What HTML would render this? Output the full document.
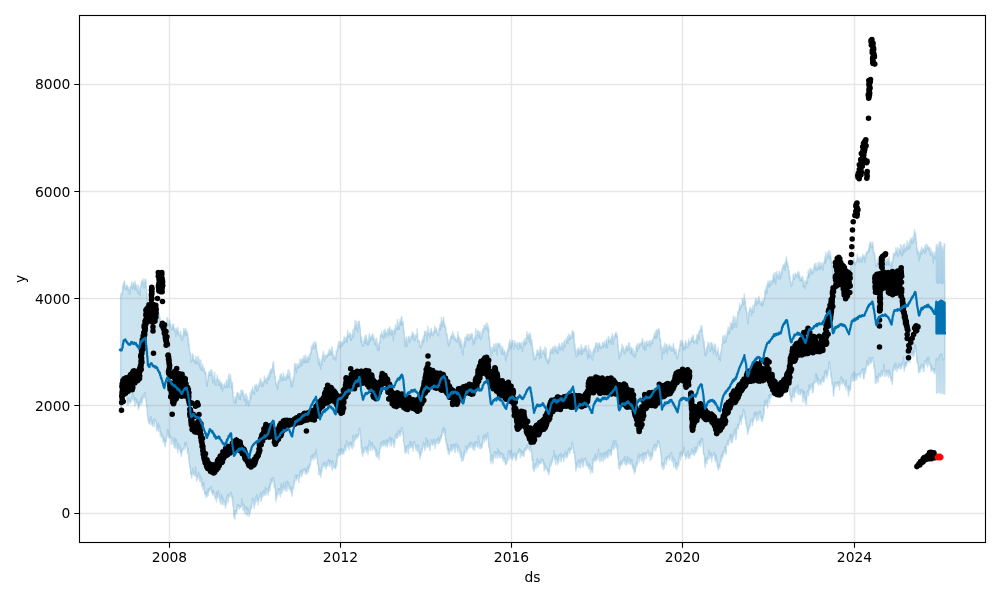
<!DOCTYPE html>
<html lang="en"><head><meta charset="utf-8"><title>Prophet forecast</title>
<style>html,body{margin:0;padding:0;background:#fff}body{width:1000px;height:600px;overflow:hidden}svg{display:block}text{font-family:"DejaVu Sans","Liberation Sans",sans-serif;font-size:13.89px;fill:#000}</style></head><body>
<svg width="1000" height="600" viewBox="0 0 1000 600">
<rect width="1000" height="600" fill="#fff"/>
<path d="M120.6,293.5 120.8,297.1 121,297.3 121.3,297.1 121.5,295.1 121.7,295.2 121.9,294.5 122.1,291.7 122.4,293.5 122.6,285.1 122.8,290.6 123,285.6 123.2,288.7 123.5,284.4 123.7,282.2 123.9,284.8 124.1,282.1 124.3,282.3 124.6,281 124.8,284.8 125,286.4 125.2,288.5 125.4,286.7 125.7,289.6 125.9,286.7 126.1,285.9 126.3,287 126.5,288.1 126.8,285.1 127,285.6 127.2,286 127.4,287.2 127.6,285.7 127.9,290.8 128.1,288.1 128.3,290.3 128.5,287.4 128.7,290.3 129,290.4 129.2,288.6 129.4,294.3 129.6,290.6 129.8,293.8 130.1,291.5 130.3,286.8 130.5,286.4 130.7,287.6 130.9,286.6 131.2,286.5 131.4,285.6 131.6,282.3 131.8,286.5 132,282.5 132.3,289.1 132.5,286.4 132.7,285.8 132.9,286.3 133.1,286.8 133.4,283.2 133.6,282.9 133.8,284.7 134,282.6 134.2,284.4 134.5,289.4 134.7,282.4 134.9,285.5 135.1,281.2 135.3,285.5 135.6,284.7 135.8,285.7 136,287.2 136.2,289.9 136.4,286.4 136.7,286.5 136.9,285 137.1,289.6 137.3,288.7 137.5,291.8 137.8,289.7 138,293.8 138.2,285.1 138.4,289.6 138.6,293.3 138.9,291.5 139.1,291.2 139.3,291.9 139.5,288.5 139.7,291.2 140,295.8 140.2,291.9 140.4,285.9 140.6,285.6 140.8,285.8 141.1,287.4 141.3,282 141.5,281 141.7,283.6 141.9,284.2 142.2,282 142.4,280.9 142.6,280.4 142.8,282.4 143,278.8 143.3,285.7 143.5,282.5 143.7,285 143.9,288.1 144.1,286.4 144.4,280.6 144.6,284.3 144.8,284.1 145,278.9 145.2,279 145.5,281.9 145.7,279.5 145.9,287.6 146.1,280.3 146.3,285.7 146.6,290 146.8,292.5 147,296.1 147.2,299.3 147.4,301.1 147.7,307.2 147.9,303.3 148.1,310.6 148.3,309.9 148.5,312.4 148.8,311.9 149,308.5 149.2,308.4 149.4,311.3 149.6,310 149.9,307.5 150.1,313.5 150.3,313.9 150.5,305.1 150.7,309 151,313.9 151.2,310 151.4,308.4 151.6,307.1 151.8,306.1 152.1,307.2 152.3,307 152.5,310.6 152.7,308.6 152.9,309 153.2,307.4 153.4,310.3 153.6,308.5 153.8,310.1 154,313 154.3,311.5 154.5,311.8 154.7,310.9 154.9,309.7 155.1,308.8 155.4,308.2 155.6,311.2 155.8,307.6 156,313.8 156.2,311.5 156.5,310.3 156.7,311.8 156.9,312.3 157.1,314.2 157.3,311.3 157.6,314.7 157.8,309.3 158,306.6 158.2,311.6 158.4,310.1 158.7,316.1 158.9,318.9 159.1,318.2 159.3,313.9 159.5,315.5 159.8,321.6 160,318.6 160.2,318.1 160.4,321 160.6,325.9 160.9,325.1 161.1,324.2 161.3,326.1 161.5,326.8 161.7,324 162,323 162.2,325.8 162.4,323.5 162.6,325.5 162.8,325.9 163.1,331.8 163.3,325.9 163.5,329 163.7,330.3 163.9,332.9 164.2,334.3 164.4,330.2 164.6,328.9 164.8,326.1 165,326.7 165.3,328.9 165.5,326.7 165.7,323.9 165.9,325 166.1,325.6 166.4,326.3 166.6,322.7 166.8,322.4 167,317.8 167.2,319.4 167.5,326.3 167.7,318 167.9,322.8 168.1,324.7 168.3,323.9 168.6,323.4 168.8,325.7 169,325.8 169.2,324.9 169.4,320 169.7,323.3 169.9,321.7 170.1,323.1 170.3,325.5 170.5,327.2 170.8,327.9 171,324.7 171.2,328 171.4,328.6 171.6,328.9 171.9,330.1 172.1,327.1 172.3,327.6 172.5,329.6 172.7,324.3 173,327.6 173.2,325.6 173.4,326.4 173.6,323.6 173.8,326 174.1,328.4 174.3,330.8 174.5,331.3 174.7,329.2 174.9,329.3 175.2,328.5 175.4,332 175.6,331.1 175.8,333.5 176,336.4 176.3,332.6 176.5,329.5 176.7,330.5 176.9,328.3 177.1,328 177.4,332.9 177.6,330.6 177.8,327 178,332.5 178.2,334.3 178.5,331.4 178.7,331.5 178.9,333.2 179.1,335.4 179.3,335.3 179.6,335.8 179.8,335 180,334.5 180.2,335.9 180.4,335.3 180.7,331.3 180.9,335.3 181.1,336.9 181.3,335.7 181.5,339.2 181.8,336.4 182,335.3 182.2,340.8 182.4,339.2 182.6,337.7 182.9,338.7 183.1,338.3 183.3,335.9 183.5,328.6 183.7,331.8 184,331.4 184.2,329.6 184.4,332.1 184.6,334.3 184.8,330.4 185.1,328.8 185.3,336 185.5,330.3 185.7,328.5 185.9,332 186.2,333.1 186.4,331.2 186.6,335.3 186.8,332.6 187,330.9 187.3,333.9 187.5,335.7 187.7,333.3 187.9,336.9 188.1,337.3 188.4,345.4 188.6,338.8 188.8,345.2 189,343.6 189.2,345.5 189.5,349.3 189.7,351.3 189.9,353.8 190.1,353.3 190.3,353 190.6,355 190.8,359.2 191,361.2 191.2,362.4 191.4,359.4 191.7,360.1 191.9,360.5 192.1,357.6 192.3,353.9 192.5,354.8 192.8,354.2 193,360.6 193.2,355 193.4,359.8 193.6,358.7 193.9,362.2 194.1,361.5 194.3,359.9 194.5,360.1 194.7,360.7 195,360.9 195.2,359.3 195.4,360.3 195.6,364 195.8,356.3 196.1,360.7 196.3,358.3 196.5,361.2 196.7,363.1 196.9,361.4 197.2,362.9 197.4,357.1 197.6,363 197.8,358.8 198,362.3 198.3,361.9 198.5,356.2 198.7,360.9 198.9,362.7 199.1,365.6 199.4,362.7 199.6,362.8 199.8,359.7 200,366.9 200.2,368.5 200.5,364.6 200.7,363.6 200.9,360.1 201.1,365.4 201.3,370.2 201.6,366.8 201.8,369.3 202,368.8 202.2,365.3 202.4,370.4 202.7,364.2 202.9,366.2 203.1,367.7 203.3,369.6 203.5,368.9 203.8,369.3 204,368.1 204.2,368.2 204.4,372.7 204.6,372.1 204.9,371 205.1,371.5 205.3,373.7 205.5,371.2 205.7,373.5 206,374 206.2,379.3 206.4,381.2 206.6,386.4 206.8,379.9 207.1,383.1 207.3,385.6 207.5,381 207.7,378.8 207.9,381.5 208.2,375.8 208.4,373.4 208.6,372.4 208.8,375.7 209,375.3 209.3,371.1 209.5,371.8 209.7,375 209.9,374.5 210.1,371.8 210.4,375.2 210.6,375.4 210.8,370 211,373.4 211.2,375.1 211.5,372.9 211.7,369.6 211.9,374.1 212.1,376.8 212.3,379.2 212.6,371.2 212.8,383 213,375.1 213.2,380.4 213.4,381.3 213.7,381 213.9,379.4 214.1,376.3 214.3,380.1 214.5,376.7 214.8,372.2 215,385.1 215.2,381.1 215.4,384.4 215.6,378.9 215.9,384.8 216.1,385.4 216.3,385.3 216.5,381.6 216.7,378.4 217,380.2 217.2,375 217.4,375.8 217.6,380.5 217.8,378.5 218.1,380.9 218.3,381.2 218.5,385.3 218.7,383.3 218.9,379.7 219.2,382.9 219.4,379.6 219.6,381.8 219.8,385.8 220,381.3 220.3,383.6 220.5,381.2 220.7,384.5 220.9,388.3 221.1,383.1 221.4,385.7 221.6,383.5 221.8,383 222,382.9 222.2,389 222.5,391 222.7,387.1 222.9,384.8 223.1,388.5 223.3,386.4 223.6,388.4 223.8,386.6 224,386 224.2,386.6 224.4,384.4 224.7,385.5 224.9,383 225.1,386.4 225.3,384.3 225.5,387.4 225.8,385.7 226,387.2 226.2,386.4 226.4,380.5 226.6,380.3 226.9,380.2 227.1,384.9 227.3,387.9 227.5,386.7 227.7,382.6 228,385.2 228.2,376.8 228.4,382.2 228.6,378 228.8,373.9 229.1,387.1 229.3,385.2 229.5,378.1 229.7,379.8 229.9,377.8 230.2,377.9 230.4,374.6 230.6,376.8 230.8,379.8 231,379.6 231.3,383.3 231.5,382.2 231.7,388.8 231.9,383 232.1,386.2 232.4,382.3 232.6,384.7 232.8,392.9 233,390.6 233.2,396.9 233.5,398.4 233.7,398.1 233.9,401.4 234.1,401.7 234.3,401.5 234.6,403.3 234.8,402.1 235,398.2 235.2,396.5 235.4,398.8 235.7,397.5 235.9,399.6 236.1,403 236.3,398.5 236.5,396.2 236.8,395.5 237,393.5 237.2,392.9 237.4,392.2 237.6,393.1 237.9,393.2 238.1,396.7 238.3,394.8 238.5,396.1 238.7,393.5 239,399.2 239.2,395.8 239.4,397.9 239.6,395.5 239.8,397.2 240.1,393.3 240.3,395.6 240.5,399.8 240.7,390.3 240.9,395.4 241.2,396.1 241.4,393.1 241.6,393.9 241.8,395 242,390.5 242.3,392.9 242.5,389.9 242.7,390.3 242.9,390.8 243.1,393.3 243.4,395.3 243.6,397.4 243.8,393.5 244,401.1 244.2,398.8 244.5,397.4 244.7,395.1 244.9,396.5 245.1,398.7 245.3,399.1 245.6,394.2 245.8,399.7 246,404.7 246.2,393.5 246.4,400.3 246.7,399 246.9,398 247.1,401.6 247.3,396.2 247.5,400 247.8,403.7 248,400.3 248.2,400.2 248.4,401.8 248.6,400.8 248.9,405.9 249.1,400.4 249.3,403.9 249.5,398.3 249.7,402.1 250,399.2 250.2,392.3 250.4,397.3 250.6,393.9 250.8,394.5 251.1,398.4 251.3,391.2 251.5,390.2 251.7,394.7 251.9,390.3 252.2,392.7 252.4,389.8 252.6,387 252.8,388.9 253,392 253.3,392.2 253.5,390.8 253.7,391.8 253.9,392.1 254.1,389.7 254.4,394.4 254.6,388.6 254.8,384.9 255,386.1 255.2,388.6 255.5,388.1 255.7,386.3 255.9,385.5 256.1,387.6 256.3,384.1 256.6,385.4 256.8,390.7 257,388 257.2,390.3 257.4,391.6 257.7,388.8 257.9,386 258.1,389.6 258.3,386.1 258.5,384.1 258.8,387.1 259,386.8 259.2,383.5 259.4,385.4 259.6,384.5 259.9,379.9 260.1,383.5 260.3,382.6 260.5,381.6 260.7,378.4 261,382.4 261.2,384 261.4,385.3 261.6,382.9 261.8,386.5 262.1,381.7 262.3,383.5 262.5,386.8 262.7,382 262.9,382.3 263.2,385.9 263.4,382.1 263.6,381.8 263.8,382.5 264,383.9 264.3,376.3 264.5,380 264.7,379.9 264.9,380.1 265.1,380.2 265.4,379.6 265.6,381.7 265.8,378.3 266,380.7 266.2,381.4 266.5,378.7 266.7,380.7 266.9,383.6 267.1,379.9 267.3,377.1 267.6,378 267.8,375.7 268,378.3 268.2,378.9 268.4,374.7 268.7,376.5 268.9,380 269.1,376.6 269.3,377.6 269.5,373.2 269.8,372.1 270,371.3 270.2,376.8 270.4,370.4 270.6,369.8 270.9,369.3 271.1,369.6 271.3,371 271.5,369.4 271.7,373.3 272,368.5 272.2,370.8 272.4,367.6 272.6,367.9 272.8,362.8 273.1,365.5 273.3,365.2 273.5,364.6 273.7,361.5 273.9,370.8 274.2,370.3 274.4,372.2 274.6,374 274.8,375.5 275,378.4 275.3,376.2 275.5,378.9 275.7,383.6 275.9,385.1 276.1,384.5 276.4,384 276.6,383.2 276.8,384.9 277,387.9 277.2,383 277.5,389.3 277.7,388 277.9,384.6 278.1,387 278.3,381.2 278.6,380 278.8,380.5 279,382.1 279.2,381.8 279.4,380.8 279.7,381.4 279.9,375.5 280.1,380.8 280.3,375.6 280.5,376.6 280.8,376.5 281,374 281.2,373.6 281.4,375.3 281.6,378.5 281.9,380.7 282.1,380.9 282.3,377.2 282.5,377.5 282.7,377 283,379.7 283.2,373.3 283.4,380.2 283.6,375.6 283.8,374.9 284.1,377.6 284.3,379.4 284.5,377.9 284.7,379.5 284.9,377.3 285.2,379.9 285.4,380 285.6,376.8 285.8,380.3 286,377.4 286.3,377.2 286.5,374.8 286.7,376.3 286.9,378.7 287.1,373.6 287.4,377.5 287.6,376.1 287.8,375.3 288,369.7 288.2,375.4 288.5,377.9 288.7,375.5 288.9,376.9 289.1,370.3 289.3,376.7 289.6,373 289.8,377.6 290,372.9 290.2,380.2 290.4,379.6 290.7,382.5 290.9,378.9 291.1,380.1 291.3,387.1 291.5,380.8 291.8,381.8 292,383.6 292.2,381.2 292.4,385.6 292.6,386.2 292.9,379.9 293.1,376.7 293.3,382.1 293.5,380.7 293.7,378.7 294,377.7 294.2,370.8 294.4,370.2 294.6,365.1 294.8,363.4 295.1,367.8 295.3,363.7 295.5,370.1 295.7,365.7 295.9,365 296.2,369.3 296.4,372.6 296.6,368.8 296.8,363.9 297,366.6 297.3,368.1 297.5,364.1 297.7,363.8 297.9,368.2 298.1,366.5 298.4,363.9 298.6,365.8 298.8,365.1 299,367.3 299.2,365.7 299.5,366.9 299.7,364.6 299.9,358.6 300.1,362.7 300.3,363.4 300.6,362 300.8,363.6 301,360.8 301.2,360.7 301.4,365.9 301.7,361.3 301.9,358.4 302.1,365.4 302.3,361.1 302.5,361.7 302.8,358.9 303,358.7 303.2,358.7 303.4,360.4 303.6,362 303.9,355.8 304.1,362.7 304.3,357.8 304.5,357.6 304.7,361.2 305,359 305.2,355.3 305.4,362.8 305.6,356.2 305.8,358.8 306.1,359.2 306.3,362.5 306.5,358.8 306.7,362.1 306.9,357.7 307.2,361.6 307.4,356.8 307.6,357.4 307.8,362.2 308,358.2 308.3,356.8 308.5,361.9 308.7,358 308.9,355.7 309.1,359.6 309.4,354.5 309.6,359 309.8,358.4 310,353.5 310.2,353 310.5,354.6 310.7,353.8 310.9,351 311.1,353.4 311.3,346.2 311.6,348.8 311.8,348 312,347.9 312.2,349 312.4,345.2 312.7,349 312.9,346.7 313.1,345 313.3,342.9 313.5,342.9 313.8,346.1 314,342.7 314.2,344.7 314.4,347 314.6,347.1 314.9,348.4 315.1,344.2 315.3,341.6 315.5,345.7 315.7,343.2 316,344.3 316.2,343.3 316.4,348 316.6,349.1 316.8,350.6 317.1,351.5 317.3,352.7 317.5,353.6 317.7,354.9 317.9,358.5 318.2,356.9 318.4,363.9 318.6,360.5 318.8,362.6 319,359.7 319.3,358.9 319.5,365.2 319.7,362 319.9,361.8 320.1,364.2 320.4,364.6 320.6,369.3 320.8,363.9 321,364.6 321.2,359.6 321.5,362.3 321.7,362.5 321.9,364.6 322.1,357.7 322.3,359.6 322.6,357.7 322.8,353.7 323,355.9 323.2,355.6 323.4,351.2 323.7,358.2 323.9,358.5 324.1,356.6 324.3,354.9 324.5,361.4 324.8,358.1 325,359.3 325.2,359.7 325.4,355 325.6,358 325.9,355.5 326.1,355.8 326.3,355.5 326.5,355.3 326.7,357.4 327,354.8 327.2,354.4 327.4,354.5 327.6,356.4 327.8,354 328.1,354.2 328.3,354.5 328.5,352.6 328.7,352.8 328.9,350.5 329.2,355.3 329.4,352.6 329.6,349.8 329.8,349 330,354.7 330.3,351.3 330.5,350.8 330.7,351.4 330.9,351 331.1,353.2 331.4,349.6 331.6,354.1 331.8,346.9 332,350.2 332.2,347.1 332.5,355 332.7,351.5 332.9,353.5 333.1,357 333.3,359 333.6,354.8 333.8,357.8 334,355.4 334.2,358.8 334.4,358.1 334.7,357.3 334.9,356.5 335.1,357 335.3,356.1 335.5,359 335.8,360.5 336,351.3 336.2,354.2 336.4,352.5 336.6,354.1 336.9,350.3 337.1,351.7 337.3,348.6 337.5,350.8 337.7,347.6 338,345.2 338.2,345.9 338.4,344.4 338.6,341.3 338.8,346.1 339.1,345.3 339.3,344.2 339.5,346.7 339.7,347.2 339.9,341.8 340.2,342.5 340.4,347.9 340.6,347.6 340.8,342.9 341,342.2 341.3,343.7 341.5,344.2 341.7,341.6 341.9,345.1 342.1,341.7 342.4,341.4 342.6,345.8 342.8,341.6 343,342.5 343.2,343.4 343.5,342.9 343.7,339.3 343.9,339.3 344.1,337 344.3,343.3 344.6,341.1 344.8,337.4 345,339.4 345.2,340.4 345.4,339.1 345.7,341.6 345.9,340.9 346.1,337.2 346.3,338.8 346.5,336.7 346.8,339.1 347,337.7 347.2,342.4 347.4,335.4 347.6,330.7 347.9,334.3 348.1,336.5 348.3,333.7 348.5,334.6 348.7,335.7 349,337.4 349.2,336 349.4,333.7 349.6,336.9 349.8,333.2 350.1,333.6 350.3,332.9 350.5,335.5 350.7,340.1 350.9,335.3 351.2,338.6 351.4,340.3 351.6,337.6 351.8,338.3 352,334.2 352.3,338.3 352.5,336.4 352.7,334.2 352.9,329.6 353.1,331.2 353.4,335.8 353.6,336.7 353.8,332.7 354,334.1 354.2,328.9 354.5,327.9 354.7,326.5 354.9,325.5 355.1,320.2 355.3,327.1 355.6,329.2 355.8,324.7 356,324.8 356.2,328.5 356.4,325.9 356.7,321.8 356.9,329 357.1,327.5 357.3,326 357.5,332 357.8,327 358,324.4 358.2,325.2 358.4,321.4 358.6,321.6 358.9,323.9 359.1,321.4 359.3,321.3 359.5,325.5 359.7,324.8 360,326.9 360.2,328.6 360.4,331.3 360.6,336.4 360.8,335.8 361.1,342.3 361.3,336.6 361.5,338.9 361.7,337 361.9,340.2 362.2,343.2 362.4,346.3 362.6,342.4 362.8,345.3 363,345.9 363.3,345.1 363.5,344 363.7,345.8 363.9,340.1 364.1,342.8 364.4,341 364.6,338.7 364.8,337.3 365,335.9 365.2,343.4 365.5,335.3 365.7,341.3 365.9,338.4 366.1,335.7 366.3,335.2 366.6,341.7 366.8,344.7 367,339.6 367.2,340.7 367.4,343.5 367.7,341.5 367.9,345.1 368.1,339 368.3,341.3 368.5,337 368.8,344.4 369,337.5 369.2,333.8 369.4,338.3 369.6,337.8 369.9,342.1 370.1,336.4 370.3,336.7 370.5,337.9 370.7,340 371,336 371.2,338.7 371.4,337.4 371.6,335.5 371.8,336.3 372.1,336.1 372.3,334.1 372.5,339.2 372.7,333.4 372.9,339.5 373.2,339.2 373.4,337.1 373.6,335.8 373.8,337.5 374,339.9 374.3,341.8 374.5,342 374.7,344.3 374.9,340.9 375.1,342.9 375.4,338.9 375.6,344.5 375.8,343.5 376,342.5 376.2,346.4 376.5,345.7 376.7,338 376.9,344.9 377.1,341.4 377.3,347.1 377.6,350.2 377.8,343.1 378,344.4 378.2,344.5 378.4,346.8 378.7,348.3 378.9,350.5 379.1,344.2 379.3,348.5 379.5,341.1 379.8,342.4 380,343.2 380.2,340.8 380.4,335.7 380.6,335 380.9,334.3 381.1,334.3 381.3,336.8 381.5,330.9 381.7,334.5 382,334.4 382.2,333.9 382.4,333.8 382.6,336.6 382.8,334.6 383.1,335.9 383.3,335.5 383.5,338.7 383.7,330.5 383.9,338.2 384.2,334.2 384.4,333.6 384.6,331.6 384.8,329.1 385,332.6 385.3,332.1 385.5,334.9 385.7,330.6 385.9,337.3 386.1,334.7 386.4,333.6 386.6,332.7 386.8,332.7 387,332.1 387.2,333.4 387.5,334.1 387.7,332.7 387.9,328.9 388.1,330.6 388.3,329 388.6,331.8 388.8,336.1 389,333.7 389.2,331.2 389.4,327.7 389.7,327.7 389.9,326.6 390.1,332.7 390.3,330.1 390.5,332.8 390.8,332 391,332.9 391.2,335.3 391.4,329.8 391.6,330.2 391.9,329.7 392.1,334.3 392.3,330.5 392.5,330.9 392.7,330.8 393,331.2 393.2,336 393.4,340.7 393.6,331.8 393.8,335.5 394.1,333 394.3,328.9 394.5,330.2 394.7,329.7 394.9,328 395.2,333.7 395.4,324.7 395.6,329.8 395.8,329.5 396,326.9 396.3,328 396.5,329 396.7,326.8 396.9,326.4 397.1,326.4 397.4,319.5 397.6,327.1 397.8,329.5 398,327 398.2,327.5 398.5,322.5 398.7,326 398.9,324.9 399.1,326 399.3,329.4 399.6,324.2 399.8,324.6 400,319.3 400.2,322.5 400.4,322.6 400.7,320.4 400.9,320 401.1,325.3 401.3,317.3 401.5,316.9 401.8,316.6 402,321.2 402.2,324.7 402.4,322.2 402.6,321.3 402.9,322.3 403.1,326 403.3,321.7 403.5,328.2 403.7,330.5 404,329.8 404.2,333.6 404.4,336.4 404.6,341.7 404.8,339 405.1,346.9 405.3,343.3 405.5,341.1 405.7,341.9 405.9,339.9 406.2,337.8 406.4,337 406.6,339 406.8,345.1 407,346.5 407.3,343.3 407.5,344.5 407.7,340.5 407.9,340.8 408.1,340.9 408.4,337.1 408.6,336.6 408.8,339.1 409,338.1 409.2,336.4 409.5,339.8 409.7,338.8 409.9,342.3 410.1,340.4 410.3,340 410.6,339.9 410.8,338.2 411,336 411.2,335.8 411.4,338.1 411.7,337.6 411.9,338.8 412.1,331.6 412.3,334.2 412.5,333.7 412.8,334.7 413,333.4 413.2,333.8 413.4,337.3 413.6,336.5 413.9,333.9 414.1,340.2 414.3,340 414.5,337 414.7,340 415,336.1 415.2,340.4 415.4,337.3 415.6,335.5 415.8,335.9 416.1,334.5 416.3,336.2 416.5,336.5 416.7,336.5 416.9,335.5 417.2,328.7 417.4,337.8 417.6,333.7 417.8,339 418,341.7 418.3,340.5 418.5,339.9 418.7,341.2 418.9,341.9 419.1,341.2 419.4,341.4 419.6,341 419.8,346.4 420,344.3 420.2,347.2 420.5,345.2 420.7,346.5 420.9,346.5 421.1,347.7 421.3,347.5 421.6,344.9 421.8,341.6 422,340.1 422.2,344.5 422.4,339.2 422.7,338.2 422.9,341.4 423.1,339.9 423.3,338.4 423.5,336 423.8,342.1 424,337.2 424.2,337.1 424.4,334.9 424.6,331.6 424.9,331.5 425.1,335.4 425.3,335.2 425.5,333.7 425.7,331.6 426,331.2 426.2,334.4 426.4,332.5 426.6,337.8 426.8,337.9 427.1,341.3 427.3,336.4 427.5,332.8 427.7,332.1 427.9,326 428.2,332.4 428.4,332.7 428.6,334.7 428.8,333.2 429,332.8 429.3,333 429.5,335 429.7,337.9 429.9,332.5 430.1,332.8 430.4,329.5 430.6,335.2 430.8,333.8 431,332.6 431.2,328.2 431.5,331.4 431.7,331 431.9,332.6 432.1,332.8 432.3,335.3 432.6,333.2 432.8,335.9 433,334.2 433.2,332.8 433.4,332.7 433.7,331.4 433.9,333.7 434.1,330.8 434.3,331.4 434.5,329.2 434.8,326.1 435,331.1 435.2,327.3 435.4,331.9 435.6,331.9 435.9,327.6 436.1,329.2 436.3,330.1 436.5,329.3 436.7,328.7 437,333.7 437.2,332.1 437.4,334.2 437.6,333 437.8,335.5 438.1,333.6 438.3,335.4 438.5,335.8 438.7,333.1 438.9,330.5 439.2,327.6 439.4,329.3 439.6,328.7 439.8,326.3 440,324.1 440.3,326.3 440.5,330 440.7,322.9 440.9,323.7 441.1,323.9 441.4,317.4 441.6,323.8 441.8,322.1 442,326.6 442.2,322.6 442.5,321.1 442.7,322 442.9,322.2 443.1,319.9 443.3,320.4 443.6,317.2 443.8,320.2 444,322.8 444.2,326.7 444.4,324.2 444.7,323.2 444.9,325.2 445.1,324.9 445.3,327.5 445.5,327.7 445.8,327.3 446,330.8 446.2,332.4 446.4,334.3 446.6,335.7 446.9,335 447.1,333.7 447.3,338.6 447.5,337.2 447.7,343.5 448,344.3 448.2,339.8 448.4,344.2 448.6,343.9 448.8,342.2 449.1,345.9 449.3,346.4 449.5,339.1 449.7,343.6 449.9,341.5 450.2,340.8 450.4,341.5 450.6,337.2 450.8,337 451,336 451.3,336.1 451.5,337.6 451.7,334.5 451.9,335.4 452.1,338.7 452.4,336.7 452.6,337.3 452.8,331.6 453,334 453.2,334.4 453.5,335.6 453.7,334.2 453.9,338.7 454.1,337.3 454.3,338.4 454.6,338.9 454.8,340.1 455,336.8 455.2,340.2 455.4,338.6 455.7,338.2 455.9,338.2 456.1,339.6 456.3,341.1 456.5,341.4 456.8,340.6 457,342.2 457.2,339.8 457.4,341.3 457.6,337.3 457.9,331.5 458.1,339.6 458.3,337.3 458.5,334.9 458.7,337.6 459,336.6 459.2,344.3 459.4,341.6 459.6,337.8 459.8,343.3 460.1,341.8 460.3,347.8 460.5,341.5 460.7,338.9 460.9,344.5 461.2,343.7 461.4,344.1 461.6,341.3 461.8,348.4 462,352.4 462.3,344.9 462.5,352.2 462.7,348.3 462.9,355.2 463.1,350 463.4,347.1 463.6,348.7 463.8,345.9 464,342.5 464.2,344.8 464.5,341.3 464.7,337.7 464.9,346.4 465.1,340.8 465.3,340.2 465.6,342.3 465.8,337 466,336.5 466.2,338.1 466.4,337.6 466.7,337.8 466.9,339 467.1,334.1 467.3,335.9 467.5,337.4 467.8,334.8 468,339.1 468.2,336.9 468.4,341 468.6,339.1 468.9,337.6 469.1,334.3 469.3,337.9 469.5,336 469.7,339.5 470,337 470.2,334.7 470.4,338.1 470.6,336.9 470.8,334 471.1,338.1 471.3,334.9 471.5,335.1 471.7,335.8 471.9,333.5 472.2,334 472.4,334.6 472.6,340.3 472.8,341.9 473,339.6 473.3,344.8 473.5,340 473.7,339.8 473.9,339.9 474.1,338.1 474.4,343.6 474.6,339.2 474.8,336.5 475,341.9 475.2,336.8 475.5,335.9 475.7,328.6 475.9,337.5 476.1,337.3 476.3,337.4 476.6,338.1 476.8,338.9 477,334 477.2,335.3 477.4,330.4 477.7,331.6 477.9,335.3 478.1,334.3 478.3,331.1 478.5,335.7 478.8,335.2 479,334.5 479.2,337.7 479.4,335 479.6,331.5 479.9,331.7 480.1,338.2 480.3,331.9 480.5,337.1 480.7,339.2 481,339.8 481.2,334.7 481.4,335.9 481.6,336.1 481.8,336.6 482.1,332.1 482.3,329.8 482.5,333.6 482.7,333.3 482.9,331.3 483.2,328.8 483.4,330.8 483.6,329.6 483.8,330.7 484,325.5 484.3,328.5 484.5,327.9 484.7,325.8 484.9,328.9 485.1,328.5 485.4,327.1 485.6,328.6 485.8,324.1 486,326.9 486.2,327.8 486.5,327.2 486.7,328.7 486.9,323.4 487.1,322.8 487.3,326.9 487.6,327.5 487.8,331.1 488,327.2 488.2,325.3 488.4,330.7 488.7,328.5 488.9,328.8 489.1,339.9 489.3,336.4 489.5,339.5 489.8,341.6 490,347 490.2,345.9 490.4,350.4 490.6,347.6 490.9,349.1 491.1,356.9 491.3,355.6 491.5,352 491.7,349.9 492,348.9 492.2,347.2 492.4,352.7 492.6,351 492.8,350.6 493.1,349.7 493.3,350.6 493.5,348.8 493.7,348.8 493.9,343.9 494.2,347.5 494.4,351.1 494.6,345.3 494.8,347 495,350 495.3,350.9 495.5,349.7 495.7,343.8 495.9,347.9 496.1,343.4 496.4,344.9 496.6,348.8 496.8,347.7 497,350.8 497.2,355.1 497.5,348.5 497.7,347.3 497.9,342.8 498.1,343.9 498.3,343.6 498.6,345.5 498.8,344.6 499,345.5 499.2,346.5 499.4,344.5 499.7,343.5 499.9,343.5 500.1,347.7 500.3,346.7 500.5,349.4 500.8,350.2 501,347.7 501.2,350.8 501.4,346 501.6,354.4 501.9,351.7 502.1,348.4 502.3,347 502.5,351.3 502.7,346.9 503,350.1 503.2,353.8 503.4,352.4 503.6,351.3 503.8,354.7 504.1,350.1 504.3,353.1 504.5,351.3 504.7,350.8 504.9,354.7 505.2,352.2 505.4,359.7 505.6,354.7 505.8,361.1 506,354.3 506.3,357.6 506.5,353 506.7,352.3 506.9,355.4 507.1,356.3 507.4,350.6 507.6,354.7 507.8,348.6 508,349.1 508.2,349.2 508.5,349.3 508.7,343.5 508.9,351 509.1,347.4 509.3,344.2 509.6,342 509.8,339.8 510,341.5 510.2,346.7 510.4,345.6 510.7,344.2 510.9,344.7 511.1,348.6 511.3,343.3 511.5,342 511.8,346 512,343.5 512.2,342.3 512.4,341.3 512.6,340 512.9,341.8 513.1,344.4 513.3,345.7 513.5,347.7 513.7,348.8 514,348.8 514.2,348.1 514.4,344.3 514.6,340.6 514.8,343.4 515.1,342.7 515.3,343.7 515.5,345 515.7,343.1 515.9,343.7 516.2,346.1 516.4,346.5 516.6,344.6 516.8,346.9 517,344.8 517.3,342.6 517.5,344.9 517.7,349.6 517.9,344.2 518.1,348.9 518.4,349.2 518.6,348.7 518.8,342.6 519,348.4 519.2,343.7 519.5,342.6 519.7,342.5 519.9,344.2 520.1,343.5 520.3,343.7 520.6,347.9 520.8,344.1 521,343.1 521.2,346.9 521.4,346.3 521.7,346.9 521.9,342.7 522.1,348.4 522.3,347.7 522.5,351.2 522.8,343.9 523,346.9 523.2,344.7 523.4,340.7 523.6,342.1 523.9,345.8 524.1,341.5 524.3,340.2 524.5,343.1 524.7,342.6 525,341.9 525.2,338.1 525.4,340.9 525.6,344.6 525.8,341.8 526.1,340.9 526.3,343 526.5,343.3 526.7,335.6 526.9,331.8 527.2,334.4 527.4,335.5 527.6,337.5 527.8,338.9 528,336.8 528.3,335.2 528.5,336.8 528.7,334.1 528.9,336.1 529.1,334.6 529.4,342.1 529.6,337.5 529.8,333.4 530,332.9 530.2,335.6 530.5,334.8 530.7,338.8 530.9,340.7 531.1,345.2 531.3,342 531.6,340.9 531.8,339.8 532,341.2 532.2,345.1 532.4,346.1 532.7,350.5 532.9,348.2 533.1,353.8 533.3,353.8 533.5,355 533.8,351.8 534,354.9 534.2,359.1 534.4,360 534.6,357.7 534.9,359.4 535.1,357.1 535.3,357.4 535.5,356.2 535.7,359.5 536,357.6 536.2,355.5 536.4,354 536.6,354.7 536.8,352.9 537.1,349.4 537.3,355.1 537.5,351.7 537.7,351 537.9,354.6 538.2,354.1 538.4,352.1 538.6,354.1 538.8,351.1 539,353 539.3,350.1 539.5,358.9 539.7,350.2 539.9,354.4 540.1,349 540.4,346.8 540.6,349.9 540.8,352.3 541,354.4 541.2,358 541.5,353.9 541.7,354.3 541.9,350 542.1,352.7 542.3,352.2 542.6,351.6 542.8,353.2 543,353.2 543.2,353.1 543.4,353 543.7,350.3 543.9,349.8 544.1,353.9 544.3,348.9 544.5,352.1 544.8,357 545,347 545.2,351.4 545.4,354.3 545.6,349.4 545.9,359.7 546.1,348.3 546.3,358.2 546.5,360 546.7,360 547,358.9 547.2,361.5 547.4,358.8 547.6,362.9 547.8,358.7 548.1,360.7 548.3,363.6 548.5,358.6 548.7,360.2 548.9,361.5 549.2,357.1 549.4,361.6 549.6,358.4 549.8,352.7 550,354.5 550.3,351.3 550.5,350 550.7,350.9 550.9,348.7 551.1,352.6 551.4,349.1 551.6,352.9 551.8,350.5 552,352.4 552.2,349 552.5,348.8 552.7,347 552.9,350.7 553.1,351.2 553.3,353.6 553.6,351.4 553.8,348.7 554,347.3 554.2,348.3 554.4,347.1 554.7,350.2 554.9,349 555.1,345.5 555.3,346.5 555.5,351.8 555.8,349.7 556,348.6 556.2,352 556.4,348.5 556.6,349.3 556.9,349.6 557.1,346.7 557.3,353.5 557.5,348.8 557.7,350.3 558,349.9 558.2,353.3 558.4,350.5 558.6,349.5 558.8,344.5 559.1,347.1 559.3,343.4 559.5,347 559.7,346.6 559.9,345.3 560.2,350.3 560.4,347.1 560.6,347.6 560.8,346.8 561,345.8 561.3,348.2 561.5,348.4 561.7,342.7 561.9,348.1 562.1,346.8 562.4,347.8 562.6,346.9 562.8,343.3 563,343.8 563.2,351 563.5,347.2 563.7,342.9 563.9,346.6 564.1,344.3 564.3,341.1 564.6,340.4 564.8,342.3 565,346.9 565.2,345.5 565.4,344.3 565.7,344.8 565.9,344.8 566.1,338.4 566.3,342.3 566.5,340.8 566.8,339.5 567,340.5 567.2,340.9 567.4,340 567.6,336.6 567.9,338.2 568.1,343.4 568.3,335.9 568.5,334.1 568.7,338.4 569,338.9 569.2,338.3 569.4,334.7 569.6,339.7 569.8,335.7 570.1,335.1 570.3,336 570.5,336.9 570.7,338.5 570.9,338 571.2,336.4 571.4,338.5 571.6,336.4 571.8,338.1 572,332.3 572.3,331.3 572.5,336.1 572.7,330.5 572.9,331.9 573.1,332.4 573.4,332.2 573.6,333.3 573.8,339.4 574,332.3 574.2,342 574.5,346.7 574.7,343.1 574.9,344.5 575.1,347.8 575.3,352.5 575.6,348.1 575.8,353.5 576,355.4 576.2,356.8 576.4,355.5 576.7,356.4 576.9,353.6 577.1,353.5 577.3,350.6 577.5,349.4 577.8,349.4 578,349.9 578.2,348 578.4,354.8 578.6,351.2 578.9,347.9 579.1,353.3 579.3,349.1 579.5,351.9 579.7,350.6 580,351 580.2,350.7 580.4,348.9 580.6,350.2 580.8,354.6 581.1,344.7 581.3,349.9 581.5,350.8 581.7,347.4 581.9,346.7 582.2,354.5 582.4,348.3 582.6,353.5 582.8,349.5 583,348.6 583.3,349.7 583.5,350.2 583.7,351.6 583.9,349.6 584.1,348.7 584.4,348.5 584.6,351 584.8,349.9 585,345.8 585.2,347.2 585.5,349.7 585.7,347.1 585.9,347.4 586.1,345.7 586.3,347.4 586.6,349.8 586.8,352 587,350.6 587.2,355.8 587.4,351 587.7,358.7 587.9,353.9 588.1,352.8 588.3,350.6 588.5,345.4 588.8,351.6 589,352.5 589.2,356.8 589.4,349.5 589.6,357.4 589.9,353.2 590.1,356.4 590.3,349.7 590.5,356.6 590.7,355 591,356.8 591.2,354.9 591.4,352 591.6,358.2 591.8,358.9 592.1,359.7 592.3,360.2 592.5,359.3 592.7,355.7 592.9,351.5 593.2,350.4 593.4,355.7 593.6,353.3 593.8,350.9 594,348.8 594.3,349.6 594.5,349.3 594.7,348.1 594.9,346.6 595.1,352.3 595.4,347 595.6,344.3 595.8,342.4 596,343.6 596.2,346.7 596.5,346.6 596.7,344.4 596.9,345 597.1,344.5 597.3,343.1 597.6,348.7 597.8,346.6 598,351.5 598.2,344.1 598.4,345.6 598.7,348 598.9,345.5 599.1,342.6 599.3,343 599.5,344.8 599.8,344.7 600,344.1 600.2,347.3 600.4,348 600.6,347.1 600.9,346.7 601.1,346.1 601.3,348 601.5,348.9 601.7,346.7 602,347.3 602.2,345.2 602.4,342.4 602.6,342.8 602.8,346.3 603.1,345.1 603.3,347.4 603.5,343.1 603.7,344.2 603.9,344.5 604.2,343.6 604.4,341 604.6,343.2 604.8,345 605,343 605.3,345.9 605.5,346.7 605.7,342.9 605.9,347.8 606.1,341.6 606.4,340.8 606.6,339.7 606.8,339.2 607,343.1 607.2,343.1 607.5,347.8 607.7,344.6 607.9,343.3 608.1,340.4 608.3,336.5 608.6,339.3 608.8,337.3 609,341.2 609.2,338.7 609.4,342.6 609.7,340.4 609.9,340.6 610.1,339.3 610.3,339.7 610.5,341.3 610.8,342.4 611,338.6 611.2,340.4 611.4,344.3 611.6,337.2 611.9,336.3 612.1,335.4 612.3,333.7 612.5,339.8 612.7,337.5 613,338.5 613.2,342.5 613.4,344.5 613.6,336.5 613.8,340.7 614.1,339.4 614.3,338.3 614.5,337.4 614.7,335 614.9,337.6 615.2,334.2 615.4,333 615.6,334.6 615.8,333.3 616,332.1 616.3,332.7 616.5,337 616.7,335.1 616.9,334.9 617.1,334.8 617.4,337.6 617.6,338.3 617.8,343.5 618,346.6 618.2,343.9 618.5,351.4 618.7,355.2 618.9,356.3 619.1,354.4 619.3,359 619.6,353.9 619.8,352 620,351.7 620.2,353.5 620.4,355.6 620.7,355.9 620.9,353.6 621.1,350.3 621.3,350.2 621.5,348.4 621.8,348.7 622,343.9 622.2,348.5 622.4,350 622.6,348.5 622.9,350.3 623.1,347.4 623.3,346.5 623.5,348.8 623.7,353.1 624,352.7 624.2,349.2 624.4,353 624.6,349.5 624.8,354 625.1,351.8 625.3,349.7 625.5,352.3 625.7,348.2 625.9,347.4 626.2,345.8 626.4,349.3 626.6,348.1 626.8,347.6 627,346.3 627.3,350.7 627.5,346.6 627.7,346 627.9,350.6 628.1,350.5 628.4,347.7 628.6,342.5 628.8,344.8 629,347.5 629.2,346.1 629.5,349.6 629.7,343.2 629.9,349.1 630.1,347.3 630.3,353 630.6,350.4 630.8,352.9 631,348.9 631.2,347.1 631.4,348 631.7,349.6 631.9,349 632.1,354.6 632.3,354.8 632.5,352 632.8,348.6 633,350.3 633.2,350 633.4,356 633.6,354.5 633.9,356 634.1,354.3 634.3,351 634.5,354.3 634.7,353.9 635,357.7 635.2,356.2 635.4,352.9 635.6,352.4 635.8,355.2 636.1,347.7 636.3,346.1 636.5,346.6 636.7,345.3 636.9,345.6 637.2,348.2 637.4,351.3 637.6,343.5 637.8,347.8 638,348.2 638.3,347.6 638.5,346.8 638.7,345.9 638.9,348.5 639.1,344.4 639.4,344.5 639.6,344 639.8,343.6 640,342.9 640.2,345.9 640.5,344 640.7,344.7 640.9,344.6 641.1,342.8 641.3,343.6 641.6,343 641.8,344.4 642,340.9 642.2,338.6 642.4,341.2 642.7,343.1 642.9,339.1 643.1,348.1 643.3,344.8 643.5,344.5 643.8,347.3 644,345.1 644.2,343.4 644.4,349.7 644.6,342 644.9,344.1 645.1,346.4 645.3,342.2 645.5,344.7 645.7,346.1 646,350.2 646.2,342.4 646.4,344.2 646.6,345.6 646.8,344 647.1,340.7 647.3,344.1 647.5,343.2 647.7,344 647.9,345.6 648.2,345.4 648.4,344.1 648.6,344.2 648.8,341.2 649,343.7 649.3,344.4 649.5,342.4 649.7,343 649.9,340.4 650.1,345.5 650.4,346.8 650.6,340.8 650.8,342.4 651,340.9 651.2,344.4 651.5,342.5 651.7,341.8 651.9,341.1 652.1,342 652.3,339.5 652.6,343.4 652.8,338.9 653,340.4 653.2,338.2 653.4,339.3 653.7,336.4 653.9,338.4 654.1,333.7 654.3,337.1 654.5,335.1 654.8,335.9 655,335.5 655.2,337.6 655.4,331.1 655.6,336.7 655.9,332.8 656.1,338.7 656.3,330.5 656.5,332 656.7,329.6 657,337.3 657.2,330.9 657.4,334.5 657.6,333.3 657.8,329.3 658.1,331.2 658.3,332.1 658.5,328.8 658.7,331.4 658.9,328.4 659.2,330.6 659.4,331.6 659.6,334.8 659.8,340 660,338 660.3,339.3 660.5,339.6 660.7,341.6 660.9,349.1 661.1,345.4 661.4,347.9 661.6,351.8 661.8,353.1 662,359.7 662.2,348.2 662.5,353 662.7,352.2 662.9,347.4 663.1,348.3 663.3,350.6 663.6,353.2 663.8,347.4 664,346 664.2,351.9 664.4,353.3 664.7,348.2 664.9,343 665.1,350.8 665.3,346.5 665.5,349.2 665.8,346.1 666,345 666.2,344.8 666.4,350.3 666.6,351.4 666.9,344.3 667.1,347.7 667.3,353.7 667.5,348.5 667.7,346 668,349 668.2,348.6 668.4,348.4 668.6,347.3 668.8,347.2 669.1,346.2 669.3,347.4 669.5,344.1 669.7,345.5 669.9,346.3 670.2,350.1 670.4,348.4 670.6,346.6 670.8,347.3 671,346.3 671.3,347.8 671.5,347.4 671.7,351.3 671.9,351.2 672.1,348.7 672.4,347.4 672.6,349.8 672.8,348.5 673,346.8 673.2,344.1 673.5,343.6 673.7,349 673.9,350.6 674.1,351.5 674.3,347.6 674.6,353.9 674.8,350.6 675,352.8 675.2,352.9 675.4,350.1 675.7,351.4 675.9,349 676.1,352.7 676.3,351.7 676.5,357.2 676.8,356.6 677,358.8 677.2,357.8 677.4,355.4 677.6,357.3 677.9,354 678.1,354.8 678.3,353.4 678.5,349.8 678.7,351.4 679,350.7 679.2,348.6 679.4,350.1 679.6,350.6 679.8,344.9 680.1,344.7 680.3,340.7 680.5,346.1 680.7,345.1 680.9,340.4 681.2,345.2 681.4,345.1 681.6,341.8 681.8,342.6 682,341.2 682.3,345.2 682.5,340.4 682.7,343.8 682.9,349.7 683.1,345.9 683.4,347.2 683.6,346.2 683.8,344.1 684,347.1 684.2,348.1 684.5,344.8 684.7,348 684.9,349.9 685.1,348.7 685.3,341.9 685.6,342.5 685.8,340.7 686,347 686.2,346.1 686.4,346.5 686.7,343.3 686.9,343.4 687.1,346.9 687.3,347.7 687.5,345.3 687.8,347 688,347.5 688.2,345.6 688.4,342 688.6,338.9 688.9,342.5 689.1,342.8 689.3,341.9 689.5,341.8 689.7,341.4 690,344.8 690.2,342.9 690.4,343.2 690.6,340.5 690.8,341.1 691.1,342.1 691.3,338.5 691.5,337.1 691.7,338.5 691.9,341.4 692.2,338.7 692.4,341.3 692.6,337.5 692.8,337.3 693,334.9 693.3,336.9 693.5,342.2 693.7,340.6 693.9,342.6 694.1,343.5 694.4,341.7 694.6,340.7 694.8,340.8 695,341.5 695.2,341.3 695.5,341.7 695.7,341.2 695.9,339.4 696.1,340.4 696.3,338.3 696.6,342.3 696.8,334.7 697,338.5 697.2,344 697.4,337.3 697.7,334.8 697.9,336.3 698.1,338.2 698.3,333.8 698.5,334.9 698.8,333.4 699,332 699.2,340.2 699.4,332.7 699.6,330.4 699.9,329.7 700.1,330.8 700.3,330.6 700.5,331.4 700.7,329.9 701,326.2 701.2,330.3 701.4,327.8 701.6,327.4 701.8,325.6 702.1,329.9 702.3,331.7 702.5,335.5 702.7,334.3 702.9,338.5 703.2,339.8 703.4,338.3 703.6,340.8 703.8,341.9 704,347.5 704.3,341.1 704.5,347.8 704.7,346.8 704.9,351.7 705.1,355.2 705.4,351.3 705.6,352.6 705.8,349.9 706,355.8 706.2,353.2 706.5,353.6 706.7,347.8 706.9,348.2 707.1,352.1 707.3,347.6 707.6,345.9 707.8,345.7 708,341.7 708.2,346.5 708.4,344.9 708.7,346 708.9,343.6 709.1,346.5 709.3,343.8 709.5,348 709.8,349.5 710,350.2 710.2,350.5 710.4,351.3 710.6,342.8 710.9,350.1 711.1,346.7 711.3,346.9 711.5,345.4 711.7,342.3 712,343.6 712.2,346.5 712.4,348.9 712.6,344.7 712.8,344.7 713.1,350.8 713.3,346.2 713.5,353.8 713.7,350 713.9,347.3 714.2,350.8 714.4,351.6 714.6,343.6 714.8,350.6 715,346.5 715.3,350.8 715.5,346.7 715.7,344.9 715.9,350.6 716.1,352.6 716.4,356.1 716.6,355.4 716.8,353.1 717,351.1 717.2,350.7 717.5,351.7 717.7,351 717.9,352.8 718.1,347.7 718.3,353.9 718.6,353.3 718.8,359.2 719,356.1 719.2,354.7 719.4,358.6 719.7,356 719.9,358 720.1,354.6 720.3,360.8 720.5,357.5 720.8,351.6 721,352.4 721.2,352.9 721.4,350.1 721.6,348.6 721.9,344.5 722.1,343.8 722.3,344 722.5,343.8 722.7,338.2 723,335.9 723.2,340.3 723.4,336.3 723.6,341.6 723.8,340.5 724.1,341.9 724.3,343.1 724.5,339.9 724.7,339.3 724.9,335 725.2,335.4 725.4,338.5 725.6,340.5 725.8,340.1 726,342 726.3,337.2 726.5,336.8 726.7,338 726.9,334.9 727.1,334 727.4,331 727.6,334.8 727.8,329.2 728,332 728.2,326.9 728.5,333.3 728.7,329 728.9,334 729.1,328.5 729.3,330.2 729.6,332.9 729.8,327.4 730,328.8 730.2,327.3 730.4,322.8 730.7,328.5 730.9,328.4 731.1,324.3 731.3,327.6 731.5,323.8 731.8,323 732,325 732.2,323.2 732.4,330 732.6,320.1 732.9,324.3 733.1,323.8 733.3,315.9 733.5,317.8 733.7,324.4 734,323.3 734.2,326.3 734.4,327.4 734.6,323.3 734.8,321 735.1,316.7 735.3,323.6 735.5,321.2 735.7,324.2 735.9,324.1 736.2,320.3 736.4,327.1 736.6,325.4 736.8,323.8 737,317.6 737.3,317.9 737.5,316 737.7,314.8 737.9,311.7 738.1,313.8 738.4,311.9 738.6,311.7 738.8,309.4 739,313.3 739.2,310.7 739.5,303.3 739.7,307.4 739.9,308.1 740.1,309.9 740.3,306.7 740.6,306.6 740.8,305.5 741,308.3 741.2,305.5 741.4,304.8 741.7,304.2 741.9,306.5 742.1,302.6 742.3,298.5 742.5,302.3 742.8,298.7 743,301.6 743.2,302.1 743.4,304.5 743.6,303.4 743.9,298.3 744.1,297.9 744.3,293.9 744.5,301.5 744.7,300.6 745,304.6 745.2,302.6 745.4,299.6 745.6,308.8 745.8,306.4 746.1,307.6 746.3,309.3 746.5,312.5 746.7,314 746.9,311 747.2,319.2 747.4,317.5 747.6,319.7 747.8,323.9 748,321 748.3,317.1 748.5,312.5 748.7,316.2 748.9,316.2 749.1,314 749.4,310.4 749.6,310.3 749.8,308 750,310.1 750.2,310.6 750.5,311 750.7,307.2 750.9,309.7 751.1,310.7 751.3,308.7 751.6,309.9 751.8,315.5 752,311.5 752.2,312.6 752.4,309.2 752.7,309.9 752.9,305.4 753.1,308.7 753.3,310.9 753.5,312.4 753.8,309.7 754,308 754.2,305.9 754.4,303.9 754.6,304.2 754.9,305.1 755.1,300.9 755.3,304 755.5,299.5 755.7,298.3 756,300.7 756.2,300 756.4,300.3 756.6,305.3 756.8,301.4 757.1,301.6 757.3,303.4 757.5,303.5 757.7,299.3 757.9,303.4 758.2,300.9 758.4,299.8 758.6,300.6 758.8,296.1 759,297.6 759.3,299.7 759.5,301.8 759.7,300 759.9,300.6 760.1,303.2 760.4,304.3 760.6,303.1 760.8,304.7 761,301.3 761.2,302 761.5,303.6 761.7,302.1 761.9,301.5 762.1,306.3 762.3,302.4 762.6,300.3 762.8,303 763,305.3 763.2,301.3 763.4,304.1 763.7,300.4 763.9,300.4 764.1,298.1 764.3,297.3 764.5,299.8 764.8,290.9 765,296.2 765.2,289.4 765.4,290.4 765.6,292.2 765.9,291.4 766.1,290.3 766.3,285.5 766.5,289.7 766.7,286 767,293.6 767.2,287 767.4,287.4 767.6,283.3 767.8,283.8 768.1,280.9 768.3,285.8 768.5,283.1 768.7,285.2 768.9,282.5 769.2,283.2 769.4,287.5 769.6,282.6 769.8,281 770,285.6 770.3,281.5 770.5,282.4 770.7,284.9 770.9,280.6 771.1,284.1 771.4,280.1 771.6,284.8 771.8,284.7 772,280.8 772.2,281.7 772.5,280.2 772.7,281.2 772.9,282.1 773.1,274.8 773.3,279.5 773.6,274.3 773.8,275.4 774,273.2 774.2,282.1 774.4,277.1 774.7,277.2 774.9,274.8 775.1,279.2 775.3,272.8 775.5,278.5 775.8,284.3 776,277.2 776.2,276.6 776.4,276.5 776.6,271.5 776.9,273.8 777.1,276.5 777.3,275.3 777.5,276.1 777.7,274.5 778,276 778.2,275.4 778.4,278.7 778.6,277.5 778.8,275.7 779.1,271.1 779.3,278.6 779.5,278.6 779.7,274.6 779.9,272 780.2,274.1 780.4,279.1 780.6,274.8 780.8,276.5 781,277.1 781.3,277.2 781.5,272.2 781.7,269.8 781.9,268.4 782.1,273.5 782.4,272.3 782.6,269.8 782.8,265.6 783,265.7 783.2,268.1 783.5,264.4 783.7,267.7 783.9,266 784.1,265.4 784.3,265.9 784.6,265.8 784.8,262.9 785,264.4 785.2,270.4 785.4,261.3 785.7,262.1 785.9,264.7 786.1,261 786.3,258.8 786.5,256.8 786.8,260.3 787,261.4 787.2,264.1 787.4,263 787.6,267.2 787.9,263.5 788.1,267 788.3,265.8 788.5,268.5 788.7,271.3 789,273.7 789.2,270.6 789.4,277.5 789.6,275.2 789.8,275.7 790.1,279.4 790.3,278.1 790.5,282.7 790.7,284.6 790.9,284.7 791.2,286.5 791.4,284.6 791.6,285.4 791.8,282.1 792,285.1 792.3,281.7 792.5,281.3 792.7,280.8 792.9,280.3 793.1,275 793.4,274.1 793.6,275.9 793.8,277.2 794,276.8 794.2,278.2 794.5,279.3 794.7,277.3 794.9,275.9 795.1,273.3 795.3,273.3 795.6,274.1 795.8,275.5 796,275.1 796.2,274.4 796.4,274.6 796.7,276.9 796.9,276.5 797.1,277 797.3,276.4 797.5,273.8 797.8,272 798,274.9 798.2,274.2 798.4,272.4 798.6,271.5 798.9,278.1 799.1,272.5 799.3,275.1 799.5,277.5 799.7,274.6 800,277.4 800.2,281.1 800.4,278.9 800.6,278.4 800.8,278.7 801.1,278 801.3,280.3 801.5,277.8 801.7,277.3 801.9,278.5 802.2,280.6 802.4,280 802.6,281.4 802.8,275.9 803,283.8 803.3,286.6 803.5,284.5 803.7,280.9 803.9,280.1 804.1,283.6 804.4,281.7 804.6,286.5 804.8,284.2 805,287.7 805.2,288.7 805.5,281 805.7,286.1 805.9,283 806.1,280.5 806.3,281.5 806.6,281.6 806.8,283.6 807,276.9 807.2,282 807.4,282.7 807.7,277.7 807.9,275.9 808.1,273 808.3,270.1 808.5,273.7 808.8,273.1 809,273.5 809.2,277.5 809.4,273.2 809.6,272.3 809.9,274.8 810.1,268.3 810.3,268.8 810.5,270.7 810.7,269.8 811,272.1 811.2,268.9 811.4,272.9 811.6,272.7 811.8,272.1 812.1,270.7 812.3,274.2 812.5,274.5 812.7,269.4 812.9,271.9 813.2,271.8 813.4,269.9 813.6,272.2 813.8,270.6 814,265.1 814.3,266.8 814.5,264.2 814.7,267 814.9,263.3 815.1,267.8 815.4,267 815.6,268.8 815.8,266.5 816,263.4 816.2,270.8 816.5,266.4 816.7,269.8 816.9,267.3 817.1,267.6 817.3,269.9 817.6,266.4 817.8,269.2 818,262.8 818.2,268.6 818.4,265.9 818.7,265.8 818.9,265.7 819.1,266.1 819.3,269.4 819.5,261.8 819.8,266.6 820,265.3 820.2,269.1 820.4,264.9 820.6,266.2 820.9,263.7 821.1,266.4 821.3,267.4 821.5,264.4 821.7,265.7 822,262.6 822.2,267 822.4,268.6 822.6,265.8 822.8,270.3 823.1,263.5 823.3,264.2 823.5,264.4 823.7,264.4 823.9,263.5 824.2,261.2 824.4,260.2 824.6,261.7 824.8,258.7 825,256.6 825.3,256.1 825.5,263.1 825.7,252.2 825.9,256.5 826.1,260.5 826.4,258.6 826.6,256 826.8,258.3 827,259.2 827.2,258.8 827.5,252.8 827.7,255.6 827.9,254.4 828.1,256.4 828.3,257 828.6,253 828.8,250.4 829,254.5 829.2,257.6 829.4,254.7 829.7,253.3 829.9,258.8 830.1,251.4 830.3,256.6 830.5,254.2 830.8,256.6 831,257.6 831.2,262.8 831.4,259.3 831.6,262.3 831.9,261.9 832.1,268 832.3,267 832.5,270.2 832.7,267.9 833,271.7 833.2,275 833.4,271.8 833.6,273.3 833.8,272.9 834.1,270.6 834.3,267.7 834.5,273.3 834.7,271 834.9,272.4 835.2,265.5 835.4,266.3 835.6,264.9 835.8,267.5 836,271.6 836.3,270 836.5,267.7 836.7,267.3 836.9,267.9 837.1,265.4 837.4,267.4 837.6,267.3 837.8,262.3 838,266.9 838.2,271.3 838.5,267.7 838.7,268.7 838.9,267.4 839.1,267.5 839.3,270.9 839.6,267.4 839.8,265.3 840,260.1 840.2,265.5 840.4,261.8 840.7,261.6 840.9,267.2 841.1,266.6 841.3,260.6 841.5,267.8 841.8,267.6 842,265.6 842.2,269.3 842.4,263.4 842.6,264 842.9,263 843.1,263.5 843.3,268 843.5,262.7 843.7,263 844,263.6 844.2,266.5 844.4,265.6 844.6,268.6 844.8,266 845.1,265.8 845.3,269.1 845.5,271.7 845.7,269.4 845.9,272.1 846.2,275.5 846.4,270 846.6,272.3 846.8,276.2 847,272.4 847.3,272.5 847.5,271.7 847.7,274.8 847.9,274.8 848.1,273.5 848.4,275 848.6,278.9 848.8,279.1 849,274.1 849.2,275.6 849.5,274.3 849.7,274.1 849.9,270.8 850.1,269.1 850.3,268.8 850.6,265 850.8,269.1 851,267.9 851.2,270.6 851.4,267.4 851.7,267.1 851.9,264.2 852.1,262.6 852.3,265.8 852.5,262.5 852.8,263.9 853,259.6 853.2,261.9 853.4,257.9 853.6,260.8 853.9,260.8 854.1,263.3 854.3,262.5 854.5,261.7 854.7,264.1 855,262.8 855.2,263.9 855.4,264.7 855.6,263.1 855.8,262.1 856.1,262.7 856.3,260 856.5,261 856.7,261.9 856.9,260.6 857.2,257 857.4,254.2 857.6,257.4 857.8,257.7 858,261 858.3,258.1 858.5,258.4 858.7,260.6 858.9,257.8 859.1,258.4 859.4,262.6 859.6,262 859.8,259.9 860,259.1 860.2,256.8 860.5,260.8 860.7,260.2 860.9,260.7 861.1,258.5 861.3,259.3 861.6,258.4 861.8,259.5 862,262.3 862.2,260.1 862.4,255.6 862.7,256.7 862.9,254.4 863.1,255.4 863.3,257.7 863.5,257.9 863.8,256.5 864,259.4 864.2,257.4 864.4,255.9 864.6,256 864.9,257.3 865.1,262.5 865.3,255 865.5,259.9 865.7,259 866,254.6 866.2,254.1 866.4,252.1 866.6,252.8 866.8,253.7 867.1,251.6 867.3,253.4 867.5,253.3 867.7,251.2 867.9,251.4 868.2,250.9 868.4,252.2 868.6,248 868.8,250 869,248.1 869.3,244.1 869.5,250.8 869.7,243.7 869.9,244 870.1,246.7 870.4,241.6 870.6,244.2 870.8,242.5 871,243.7 871.2,245.4 871.5,246.3 871.7,247.9 871.9,246.9 872.1,247 872.3,244.8 872.6,242 872.8,246.8 873,244.7 873.2,246.1 873.4,252.7 873.7,252.3 873.9,252.1 874.1,254.4 874.3,255.8 874.5,252.1 874.8,256.6 875,255.7 875.2,260.3 875.4,259.8 875.6,265.8 875.9,265.2 876.1,263.4 876.3,266.2 876.5,264.2 876.7,265.8 877,265.7 877.2,264.6 877.4,259.2 877.6,262.5 877.8,264 878.1,263.1 878.3,264.5 878.5,258.4 878.7,262.4 878.9,258.7 879.2,259.7 879.4,259.2 879.6,259.4 879.8,256.6 880,258.5 880.3,255.5 880.5,255.2 880.7,259.9 880.9,258.7 881.1,255.4 881.4,256.7 881.6,257.9 881.8,260.6 882,258.6 882.2,258.4 882.5,252.9 882.7,257.3 882.9,259.1 883.1,258.3 883.3,257.8 883.6,255.7 883.8,259.9 884,260.1 884.2,257.4 884.4,256.3 884.7,264.1 884.9,258.5 885.1,263.1 885.3,265.4 885.5,259.3 885.8,262.1 886,260.7 886.2,262.7 886.4,261.8 886.6,264.7 886.9,260.7 887.1,258.5 887.3,261.2 887.5,258.6 887.7,258.9 888,265.5 888.2,258.7 888.4,259.7 888.6,261.1 888.8,258.8 889.1,256.8 889.3,264.6 889.5,260.8 889.7,261.9 889.9,263.4 890.2,263.1 890.4,264 890.6,267.5 890.8,271.8 891,267.2 891.3,266.5 891.5,261.3 891.7,264.8 891.9,261.9 892.1,266.3 892.4,263.1 892.6,262 892.8,260.1 893,257.3 893.2,254.1 893.5,258.4 893.7,253.4 893.9,253.3 894.1,254.5 894.3,252.9 894.6,254.5 894.8,255.6 895,253.4 895.2,252.9 895.4,252 895.7,253.5 895.9,247.6 896.1,253.1 896.3,250.4 896.5,250 896.8,253 897,252.2 897.2,254.6 897.4,255.8 897.6,247.6 897.9,252.5 898.1,256.8 898.3,254.2 898.5,255.6 898.7,252.7 899,249.3 899.2,249.8 899.4,253.6 899.6,253.7 899.8,249.3 900.1,249.7 900.3,249.9 900.5,244.4 900.7,246.7 900.9,252 901.2,254.5 901.4,250.3 901.6,255.9 901.8,250.2 902,249.2 902.3,245.6 902.5,252.6 902.7,249.1 902.9,254.9 903.1,249.9 903.4,249.3 903.6,244.6 903.8,252.1 904,247.7 904.2,248.3 904.5,244 904.7,251.5 904.9,252 905.1,248.1 905.3,249 905.6,249 905.8,249.6 906,247.2 906.2,250.8 906.4,246.1 906.7,245.1 906.9,245.5 907.1,240.9 907.3,245.1 907.5,249.4 907.8,248.2 908,246.3 908.2,249.2 908.4,243.8 908.6,246.3 908.9,246.6 909.1,245.5 909.3,241.1 909.5,245.7 909.7,248.7 910,244.2 910.2,246.9 910.4,240.4 910.6,238.3 910.8,243 911.1,240.8 911.3,240.6 911.5,238.2 911.7,238.3 911.9,241 912.2,243.8 912.4,240 912.6,237.3 912.8,243.4 913,240.8 913.3,240 913.5,237.9 913.7,241.8 913.9,235.7 914.1,235.8 914.4,229.5 914.6,232.4 914.8,232.2 915,233.7 915.2,234.6 915.5,232.2 915.7,239.9 915.9,235.9 916.1,239.6 916.3,243.1 916.6,241.6 916.8,247.7 917,249.5 917.2,248 917.4,253.7 917.7,250.2 917.9,251.9 918.1,250.8 918.3,250.9 918.5,255.1 918.8,257.4 919,258.6 919.2,260.9 919.4,253 919.6,254.7 919.9,251.7 920.1,257.6 920.3,251.9 920.5,251.7 920.7,250 921,254.3 921.2,251.3 921.4,252.4 921.6,246.9 921.8,254 922.1,251.8 922.3,251.8 922.5,253 922.7,249.3 922.9,249.1 923.2,251 923.4,250.2 923.6,248.5 923.8,249.1 924,247.9 924.3,250.8 924.5,251.4 924.7,249.2 924.9,253.3 925.1,245.3 925.4,248.3 925.6,252.5 925.8,247.2 926,244.2 926.2,250.8 926.5,248.8 926.7,244.8 926.9,249.3 927.1,245.2 927.3,245.1 927.6,248.5 927.8,248.3 928,247.3 928.2,248.5 928.4,246.6 928.7,248.8 928.9,248.7 929.1,250.9 929.3,248.7 929.5,247.2 929.8,247.6 930,250.5 930.2,255 930.4,253.7 930.6,250.4 930.9,254 931.1,249.1 931.3,254.1 931.5,251.6 931.7,255.4 932,256.2 932.2,255.3 932.4,255.9 932.6,251.8 932.8,253.1 933.1,254.9 933.3,263 933.5,256.3 933.7,256 933.9,254.4 934.2,259.1 934.4,252.7 934.6,254.6 934.8,256.7 935,252.7 935.3,258.6 935.5,257.1 935.7,252.4 935.9,250.9 936.1,247.7 936.3,244.4 936.4,246.9 936.5,281.7 936.7,281 936.8,247.8 936.9,246.8 937,248.6 937.1,247.1 937.2,247.3 937.4,283.2 937.5,280.7 937.6,246.6 937.7,250.2 937.8,248 937.9,244.6 938.1,248.5 938.2,282.6 938.3,282 938.4,249.7 938.5,247.2 938.6,247.6 938.8,245.3 938.9,246.2 939,283.4 939.1,282.1 939.2,245 939.3,242.1 939.5,243.6 939.6,242.3 939.7,244.4 939.8,280.7 939.9,282 940,241.9 940.2,245.3 940.3,241.7 940.4,243.3 940.5,246.4 940.6,281.8 940.8,280.5 940.9,244.8 941,245.6 941.1,245.8 941.2,242.9 941.3,245.9 941.5,279 941.6,283.8 941.7,247 941.8,246.8 941.9,248.5 942,248.6 942.2,246.9 942.3,283.5 942.4,281.3 942.5,246.9 942.6,250.7 942.7,250.9 942.9,250.5 943,249.6 943.1,280.5 943.2,282.7 943.3,250.5 943.4,249 943.6,249.6 943.7,246.4 943.8,248.1 943.9,282.7 944,279.8 944.1,243.7 944.3,244.3 944.4,244.9 944.5,245 944.6,243.8 944.7,281.5 944.9,281.4 944.9,389.7 944.7,394.2 944.6,359.8 944.5,358.3 944.4,359.3 944.3,359.6 944.1,360.6 944,394.2 943.9,393.8 943.8,361.3 943.7,359.9 943.6,361.1 943.4,360.4 943.3,363 943.2,393.2 943.1,393 943,362.2 942.9,359.7 942.7,359.9 942.6,358 942.5,357.5 942.4,393.3 942.3,392.1 942.2,355.6 942,357.1 941.9,354.1 941.8,357.9 941.7,358.4 941.6,393 941.5,393.1 941.3,355.5 941.2,354.5 941.1,354.8 941,356.1 940.9,353.9 940.8,393.8 940.6,391.8 940.5,356.3 940.4,354 940.3,357.6 940.2,355.2 940,356.4 939.9,390.5 939.8,392.5 939.7,355.9 939.6,356.2 939.5,358 939.3,359 939.2,356.6 939.1,390.4 939,392.4 938.9,356.8 938.8,359.2 938.6,361.3 938.5,360.8 938.4,360.6 938.3,392.6 938.2,391.2 938.1,360.2 937.9,361 937.8,361.3 937.7,360.6 937.6,360.1 937.5,392.9 937.4,392.5 937.2,362.5 937.1,359.8 937,361.1 936.9,359.3 936.8,359.8 936.7,392.5 936.5,393.2 936.4,359.1 936.3,358.2 936.1,365.7 935.9,364.2 935.7,365 935.5,370 935.3,370.4 935,373.8 934.8,370.1 934.6,372.4 934.4,371.3 934.2,368.4 933.9,370.8 933.7,372.5 933.5,369.7 933.3,370.3 933.1,368.6 932.8,370.5 932.6,368.7 932.4,369.5 932.2,369.4 932,366.5 931.7,371.1 931.5,367.7 931.3,370.2 931.1,365.1 930.9,371.1 930.6,364.6 930.4,364.3 930.2,366 930,364.8 929.8,362.8 929.5,364.5 929.3,363.2 929.1,361.5 928.9,357.2 928.7,361.4 928.4,361.3 928.2,364.7 928,361.8 927.8,359.7 927.6,367 927.3,357.5 927.1,363.1 926.9,362.6 926.7,364.6 926.5,359.4 926.2,365 926,361.4 925.8,361.9 925.6,362 925.4,361.6 925.1,360.4 924.9,362.4 924.7,363.7 924.5,362 924.3,366.6 924,371.4 923.8,367.6 923.6,367.4 923.4,368.3 923.2,371.5 922.9,364.8 922.7,366.1 922.5,366.8 922.3,364.5 922.1,367.2 921.8,367.7 921.6,364.2 921.4,364.2 921.2,368.6 921,368.6 920.7,366.2 920.5,366.8 920.3,371.7 920.1,368.8 919.9,366.8 919.6,371.4 919.4,370 919.2,371.6 919,372.8 918.8,371 918.5,372.4 918.3,366.7 918.1,363.4 917.9,365.8 917.7,361.1 917.4,362.8 917.2,362.8 917,356.3 916.8,362.5 916.6,357.7 916.3,351.7 916.1,347.7 915.9,350.2 915.7,351.5 915.5,345.5 915.2,348.4 915,351 914.8,345.9 914.6,344.1 914.4,354.2 914.1,351 913.9,352.7 913.7,356.5 913.5,351.7 913.3,356 913,356.6 912.8,350.7 912.6,353.8 912.4,355.2 912.2,353.4 911.9,354.5 911.7,353.6 911.5,352.2 911.3,352.4 911.1,354.7 910.8,354.9 910.6,358.8 910.4,359 910.2,354.8 910,362.6 909.7,360.4 909.5,356.4 909.3,358.6 909.1,358.6 908.9,362 908.6,360.4 908.4,358 908.2,361.7 908,362.2 907.8,361.4 907.5,362.3 907.3,359.2 907.1,360.5 906.9,365.1 906.7,364.5 906.4,361.6 906.2,366.5 906,364.2 905.8,364.8 905.6,366.7 905.3,366 905.1,367.1 904.9,362.4 904.7,367.6 904.5,366.9 904.2,371.2 904,368.2 903.8,365.1 903.6,363 903.4,356.8 903.1,359.9 902.9,361.7 902.7,364 902.5,365.6 902.3,363.5 902,362.8 901.8,365.7 901.6,365.6 901.4,368.6 901.2,368.1 900.9,364.2 900.7,366 900.5,369.2 900.3,366.2 900.1,365.4 899.8,366.5 899.6,366.7 899.4,365.5 899.2,366.3 899,363.4 898.7,368.2 898.5,367 898.3,368 898.1,367.2 897.9,367.2 897.6,368.8 897.4,367.5 897.2,368.2 897,371.6 896.8,366.5 896.5,365.5 896.3,366.1 896.1,368.6 895.9,369.9 895.7,363.2 895.4,366.8 895.2,366.2 895,367.9 894.8,364 894.6,370.1 894.3,367.5 894.1,369.4 893.9,365.9 893.7,367 893.5,371.6 893.2,367.8 893,374.8 892.8,375 892.6,378.6 892.4,384.6 892.1,381.6 891.9,381 891.7,377.5 891.5,380.5 891.3,377.6 891,381.3 890.8,378.8 890.6,376.8 890.4,378.2 890.2,377.3 889.9,371.9 889.7,375.1 889.5,375.1 889.3,375 889.1,371 888.8,375.3 888.6,370 888.4,377.3 888.2,370.9 888,372.4 887.7,374.7 887.5,371.4 887.3,371.9 887.1,374.1 886.9,370.5 886.6,374.3 886.4,375.7 886.2,371.9 886,370.6 885.8,370.7 885.5,371.8 885.3,373.8 885.1,371.9 884.9,376.8 884.7,373.5 884.4,369.6 884.2,371.8 884,370.7 883.8,364.2 883.6,370.3 883.3,370.8 883.1,372.6 882.9,375.2 882.7,371.2 882.5,376.1 882.2,374.6 882,374.6 881.8,372 881.6,371 881.4,370.2 881.1,375.6 880.9,373 880.7,374.4 880.5,376.8 880.3,377.1 880,376.6 879.8,374.2 879.6,376.7 879.4,373.6 879.2,376.6 878.9,374 878.7,375.6 878.5,382.2 878.3,374.9 878.1,378 877.8,379.2 877.6,377.7 877.4,378.6 877.2,381.1 877,376.5 876.7,382.7 876.5,382.8 876.3,376.7 876.1,383.3 875.9,382.1 875.6,376.9 875.4,375.9 875.2,383.8 875,372.4 874.8,371.9 874.5,365.4 874.3,367.5 874.1,365 873.9,368.6 873.7,362.3 873.4,362.2 873.2,362 873,359.9 872.8,358.6 872.6,357.5 872.3,358.8 872.1,358.9 871.9,357.4 871.7,360.9 871.5,362.6 871.2,360.6 871,360.9 870.8,363 870.6,363.4 870.4,360.4 870.1,363.7 869.9,357.9 869.7,359.2 869.5,361.3 869.3,360.3 869,357.6 868.8,364.7 868.6,361.8 868.4,366 868.2,364.6 867.9,364.8 867.7,365.2 867.5,364.8 867.3,362 867.1,363.4 866.8,360.9 866.6,363.6 866.4,367 866.2,368.3 866,367.3 865.7,373 865.5,371.9 865.3,369.1 865.1,369.3 864.9,368.7 864.6,373.1 864.4,374.5 864.2,378.3 864,376.3 863.8,378.9 863.5,378.3 863.3,377.3 863.1,368.5 862.9,371.1 862.7,368.8 862.4,372.7 862.2,372.2 862,371.2 861.8,369.8 861.6,370.3 861.3,371.3 861.1,374.4 860.9,373.4 860.7,373 860.5,373.9 860.2,377.6 860,372.7 859.8,373 859.6,373.4 859.4,374.8 859.1,375.9 858.9,373.8 858.7,375 858.5,373.7 858.3,374.2 858,375.7 857.8,374.2 857.6,375 857.4,374.8 857.2,378.2 856.9,374.3 856.7,379.6 856.5,375.2 856.3,375.9 856.1,379.8 855.8,378.4 855.6,376.5 855.4,373.7 855.2,374 855,376.8 854.7,380.9 854.5,376.3 854.3,376.5 854.1,380.7 853.9,371.7 853.6,380.2 853.4,380.8 853.2,379 853,378 852.8,376.9 852.5,373.4 852.3,376.9 852.1,381.4 851.9,380.1 851.7,375.4 851.4,379.2 851.2,377.4 851,384.8 850.8,384.5 850.6,390 850.3,388.4 850.1,388.7 849.9,388.4 849.7,388.6 849.5,390.5 849.2,392.3 849,389.8 848.8,385.6 848.6,395.8 848.4,394.9 848.1,389 847.9,391.7 847.7,387.6 847.5,386.9 847.3,387.9 847,386.2 846.8,386.5 846.6,386.2 846.4,387.1 846.2,380.2 845.9,389.5 845.7,384.2 845.5,385.1 845.3,386 845.1,385.8 844.8,386 844.6,382.7 844.4,382.5 844.2,380.9 844,381.2 843.7,381.4 843.5,382.7 843.3,380 843.1,383.8 842.9,384.4 842.6,378.6 842.4,382.1 842.2,381.8 842,382.9 841.8,383.6 841.5,378.9 841.3,376.5 841.1,377.3 840.9,379.4 840.7,379.2 840.4,378.7 840.2,385.4 840,384 839.8,382.6 839.6,390 839.3,381.9 839.1,383.3 838.9,382.3 838.7,384.6 838.5,385.6 838.2,386.1 838,383.7 837.8,384.6 837.6,382.1 837.4,384.2 837.1,382.9 836.9,382.9 836.7,383.8 836.5,385.8 836.3,382.2 836,382.8 835.8,386.1 835.6,383.1 835.4,382.9 835.2,385.1 834.9,382.4 834.7,388.8 834.5,387.3 834.3,387.5 834.1,389.6 833.8,395.8 833.6,396.1 833.4,393.5 833.2,392.8 833,385.7 832.7,384.8 832.5,383 832.3,386 832.1,383.4 831.9,383.6 831.6,377.3 831.4,378.5 831.2,376.3 831,372.7 830.8,377 830.5,370.6 830.3,367 830.1,366.9 829.9,369.2 829.7,363.4 829.4,365 829.2,361.8 829,363.6 828.8,369.7 828.6,369.4 828.3,367.7 828.1,372 827.9,375.2 827.7,373.9 827.5,371.4 827.2,376.9 827,374.8 826.8,378.6 826.6,372 826.4,376.8 826.1,373.4 825.9,373 825.7,370.3 825.5,372.1 825.3,373.4 825,375 824.8,378 824.6,371.6 824.4,377.8 824.2,379.6 823.9,382.2 823.7,379.9 823.5,378.2 823.3,381.9 823.1,380.7 822.8,376.5 822.6,376.3 822.4,380.9 822.2,380.9 822,381.4 821.7,381.6 821.5,379.1 821.3,380.5 821.1,382.9 820.9,385 820.6,382.6 820.4,383.7 820.2,384.1 820,381.7 819.8,380.5 819.5,381.5 819.3,380.5 819.1,380.3 818.9,379.5 818.7,381.1 818.4,385.2 818.2,377.7 818,379.9 817.8,379.7 817.6,383.3 817.3,382.7 817.1,382.3 816.9,374.9 816.7,381.3 816.5,381.6 816.2,381 816,377.4 815.8,373.7 815.6,375.4 815.4,380.4 815.1,382.8 814.9,381.1 814.7,383 814.5,381.2 814.3,383.3 814,383.3 813.8,384.8 813.6,382.4 813.4,389.1 813.2,392.3 812.9,389.5 812.7,387.1 812.5,388.5 812.3,392.9 812.1,384.7 811.8,384 811.6,383.6 811.4,387.4 811.2,387.6 811,385.2 810.7,386.2 810.5,389.6 810.3,388.7 810.1,386.5 809.9,386.4 809.6,389.5 809.4,390.1 809.2,390.1 809,385 808.8,395.4 808.5,390 808.3,393.5 808.1,392.8 807.9,395.8 807.7,392.9 807.4,390.7 807.2,392.4 807,395.1 806.8,395.9 806.6,404.4 806.3,399.4 806.1,397.8 805.9,399.8 805.7,403.6 805.5,399 805.2,402.2 805,399.1 804.8,396.5 804.6,399.5 804.4,391.9 804.1,400.5 803.9,396.2 803.7,390.7 803.5,398.6 803.3,398.8 803,395.3 802.8,402.4 802.6,391.4 802.4,395.5 802.2,392.5 801.9,391.6 801.7,389 801.5,390.6 801.3,389.6 801.1,393.1 800.8,392.9 800.6,394.7 800.4,392.9 800.2,393.9 800,389.8 799.7,391.3 799.5,390.2 799.3,390.7 799.1,390.9 798.9,394.8 798.6,394.1 798.4,392.8 798.2,388.5 798,384.8 797.8,388.6 797.5,385.8 797.3,392.9 797.1,387.7 796.9,392.8 796.7,388 796.4,388.9 796.2,387.3 796,389 795.8,391.4 795.6,388.1 795.3,387 795.1,392.9 794.9,391.7 794.7,389.1 794.5,397.5 794.2,396.9 794,392.6 793.8,393.7 793.6,395.3 793.4,388.3 793.1,391 792.9,397.6 792.7,396.3 792.5,395.1 792.3,397 792,396 791.8,402.2 791.6,397.9 791.4,397.3 791.2,396.6 790.9,400.8 790.7,399.8 790.5,398.2 790.3,393.3 790.1,395.5 789.8,395 789.6,388.4 789.4,390.1 789.2,389.2 789,388 788.7,385.4 788.5,383.8 788.3,382.7 788.1,380.8 787.9,379.6 787.6,382.5 787.4,381.5 787.2,381.4 787,381.7 786.8,380.3 786.5,380.6 786.3,380.3 786.1,384.2 785.9,377.4 785.7,378 785.4,380.6 785.2,378 785,376.2 784.8,377.7 784.6,376.4 784.3,380.2 784.1,378.2 783.9,381.7 783.7,378.3 783.5,380.7 783.2,376.7 783,378.5 782.8,382.6 782.6,386.2 782.4,384.2 782.1,384.3 781.9,386.8 781.7,380.8 781.5,384.7 781.3,392.8 781,390 780.8,387 780.6,388 780.4,390.9 780.2,394.4 779.9,393.1 779.7,392.2 779.5,391.8 779.3,395.6 779.1,395.7 778.8,390.5 778.6,387.3 778.4,388.1 778.2,389.9 778,388.7 777.7,391.6 777.5,393.3 777.3,392.2 777.1,395 776.9,389.7 776.6,389.7 776.4,394.1 776.2,395.2 776,389.7 775.8,395.2 775.5,390.1 775.3,391.2 775.1,388.1 774.9,390.3 774.7,391.5 774.4,383.9 774.2,391.2 774,386.1 773.8,392 773.6,395.8 773.3,393.8 773.1,393.7 772.9,395.7 772.7,390.6 772.5,394.4 772.2,390.3 772,393.4 771.8,392.5 771.6,395.9 771.4,394.9 771.1,397.5 770.9,396.8 770.7,397.9 770.5,396.9 770.3,394.7 770,399.7 769.8,394.3 769.6,403.1 769.4,397.3 769.2,395.9 768.9,400.7 768.7,395.8 768.5,399.3 768.3,399.1 768.1,400 767.8,404.7 767.6,408.1 767.4,402 767.2,400.3 767,403.4 766.7,402.9 766.5,403.5 766.3,402.7 766.1,404.1 765.9,405.1 765.6,405.1 765.4,402.4 765.2,400.1 765,404.8 764.8,401.6 764.5,406.1 764.3,404.8 764.1,413.8 763.9,411.6 763.7,408.6 763.4,417.6 763.2,416.7 763,415.3 762.8,419.3 762.6,421.1 762.3,416.4 762.1,419.2 761.9,416.8 761.7,419.5 761.5,421.2 761.2,418.4 761,418.2 760.8,418.2 760.6,416.1 760.4,411.5 760.1,414.1 759.9,416 759.7,415 759.5,413 759.3,411.3 759,412.2 758.8,418.8 758.6,420.1 758.4,412.9 758.2,412.8 757.9,415 757.7,415.1 757.5,414.2 757.3,414.7 757.1,420.4 756.8,420.9 756.6,414.7 756.4,414.4 756.2,412.8 756,414.4 755.7,416.4 755.5,416.3 755.3,416.1 755.1,418.2 754.9,411.8 754.6,417.6 754.4,418.8 754.2,413.4 754,418.8 753.8,418.9 753.5,418.1 753.3,421.1 753.1,420.1 752.9,422.7 752.7,420.3 752.4,425.7 752.2,424.3 752,419.2 751.8,420.4 751.6,420.8 751.3,420.5 751.1,419.9 750.9,420.3 750.7,422.8 750.5,421.5 750.2,426.2 750,427.2 749.8,424.6 749.6,424.8 749.4,425.7 749.1,428 748.9,429.8 748.7,429.8 748.5,431.1 748.3,430.3 748,431.1 747.8,432.8 747.6,434.4 747.4,431.6 747.2,428 746.9,426.6 746.7,427.6 746.5,425 746.3,425.8 746.1,422.7 745.8,423.5 745.6,421 745.4,416.3 745.2,419.8 745,418.7 744.7,411.8 744.5,414.7 744.3,414.8 744.1,411.1 743.9,412.8 743.6,409.3 743.4,411.6 743.2,410.4 743,414.6 742.8,416.6 742.5,417.1 742.3,418.5 742.1,418.5 741.9,415.4 741.7,415.5 741.4,419.6 741.2,424.4 741,421.5 740.8,421.4 740.6,420.5 740.3,421.1 740.1,419.8 739.9,415.9 739.7,420.7 739.5,421.3 739.2,425.1 739,424.4 738.8,425 738.6,427.4 738.4,429.4 738.1,425.3 737.9,425.2 737.7,424.3 737.5,427.4 737.3,428.1 737,428 736.8,427 736.6,433.6 736.4,434.3 736.2,438 735.9,439.5 735.7,435 735.5,435.3 735.3,430.6 735.1,428.6 734.8,435.5 734.6,430.1 734.4,431.9 734.2,430.8 734,436.8 733.7,433 733.5,437.4 733.3,434 733.1,436.3 732.9,439.3 732.6,439.7 732.4,442.6 732.2,436.3 732,437.9 731.8,440.5 731.5,442.9 731.3,434.8 731.1,442.8 730.9,440.6 730.7,434.4 730.4,439.9 730.2,437.7 730,440.6 729.8,435.1 729.6,439.3 729.3,439.5 729.1,440.1 728.9,440.7 728.7,444.2 728.5,445.5 728.2,441.3 728,440 727.8,443.5 727.6,445.1 727.4,443.7 727.1,444.7 726.9,443.4 726.7,445.6 726.5,445.9 726.3,451.6 726,454.6 725.8,449.9 725.6,452.6 725.4,447.7 725.2,451.3 724.9,451.8 724.7,446.7 724.5,449.3 724.3,453.3 724.1,450.1 723.8,452.5 723.6,450.7 723.4,455.9 723.2,453.8 723,451.2 722.7,457.5 722.5,452.5 722.3,455.8 722.1,457.5 721.9,457.3 721.6,458.5 721.4,461.3 721.2,455.5 721,459.9 720.8,459.6 720.5,462.1 720.3,461.4 720.1,463.5 719.9,467.6 719.7,464.8 719.4,466 719.2,465.6 719,465 718.8,465.1 718.6,468.1 718.3,470.1 718.1,468.7 717.9,468 717.7,465.4 717.5,466.8 717.2,466 717,463.9 716.8,459.1 716.6,461.1 716.4,460.5 716.1,461 715.9,454.4 715.7,461.8 715.5,460.1 715.3,459.6 715,460 714.8,457.5 714.6,456.1 714.4,456.1 714.2,452.3 713.9,454.6 713.7,453 713.5,454.8 713.3,454.7 713.1,454.4 712.8,455.8 712.6,456.2 712.4,455.2 712.2,458.5 712,454.9 711.7,461.9 711.5,456 711.3,454.2 711.1,453.1 710.9,457.8 710.6,455.7 710.4,456.6 710.2,453 710,456.7 709.8,453 709.5,454.8 709.3,453.2 709.1,459.4 708.9,450.2 708.7,454.7 708.4,456.1 708.2,458.1 708,455.7 707.8,457.1 707.6,458.7 707.3,460.3 707.1,459.3 706.9,463.8 706.7,462.1 706.5,457.9 706.2,458.5 706,463.3 705.8,463.3 705.6,458.1 705.4,462.3 705.1,467.7 704.9,464.4 704.7,463.3 704.5,458.4 704.3,454.3 704,455.1 703.8,454.6 703.6,454.2 703.4,453.4 703.2,449.9 702.9,446.2 702.7,443.6 702.5,438.4 702.3,441.4 702.1,443.8 701.8,440.6 701.6,440.6 701.4,442.3 701.2,438.2 701,438.4 700.7,447 700.5,445.7 700.3,443.9 700.1,441.2 699.9,446.1 699.6,445.7 699.4,444.1 699.2,445.1 699,442 698.8,441.3 698.5,442.9 698.3,443 698.1,444.5 697.9,449 697.7,444.7 697.4,447.8 697.2,447.6 697,450.7 696.8,449 696.6,447.6 696.3,450.7 696.1,452.7 695.9,452.5 695.7,452.4 695.5,453.1 695.2,447.6 695,452.6 694.8,447.3 694.6,455.3 694.4,453.6 694.1,453 693.9,450.7 693.7,453.1 693.5,455 693.3,453.8 693,453.2 692.8,451.2 692.6,452.9 692.4,451.2 692.2,454.1 691.9,451.8 691.7,448.8 691.5,454.7 691.3,452.4 691.1,452.8 690.8,452.7 690.6,453.4 690.4,454.7 690.2,454.6 690,458.1 689.7,456.1 689.5,454.6 689.3,457.8 689.1,455.5 688.9,456.4 688.6,458.5 688.4,457.5 688.2,450.7 688,455.8 687.8,452.7 687.5,452.5 687.3,454.9 687.1,454.6 686.9,457.5 686.7,456 686.4,457.5 686.2,455.2 686,455.5 685.8,459.5 685.6,456.4 685.3,454.8 685.1,455.6 684.9,455.2 684.7,450.8 684.5,451.3 684.2,450 684,446.6 683.8,453.2 683.6,452.7 683.4,451.9 683.1,451.8 682.9,452.7 682.7,452.5 682.5,453.6 682.3,455.9 682,455.6 681.8,456.3 681.6,455.3 681.4,454 681.2,451.4 680.9,456.8 680.7,454.1 680.5,460.2 680.3,456.9 680.1,456.7 679.8,452.9 679.6,457.9 679.4,457.8 679.2,457.3 679,461.5 678.7,465.8 678.5,462 678.3,463.6 678.1,465.4 677.9,464.3 677.6,467.1 677.4,464.5 677.2,468.6 677,464.9 676.8,463.4 676.5,469.7 676.3,462.8 676.1,466 675.9,466.5 675.7,467.7 675.4,468.2 675.2,465.1 675,464.3 674.8,459.5 674.6,463.2 674.3,460.8 674.1,459.2 673.9,459.3 673.7,466.8 673.5,457.3 673.2,457.4 673,462.9 672.8,461.1 672.6,461.4 672.4,458 672.1,457 671.9,461.4 671.7,454.4 671.5,453.2 671.3,452.9 671,454.6 670.8,455.6 670.6,453.2 670.4,458 670.2,454.6 669.9,457.9 669.7,459.5 669.5,460.2 669.3,456.7 669.1,457.3 668.8,456.6 668.6,455.8 668.4,457 668.2,458.7 668,456.8 667.7,457.9 667.5,456.5 667.3,458.6 667.1,457.9 666.9,462.2 666.6,459.3 666.4,459.6 666.2,464.8 666,457.2 665.8,459.3 665.5,458.3 665.3,460.9 665.1,459.9 664.9,462.6 664.7,463.8 664.4,463.9 664.2,468.4 664,465 663.8,463.2 663.6,466.6 663.3,466.3 663.1,469.8 662.9,463.8 662.7,463.2 662.5,465.3 662.2,467.6 662,466.5 661.8,466.5 661.6,465.2 661.4,457.6 661.1,456.6 660.9,455.3 660.7,453.1 660.5,450.8 660.3,449.1 660,447.1 659.8,447.4 659.6,447.3 659.4,442.7 659.2,443.8 658.9,441.3 658.7,441.9 658.5,444 658.3,442.6 658.1,443.2 657.8,442.3 657.6,440.7 657.4,445.3 657.2,447.2 657,446.6 656.7,446.9 656.5,447.1 656.3,445.1 656.1,450.1 655.9,445 655.6,446.7 655.4,450.9 655.2,445.5 655,444.2 654.8,447.7 654.5,449.9 654.3,444.7 654.1,449 653.9,448.1 653.7,447.5 653.4,447.3 653.2,448.6 653,453.4 652.8,448.3 652.6,456.4 652.3,455.4 652.1,455.7 651.9,453.7 651.7,459.3 651.5,454.8 651.2,456.8 651,452.5 650.8,455.4 650.6,455.7 650.4,460.6 650.1,456.2 649.9,455.8 649.7,456.8 649.5,455.8 649.3,453 649,452 648.8,456.3 648.6,454.3 648.4,452.8 648.2,450 647.9,450.4 647.7,452.6 647.5,452.9 647.3,452.4 647.1,452.7 646.8,454.7 646.6,452.8 646.4,458.7 646.2,457 646,454.7 645.7,453.8 645.5,458.1 645.3,455.1 645.1,452.6 644.9,454.9 644.6,454.7 644.4,457.2 644.2,460.6 644,455.2 643.8,453.4 643.5,463.4 643.3,458.4 643.1,455 642.9,461.3 642.7,452.9 642.4,461.1 642.2,454.2 642,455.9 641.8,457.4 641.6,455.1 641.3,460.5 641.1,455.4 640.9,456.8 640.7,454.6 640.5,455.6 640.2,457.7 640,455.9 639.8,457.9 639.6,457.9 639.4,462.3 639.1,456.5 638.9,458.4 638.7,453.6 638.5,456.2 638.3,460 638,458.1 637.8,456.6 637.6,461.9 637.4,464.6 637.2,463.4 636.9,465.9 636.7,465.1 636.5,462.2 636.3,465.2 636.1,465.5 635.8,468.1 635.6,467.2 635.4,471.4 635.2,471.5 635,472 634.7,473.9 634.5,471 634.3,472.1 634.1,470.1 633.9,470.7 633.6,465.5 633.4,469.3 633.2,468.2 633,468.5 632.8,464.3 632.5,468.3 632.3,465.5 632.1,459.6 631.9,464.2 631.7,460.1 631.4,462.9 631.2,464.6 631,459.3 630.8,464.3 630.6,464.4 630.3,464.2 630.1,461.5 629.9,462.2 629.7,460 629.5,461.6 629.2,457.6 629,463.5 628.8,463.6 628.6,459.7 628.4,460.8 628.1,462.1 627.9,462 627.7,462.5 627.5,462.4 627.3,456.4 627,460.3 626.8,462.9 626.6,465.3 626.4,465.5 626.2,464.9 625.9,461 625.7,464.8 625.5,459.9 625.3,460.8 625.1,460 624.8,463.9 624.6,456.5 624.4,460.7 624.2,460.6 624,461.2 623.7,460.5 623.5,460 623.3,461 623.1,459.1 622.9,462.9 622.6,460.7 622.4,464.1 622.2,461.3 622,462.6 621.8,461.5 621.5,465.1 621.3,463.9 621.1,464.6 620.9,465.2 620.7,461.2 620.4,466.2 620.2,466.8 620,465.7 619.8,464.5 619.6,469.4 619.3,463.3 619.1,464.5 618.9,465.6 618.7,468.5 618.5,463.2 618.2,458.2 618,457.9 617.8,458.1 617.6,453.9 617.4,444.9 617.1,446.2 616.9,449.7 616.7,445.9 616.5,447.6 616.3,444.6 616,442.3 615.8,441.1 615.6,440.4 615.4,445.3 615.2,447.2 614.9,443.2 614.7,448.3 614.5,444.7 614.3,445.9 614.1,444.8 613.8,441.2 613.6,449.6 613.4,449.1 613.2,448.4 613,440.9 612.7,448.7 612.5,448.5 612.3,447.9 612.1,445.1 611.9,452.7 611.6,448 611.4,453.3 611.2,455.6 611,454.3 610.8,455.7 610.5,451.7 610.3,451.6 610.1,449.6 609.9,451.8 609.7,450.8 609.4,452.9 609.2,454 609,455 608.8,449.9 608.6,449.9 608.3,455.6 608.1,457.1 607.9,458 607.7,450.6 607.5,455.5 607.2,457.4 607,457 606.8,451 606.6,455.3 606.4,457.2 606.1,456 605.9,452.3 605.7,454.5 605.5,458.1 605.3,455.1 605,458.5 604.8,459.2 604.6,455.9 604.4,452.5 604.2,456.4 603.9,454.3 603.7,458.7 603.5,457 603.3,461.9 603.1,453.1 602.8,453.6 602.6,458.9 602.4,456.7 602.2,455.2 602,455.9 601.7,459.1 601.5,460.9 601.3,456.6 601.1,453 600.9,454.8 600.6,457.6 600.4,454.2 600.2,459.3 600,461.7 599.8,455 599.5,454.7 599.3,457.6 599.1,460.7 598.9,453.1 598.7,453.8 598.4,449.3 598.2,451.5 598,454.2 597.8,457.5 597.6,454.4 597.3,457.2 597.1,458.9 596.9,460.2 596.7,460.4 596.5,458.2 596.2,456.2 596,459.3 595.8,458.7 595.6,459 595.4,461.6 595.1,454.3 594.9,460.2 594.7,460.5 594.5,458.3 594.3,457.8 594,460.5 593.8,461.1 593.6,459.8 593.4,462.4 593.2,459 592.9,466.1 592.7,472.6 592.5,470.3 592.3,468.8 592.1,472 591.8,469.1 591.6,470.5 591.4,470.7 591.2,468.3 591,467 590.7,466.5 590.5,473.4 590.3,465.4 590.1,469.5 589.9,469 589.6,463.7 589.4,467 589.2,468 589,464.3 588.8,468.9 588.5,466.4 588.3,466.9 588.1,464.6 587.9,466.9 587.7,466.5 587.4,462.6 587.2,461.3 587,463.9 586.8,464.7 586.6,462 586.3,463.3 586.1,465.6 585.9,461.1 585.7,459.4 585.5,458 585.2,459.3 585,459.8 584.8,460.5 584.6,460.5 584.4,458.4 584.1,460.8 583.9,460.3 583.7,465.8 583.5,463.5 583.3,461.8 583,467.2 582.8,465.8 582.6,460.9 582.4,461.2 582.2,462.3 581.9,463 581.7,458.2 581.5,463.9 581.3,460.8 581.1,461.7 580.8,462.5 580.6,467.9 580.4,463.5 580.2,464.9 580,460.1 579.7,463.1 579.5,462.1 579.3,467.8 579.1,465.1 578.9,461.5 578.6,461.6 578.4,463.4 578.2,466.5 578,459.7 577.8,462.9 577.5,462 577.3,464.1 577.1,467.2 576.9,467.7 576.7,463.1 576.4,468.8 576.2,467.1 576,467 575.8,471.1 575.6,462.6 575.3,463.9 575.1,461.2 574.9,459.5 574.7,457.8 574.5,452.4 574.2,452.1 574,453.3 573.8,453.1 573.6,452.1 573.4,447.7 573.1,446.9 572.9,447.5 572.7,443.4 572.5,444.9 572.3,442.3 572,445.9 571.8,444.1 571.6,449.4 571.4,447.3 571.2,449.9 570.9,448.8 570.7,448.5 570.5,450.4 570.3,450.1 570.1,449.4 569.8,453.7 569.6,450.9 569.4,450.9 569.2,452.8 569,447.9 568.7,450.5 568.5,451.2 568.3,451.3 568.1,449.7 567.9,455 567.6,456 567.4,452.9 567.2,454.6 567,457.8 566.8,457.7 566.5,454.4 566.3,456.4 566.1,457.8 565.9,452.1 565.7,456.5 565.4,453 565.2,451.2 565,452.8 564.8,456.9 564.6,453.8 564.3,457 564.1,459.8 563.9,455.9 563.7,461.8 563.5,456 563.2,457.6 563,454.4 562.8,455.1 562.6,457.1 562.4,457.8 562.1,457.6 561.9,456.1 561.7,457.9 561.5,456.3 561.3,460 561,462.1 560.8,453.1 560.6,457.1 560.4,459.6 560.2,455.7 559.9,455.9 559.7,455.9 559.5,457 559.3,460.4 559.1,454.4 558.8,461.2 558.6,462.6 558.4,456.3 558.2,459 558,461.6 557.7,464.7 557.5,459.3 557.3,463.6 557.1,458.5 556.9,459.7 556.6,459.4 556.4,455.9 556.2,460.2 556,456.8 555.8,460.7 555.5,464.8 555.3,456.2 555.1,459.7 554.9,454.5 554.7,459.1 554.4,460 554.2,455.8 554,450.6 553.8,454.6 553.6,456.6 553.3,457.3 553.1,457.6 552.9,456.4 552.7,458.9 552.5,462.2 552.2,460.8 552,459 551.8,459.8 551.6,461.9 551.4,465.8 551.1,463.3 550.9,463.5 550.7,462 550.5,462.7 550.3,463.5 550,468 549.8,465.5 549.6,471.3 549.4,471.8 549.2,471.8 548.9,474.7 548.7,471.3 548.5,472.1 548.3,469.7 548.1,473.8 547.8,470.7 547.6,470.9 547.4,470.6 547.2,467.6 547,470.4 546.7,468.3 546.5,467.3 546.3,467.1 546.1,467.9 545.9,467.4 545.6,466.8 545.4,467.5 545.2,469.6 545,465.8 544.8,467.7 544.5,462.9 544.3,468.7 544.1,471.1 543.9,464.9 543.7,464.7 543.4,463.5 543.2,459.7 543,462 542.8,460.4 542.6,460.2 542.3,462.3 542.1,459.6 541.9,462.2 541.7,463.1 541.5,461.5 541.2,458.8 541,459.7 540.8,461.7 540.6,463 540.4,461.2 540.1,463.7 539.9,462.6 539.7,461.7 539.5,464.3 539.3,463.9 539,462.3 538.8,463.9 538.6,465.3 538.4,460.7 538.2,465.9 537.9,467.3 537.7,461.9 537.5,461.5 537.3,458.7 537.1,460.6 536.8,461.3 536.6,464.1 536.4,466.2 536.2,465.2 536,468.9 535.7,463.9 535.5,467.9 535.3,466.6 535.1,463.8 534.9,467.3 534.6,465.7 534.4,465.7 534.2,471.1 534,468.9 533.8,471.4 533.5,468.3 533.3,467.5 533.1,468.8 532.9,467.3 532.7,459.1 532.4,461.2 532.2,460.5 532,459.2 531.8,455 531.6,451.5 531.3,452.2 531.1,451.1 530.9,449.4 530.7,450.2 530.5,446.2 530.2,448.7 530,448.5 529.8,451.1 529.6,446.4 529.4,447.4 529.1,446.8 528.9,441.2 528.7,449.4 528.5,443.9 528.3,444.2 528,444.8 527.8,448.9 527.6,447 527.4,447.9 527.2,448.4 526.9,446 526.7,445.8 526.5,446.4 526.3,448.2 526.1,450.2 525.8,450.5 525.6,448.5 525.4,447.8 525.2,450.6 525,450.4 524.7,449.1 524.5,451.6 524.3,455.4 524.1,450.4 523.9,456.5 523.6,453 523.4,452.7 523.2,456.3 523,453.2 522.8,453.5 522.5,455.3 522.3,452.2 522.1,453.7 521.9,450.9 521.7,455.2 521.4,451.8 521.2,455.9 521,450.9 520.8,452.7 520.6,451.3 520.3,457.9 520.1,449.5 519.9,452 519.7,451.8 519.5,452.5 519.2,448.8 519,453 518.8,449.8 518.6,453.1 518.4,452.1 518.1,453.4 517.9,453.3 517.7,451.4 517.5,454.1 517.3,453.3 517,455.7 516.8,458.8 516.6,456.1 516.4,459.8 516.2,454.8 515.9,460.3 515.7,460.6 515.5,455.9 515.3,457.5 515.1,453.5 514.8,454.1 514.6,453 514.4,454.1 514.2,455.6 514,457.9 513.7,455.7 513.5,454.3 513.3,456.9 513.1,455.4 512.9,454.7 512.6,458.9 512.4,460 512.2,457.6 512,454.4 511.8,455.4 511.5,450.1 511.3,452.9 511.1,457.4 510.9,458.4 510.7,458.1 510.4,455.4 510.2,455.9 510,454.1 509.8,450.8 509.6,452.3 509.3,455.9 509.1,456.7 508.9,460.3 508.7,451.2 508.5,456.7 508.2,451.3 508,456.3 507.8,459.6 507.6,458.3 507.4,459 507.1,462.8 506.9,462.3 506.7,463 506.5,462.4 506.3,463.7 506,464.4 505.8,464.4 505.6,465 505.4,463.7 505.2,457.9 504.9,458.9 504.7,460 504.5,460 504.3,459.3 504.1,461.8 503.8,458.6 503.6,454.2 503.4,459.3 503.2,460.8 503,459.8 502.7,459.1 502.5,455.5 502.3,454.2 502.1,453.5 501.9,453.7 501.6,454.8 501.4,453.4 501.2,457.3 501,454 500.8,455.9 500.5,452.5 500.3,454.2 500.1,458.2 499.9,455.2 499.7,456.5 499.4,451.8 499.2,455 499,454.7 498.8,457.1 498.6,450.5 498.3,453.8 498.1,452.9 497.9,452.7 497.7,448.5 497.5,452.5 497.2,458.3 497,454.4 496.8,455.2 496.6,454 496.4,455.2 496.1,452.3 495.9,453.5 495.7,454.8 495.5,458.3 495.3,455.3 495,452.5 494.8,455.7 494.6,451.8 494.4,451.5 494.2,455.3 493.9,455.5 493.7,458 493.5,456.6 493.3,461.4 493.1,458.1 492.8,463.9 492.6,458.6 492.4,455.6 492.2,460.3 492,454.6 491.7,459.6 491.5,460.7 491.3,460.7 491.1,461.8 490.9,463.4 490.6,459.1 490.4,460.8 490.2,451.4 490,450.6 489.8,451.4 489.5,447.9 489.3,446 489.1,446.4 488.9,443.8 488.7,447.5 488.4,442.2 488.2,438.7 488,438.4 487.8,434.5 487.6,432.8 487.3,437.8 487.1,436.8 486.9,438 486.7,436 486.5,438.5 486.2,440.5 486,437.4 485.8,434.4 485.6,437.6 485.4,439.8 485.1,436.8 484.9,437.5 484.7,437.2 484.5,439.4 484.3,442.3 484,434.9 483.8,439 483.6,437.7 483.4,440.6 483.2,438.2 482.9,436.1 482.7,444.3 482.5,442.3 482.3,447.3 482.1,444.4 481.8,447.8 481.6,447.1 481.4,448.1 481.2,444.1 481,445.6 480.7,445.4 480.5,445.1 480.3,448.8 480.1,448.1 479.9,448.6 479.6,446.5 479.4,443.6 479.2,441.2 479,446.8 478.8,444.1 478.5,435.6 478.3,437.9 478.1,442.4 477.9,443.7 477.7,445.9 477.4,447.5 477.2,445.3 477,443.2 476.8,442.7 476.6,444.6 476.3,444.3 476.1,441.4 475.9,444.4 475.7,443.8 475.5,446.4 475.2,446.8 475,447 474.8,442 474.6,450.3 474.4,448.2 474.1,444 473.9,449.5 473.7,445.3 473.5,448.3 473.3,449.7 473,448 472.8,443.5 472.6,448.1 472.4,446.3 472.2,443.3 471.9,442.7 471.7,444.2 471.5,444.6 471.3,443.2 471.1,445.8 470.8,447.6 470.6,445.4 470.4,442.8 470.2,446.6 470,442.1 469.7,447.6 469.5,443.9 469.3,445.9 469.1,447.3 468.9,444.3 468.6,448.2 468.4,445.8 468.2,446.5 468,449.3 467.8,445.6 467.5,447.4 467.3,449.2 467.1,449.8 466.9,449.8 466.7,453 466.4,447.5 466.2,450.3 466,448.1 465.8,447.5 465.6,445.9 465.3,452.1 465.1,450.8 464.9,452.2 464.7,455.5 464.5,455 464.2,451.6 464,457.1 463.8,453.9 463.6,455 463.4,459.3 463.1,460.7 462.9,458.8 462.7,457.5 462.5,457.1 462.3,457.9 462,458.4 461.8,459.2 461.6,461.4 461.4,457.6 461.2,453.9 460.9,457.6 460.7,452.2 460.5,451 460.3,456.2 460.1,451.7 459.8,450.5 459.6,449.8 459.4,449.5 459.2,453.3 459,448 458.7,447 458.5,449.5 458.3,445.8 458.1,450.6 457.9,445 457.6,449.2 457.4,451.8 457.2,447.5 457,447.8 456.8,446.2 456.5,445.2 456.3,447.1 456.1,442.9 455.9,447.9 455.7,445.2 455.4,446.4 455.2,452.8 455,449.3 454.8,451.4 454.6,444.7 454.3,447.9 454.1,446.8 453.9,448.3 453.7,448.7 453.5,444.5 453.2,447.6 453,445.6 452.8,445.1 452.6,444.7 452.4,450.3 452.1,449.9 451.9,448.9 451.7,451.2 451.5,448.1 451.3,451.1 451,444.4 450.8,450.7 450.6,448.1 450.4,450.4 450.2,448.9 449.9,450.3 449.7,450.3 449.5,453 449.3,453.4 449.1,454.6 448.8,452.1 448.6,451.6 448.4,448.8 448.2,453.8 448,450.2 447.7,444.8 447.5,449.8 447.3,449.9 447.1,449.6 446.9,443 446.6,446.5 446.4,441 446.2,441.2 446,438.6 445.8,442.3 445.5,439.3 445.3,437 445.1,434.1 444.9,428.9 444.7,435.4 444.4,433.3 444.2,431.5 444,429.4 443.8,427.1 443.6,432.6 443.3,432.8 443.1,430.7 442.9,432.5 442.7,431 442.5,428.6 442.2,433.8 442,435.9 441.8,432.3 441.6,435.7 441.4,436.9 441.1,438.6 440.9,438.1 440.7,435.7 440.5,438.1 440.3,440.6 440,440.4 439.8,442 439.6,442.9 439.4,439.3 439.2,443.2 438.9,441.1 438.7,440.8 438.5,437 438.3,440.2 438.1,444 437.8,438.9 437.6,442.7 437.4,442.4 437.2,439 437,443.2 436.7,440.1 436.5,441.7 436.3,441.4 436.1,439.8 435.9,440.7 435.6,443.7 435.4,446.6 435.2,442 435,448.4 434.8,442 434.5,444.9 434.3,444 434.1,439 433.9,441.4 433.7,439.2 433.4,444.2 433.2,443.6 433,444 432.8,445.4 432.6,442.8 432.3,442.9 432.1,444.9 431.9,442 431.7,439.6 431.5,439.8 431.2,444.2 431,441.3 430.8,442 430.6,444.1 430.4,442.9 430.1,450.3 429.9,450.6 429.7,446.3 429.5,447.9 429.3,446.3 429,445.5 428.8,446.5 428.6,444.2 428.4,442 428.2,440 427.9,442.4 427.7,446 427.5,446.8 427.3,447.1 427.1,446.3 426.8,440.1 426.6,444 426.4,447 426.2,437.6 426,446.4 425.7,443.4 425.5,448.4 425.3,445.9 425.1,443.5 424.9,450.6 424.6,448.2 424.4,446.2 424.2,444 424,446.1 423.8,446.8 423.5,442.3 423.3,442.9 423.1,446.1 422.9,446.8 422.7,446.2 422.4,450.3 422.2,449.9 422,452.6 421.8,448.9 421.6,449 421.3,451.8 421.1,453.7 420.9,455.8 420.7,451.7 420.5,456.3 420.2,457.1 420,453.7 419.8,459 419.6,454.7 419.4,453.2 419.1,453.7 418.9,450.4 418.7,448.1 418.5,445.5 418.3,448 418,451.6 417.8,452 417.6,450 417.4,444.6 417.2,446.7 416.9,445.7 416.7,446 416.5,447 416.3,447.9 416.1,450.5 415.8,447 415.6,446.7 415.4,448.3 415.2,444.8 415,444.8 414.7,443.1 414.5,441.8 414.3,443.1 414.1,443 413.9,443.6 413.6,442.4 413.4,448.8 413.2,444.8 413,451.4 412.8,447.5 412.5,447.5 412.3,443.3 412.1,444.7 411.9,446.7 411.7,447.4 411.4,445 411.2,443.3 411,441.8 410.8,447.8 410.6,446.3 410.3,446.4 410.1,444.7 409.9,441.5 409.7,442 409.5,448.3 409.2,446 409,447.5 408.8,444.6 408.6,447 408.4,453.7 408.1,447.6 407.9,445.5 407.7,446 407.5,450.5 407.3,445.5 407,449.4 406.8,447.7 406.6,452.7 406.4,450.6 406.2,446.3 405.9,452.2 405.7,453 405.5,450.4 405.3,450.6 405.1,452.9 404.8,451.3 404.6,448 404.4,444.2 404.2,444.9 404,442 403.7,442 403.5,441.6 403.3,433.1 403.1,432.6 402.9,431.6 402.6,434.4 402.4,430.3 402.2,427.9 402,427.8 401.8,428.3 401.5,428.7 401.3,427.6 401.1,431.7 400.9,430.8 400.7,435.7 400.4,431.3 400.2,432.9 400,433.3 399.8,432.8 399.6,436.1 399.3,432.5 399.1,433.5 398.9,433.7 398.7,429.9 398.5,433.5 398.2,431.4 398,436.9 397.8,434.7 397.6,435.5 397.4,438.1 397.1,438 396.9,438.2 396.7,438 396.5,435.1 396.3,433.5 396,435.7 395.8,436 395.6,435.7 395.4,438 395.2,438 394.9,443.8 394.7,441.5 394.5,440.3 394.3,443.1 394.1,447.6 393.8,444.3 393.6,444 393.4,442.1 393.2,441.6 393,442.3 392.7,439.3 392.5,438.5 392.3,438.4 392.1,442.2 391.9,442.2 391.6,446.1 391.4,439.9 391.2,442 391,439.6 390.8,437.9 390.5,441.1 390.3,442.7 390.1,445.5 389.9,437.1 389.7,439.1 389.4,442.4 389.2,442 389,438.6 388.8,439.1 388.6,442.4 388.3,442.3 388.1,442.9 387.9,444.5 387.7,440.5 387.5,446.8 387.2,445.3 387,441.6 386.8,445.4 386.6,439.7 386.4,446.1 386.1,444 385.9,444.8 385.7,444.7 385.5,446.6 385.3,440.7 385,440.4 384.8,444.4 384.6,444.7 384.4,443.6 384.2,444.1 383.9,442.6 383.7,445.7 383.5,446 383.3,440.8 383.1,445 382.8,443.4 382.6,441.3 382.4,443.1 382.2,445.6 382,443.8 381.7,443.6 381.5,446.1 381.3,445.6 381.1,447.4 380.9,442.8 380.6,442.8 380.4,448.5 380.2,449.7 380,448.5 379.8,450.9 379.5,453 379.3,451.8 379.1,459.7 378.9,457.5 378.7,454.6 378.4,453.4 378.2,453.3 378,454.8 377.8,457.3 377.6,454.7 377.3,453.9 377.1,455.6 376.9,455.5 376.7,456.8 376.5,449.6 376.2,454.9 376,456 375.8,453.3 375.6,448.7 375.4,450.7 375.1,451 374.9,447.3 374.7,450.6 374.5,446.9 374.3,448.1 374,446 373.8,445.4 373.6,445.8 373.4,448.2 373.2,448.7 372.9,447.5 372.7,449.7 372.5,448.8 372.3,442.4 372.1,446.8 371.8,447.5 371.6,443.1 371.4,443.2 371.2,447.6 371,444.4 370.7,450.8 370.5,445.9 370.3,446.5 370.1,442.5 369.9,447.6 369.6,442.3 369.4,440.2 369.2,445.3 369,450.5 368.8,446.8 368.5,444.8 368.3,448.3 368.1,454.5 367.9,445.9 367.7,453.5 367.4,450.4 367.2,451 367,447.4 366.8,452.8 366.6,447.7 366.3,450.5 366.1,451.5 365.9,449.8 365.7,447.7 365.5,449.6 365.2,447.5 365,447.7 364.8,447.3 364.6,450.1 364.4,448.4 364.1,452.4 363.9,453.2 363.7,450.8 363.5,450.2 363.3,450.5 363,454.4 362.8,451.5 362.6,456.3 362.4,447.3 362.2,451.7 361.9,454.3 361.7,449.8 361.5,447.5 361.3,439.9 361.1,448.2 360.8,439.7 360.6,436 360.4,433.5 360.2,431.9 360,433.3 359.7,428.4 359.5,428.3 359.3,431.7 359.1,429.1 358.9,435.2 358.6,433.7 358.4,434.2 358.2,437.4 358,436.8 357.8,437.2 357.5,434.7 357.3,435.6 357.1,436 356.9,435.5 356.7,439.3 356.4,438.8 356.2,436.1 356,434.4 355.8,438.7 355.6,437.6 355.3,437.1 355.1,440 354.9,437.5 354.7,436.1 354.5,440.7 354.2,442.5 354,439.2 353.8,446.9 353.6,437.5 353.4,437.1 353.1,435.2 352.9,439.4 352.7,437.6 352.5,449 352.3,444 352,444.4 351.8,445.9 351.6,442.3 351.4,447.8 351.2,446.2 350.9,444.7 350.7,445.7 350.5,445.7 350.3,442.8 350.1,445.2 349.8,442.1 349.6,446 349.4,442.1 349.2,449.7 349,444 348.7,448.8 348.5,444.4 348.3,444.7 348.1,447 347.9,444.2 347.6,444.5 347.4,446 347.2,446.5 347,447 346.8,444.4 346.5,440.7 346.3,445.7 346.1,446.2 345.9,450.8 345.7,449.6 345.4,447.6 345.2,447 345,447.4 344.8,445.4 344.6,449.4 344.3,451.9 344.1,449.5 343.9,454.3 343.7,451.8 343.5,453.4 343.2,452 343,449.2 342.8,452.6 342.6,452.5 342.4,452.4 342.1,454.6 341.9,450.3 341.7,453.4 341.5,448.2 341.3,452.4 341,454.1 340.8,453.1 340.6,449.2 340.4,449.3 340.2,454.7 339.9,452.2 339.7,451.3 339.5,455.3 339.3,454.2 339.1,451.4 338.8,449.5 338.6,454.2 338.4,455.3 338.2,456.7 338,455.3 337.7,457.8 337.5,458 337.3,453.8 337.1,460.9 336.9,464.9 336.6,458.9 336.4,462.8 336.2,467.5 336,466.8 335.8,463.5 335.5,468.7 335.3,467.5 335.1,468.8 334.9,467.8 334.7,467.8 334.4,466.9 334.2,466.9 334,467.8 333.8,467.2 333.6,464.5 333.3,463.1 333.1,463.6 332.9,461.5 332.7,463.7 332.5,460.8 332.2,470.1 332,468.9 331.8,463.5 331.6,467.4 331.4,464.2 331.1,461.6 330.9,460.6 330.7,463.7 330.5,461.5 330.3,464 330,460.7 329.8,463.9 329.6,466.2 329.4,466.4 329.2,466.4 328.9,460.6 328.7,463.5 328.5,459.1 328.3,463.5 328.1,462.7 327.8,462.4 327.6,461.7 327.4,465.6 327.2,465.3 327,466.3 326.7,465.5 326.5,464.3 326.3,466 326.1,468.9 325.9,464.9 325.6,462.6 325.4,466.1 325.2,468.1 325,466.9 324.8,464.5 324.5,466.6 324.3,464.1 324.1,465.1 323.9,466.6 323.7,462.1 323.4,466.4 323.2,466.8 323,463.7 322.8,465.2 322.6,464.9 322.3,466 322.1,469.6 321.9,471.5 321.7,467.3 321.5,471.5 321.2,475.1 321,474 320.8,477.2 320.6,473.3 320.4,470.4 320.1,473.9 319.9,474.9 319.7,474.3 319.5,469.7 319.3,471 319,468.4 318.8,474.7 318.6,469.4 318.4,465.5 318.2,465.8 317.9,463.9 317.7,464 317.5,464 317.3,458.8 317.1,459 316.8,457.9 316.6,452.6 316.4,454.4 316.2,449.4 316,455.1 315.7,453.7 315.5,457.8 315.3,456.8 315.1,452.7 314.9,458.7 314.6,453.3 314.4,454.6 314.2,454 314,459.7 313.8,456.5 313.5,457.4 313.3,454.8 313.1,454.9 312.9,456.6 312.7,457.4 312.4,458.3 312.2,458.2 312,460.4 311.8,455.3 311.6,457.1 311.3,456.8 311.1,461.5 310.9,456.3 310.7,458.8 310.5,465.1 310.2,464 310,465.8 309.8,466 309.6,468.8 309.4,464.2 309.1,468.5 308.9,467.7 308.7,466.4 308.5,470.9 308.3,472 308,469.2 307.8,469.1 307.6,470.6 307.4,466.8 307.2,473.8 306.9,472.1 306.7,471.9 306.5,471 306.3,472.9 306.1,473.7 305.8,469.4 305.6,474.4 305.4,473.7 305.2,472.1 305,469.4 304.7,468.6 304.5,471 304.3,470.7 304.1,469.5 303.9,470 303.6,471.1 303.4,468.9 303.2,469.4 303,473.1 302.8,472.4 302.5,470 302.3,474.8 302.1,472.8 301.9,473.5 301.7,476.8 301.4,474.3 301.2,470.4 301,472.6 300.8,473.7 300.6,475.6 300.3,470.7 300.1,472.9 299.9,472.1 299.7,478.1 299.5,477.5 299.2,477.4 299,482.5 298.8,480.8 298.6,475.5 298.4,474.9 298.1,475.2 297.9,477.1 297.7,476.4 297.5,478.6 297.3,475.2 297,477.7 296.8,478.9 296.6,479.4 296.4,480.4 296.2,478 295.9,479.7 295.7,475 295.5,476.3 295.3,478.8 295.1,476.8 294.8,479.7 294.6,484.1 294.4,480.8 294.2,483.4 294,482.1 293.7,488.6 293.5,485.9 293.3,486.6 293.1,486.6 292.9,487.6 292.6,490.2 292.4,490.9 292.2,493.9 292,496.3 291.8,493.7 291.5,492.7 291.3,487.2 291.1,488.2 290.9,491.8 290.7,490.1 290.4,487.3 290.2,489.3 290,489.9 289.8,487.7 289.6,485.3 289.3,485 289.1,488.7 288.9,486.8 288.7,484.4 288.5,482.2 288.2,486.9 288,485.9 287.8,488.5 287.6,487.2 287.4,483 287.1,481.5 286.9,491.4 286.7,486.8 286.5,483.3 286.3,482 286,485.7 285.8,486.9 285.6,490.9 285.4,488.5 285.2,490.5 284.9,487.2 284.7,489.7 284.5,486.1 284.3,486.2 284.1,486.4 283.8,489.1 283.6,482.4 283.4,486.4 283.2,489.6 283,488.2 282.7,490.2 282.5,492.4 282.3,486.7 282.1,487.5 281.9,492.2 281.6,493.4 281.4,487.7 281.2,483.6 281,490.7 280.8,487.4 280.5,491.6 280.3,496.9 280.1,494.8 279.9,490.6 279.7,488.8 279.4,492.4 279.2,489 279,491 278.8,494.5 278.6,493.1 278.3,489.5 278.1,490 277.9,489 277.7,489.2 277.5,490.2 277.2,496.4 277,492.5 276.8,494.7 276.6,498.7 276.4,499 276.1,496.6 275.9,501.8 275.7,497.8 275.5,492.1 275.3,490.7 275,485.1 274.8,486.6 274.6,488.1 274.4,483.5 274.2,488.2 273.9,479.9 273.7,478.8 273.5,481.2 273.3,481.1 273.1,477.4 272.8,477.6 272.6,479.3 272.4,482 272.2,481.9 272,479.1 271.7,484 271.5,482.8 271.3,482.3 271.1,481.7 270.9,478.8 270.6,483 270.4,487.9 270.2,484.1 270,490.9 269.8,483.2 269.5,490.9 269.3,486.2 269.1,489.2 268.9,491.8 268.7,486.5 268.4,493.5 268.2,495.5 268,493.3 267.8,489.6 267.6,491.7 267.3,489.8 267.1,492.2 266.9,489.6 266.7,488.8 266.5,493.8 266.2,489.3 266,489.3 265.8,494.6 265.6,494.4 265.4,487.3 265.1,495.5 264.9,492.3 264.7,494.7 264.5,492.3 264.3,492.7 264,495.3 263.8,492.8 263.6,490.5 263.4,494.8 263.2,492.6 262.9,496.5 262.7,492 262.5,494.5 262.3,494.1 262.1,497.7 261.8,494.8 261.6,496.9 261.4,500 261.2,501 261,501.4 260.7,492.5 260.5,497.4 260.3,493.5 260.1,496.2 259.9,495.4 259.6,496.9 259.4,497.7 259.2,498.4 259,498.7 258.8,501.6 258.5,500.2 258.3,498.9 258.1,505.1 257.9,500.3 257.7,501.4 257.4,499.9 257.2,498.8 257,496.6 256.8,494.6 256.6,501.5 256.3,496.7 256.1,498.7 255.9,496.6 255.7,496.6 255.5,504 255.2,498.8 255,502.2 254.8,500.1 254.6,502.2 254.4,508.4 254.1,500.5 253.9,503.8 253.7,506.1 253.5,499.9 253.3,499.5 253,500.7 252.8,500.6 252.6,497.9 252.4,499.6 252.2,503.9 251.9,503.4 251.7,508.3 251.5,508.8 251.3,508.4 251.1,506.5 250.8,507 250.6,507 250.4,510.5 250.2,511.4 250,513.4 249.7,512.3 249.5,515.4 249.3,512.3 249.1,516.6 248.9,513.2 248.6,512.4 248.4,512.1 248.2,508.6 248,508.8 247.8,510.4 247.5,509.9 247.3,513.8 247.1,515.7 246.9,513.7 246.7,507.3 246.4,514.5 246.2,506.5 246,507.7 245.8,509 245.6,508.6 245.3,509.7 245.1,510 244.9,513.8 244.7,511.6 244.5,510.5 244.2,509.8 244,504.3 243.8,504.3 243.6,506 243.4,508.5 243.1,505.8 242.9,510.8 242.7,506 242.5,505.3 242.3,502.5 242,504.9 241.8,498.6 241.6,502.6 241.4,506.3 241.2,505.3 240.9,507.3 240.7,507.8 240.5,507.5 240.3,506.3 240.1,506.4 239.8,505.4 239.6,507.9 239.4,509.2 239.2,506.8 239,506.1 238.7,507.7 238.5,507.7 238.3,506.7 238.1,506.4 237.9,504.4 237.6,507.5 237.4,504.2 237.2,510.9 237,507.8 236.8,510.2 236.5,513.5 236.3,512.4 236.1,510.7 235.9,513.9 235.7,510.8 235.4,512.3 235.2,510.4 235,519.3 234.8,511.1 234.6,517.4 234.3,518 234.1,514.2 233.9,516.9 233.7,515.5 233.5,506.8 233.2,506.3 233,506.8 232.8,502.9 232.6,496.6 232.4,501.8 232.1,498.1 231.9,494.6 231.7,496 231.5,497.4 231.3,495.7 231,493 230.8,492.1 230.6,493.7 230.4,493.8 230.2,494.4 229.9,496.8 229.7,495.1 229.5,496 229.3,494.1 229.1,494.2 228.8,494.5 228.6,497.4 228.4,502.6 228.2,496.6 228,497.7 227.7,494.4 227.5,498 227.3,495.8 227.1,496.1 226.9,501.2 226.6,497.5 226.4,503.9 226.2,505.2 226,502.7 225.8,504 225.5,508.1 225.3,502 225.1,505.8 224.9,501.9 224.7,502.5 224.4,501.6 224.2,502.3 224,500.6 223.8,500.8 223.6,504.8 223.3,501.1 223.1,499.6 222.9,497.8 222.7,504.1 222.5,503.4 222.2,496.3 222,503.9 221.8,498.1 221.6,494.3 221.4,500.1 221.1,498.9 220.9,504.3 220.7,502.6 220.5,498.2 220.3,498.6 220,496.9 219.8,498.3 219.6,501.7 219.4,495.3 219.2,498.4 218.9,493.5 218.7,494.9 218.5,490.7 218.3,493.5 218.1,496.6 217.8,495.9 217.6,493 217.4,498.6 217.2,497.2 217,496.6 216.7,491.9 216.5,501.7 216.3,498.3 216.1,498.1 215.9,498 215.6,497.2 215.4,498.6 215.2,499 215,496.8 214.8,496.4 214.5,493.5 214.3,494 214.1,492.3 213.9,495 213.7,493 213.4,493 213.2,490.2 213,494.4 212.8,495 212.6,491.7 212.3,493.3 212.1,492 211.9,489.7 211.7,493 211.5,493 211.2,486.6 211,488.5 210.8,488.3 210.6,488.8 210.4,489 210.1,489.6 209.9,488.1 209.7,489.3 209.5,489.7 209.3,491.6 209,491 208.8,491.7 208.6,490.9 208.4,495.3 208.2,488.8 207.9,494.5 207.7,490.6 207.5,491.1 207.3,496.4 207.1,494.7 206.8,495.9 206.6,495.6 206.4,496.4 206.2,491.6 206,497.9 205.7,493.6 205.5,494.9 205.3,492.3 205.1,494.4 204.9,492.4 204.6,494.1 204.4,490.2 204.2,489.4 204,483.1 203.8,487.8 203.5,483 203.3,487.9 203.1,490.1 202.9,488 202.7,486.3 202.4,485.5 202.2,484.2 202,484.2 201.8,479 201.6,486.4 201.3,481.6 201.1,478 200.9,479.5 200.7,481.9 200.5,478.7 200.2,475.8 200,479.7 199.8,481.4 199.6,474.6 199.4,479.4 199.1,473.3 198.9,475 198.7,473.5 198.5,472.2 198.3,475.1 198,478.1 197.8,475.9 197.6,477.2 197.4,478.7 197.2,477.3 196.9,479.7 196.7,481.2 196.5,473.2 196.3,476.4 196.1,474.3 195.8,472.6 195.6,467.1 195.4,476.1 195.2,476.3 195,476.1 194.7,475.1 194.5,472.2 194.3,472 194.1,473.3 193.9,475.1 193.6,473.5 193.4,474 193.2,472.5 193,472.6 192.8,468.5 192.5,470.2 192.3,475.2 192.1,472.2 191.9,473.5 191.7,478.2 191.4,475.5 191.2,472.4 191,474.4 190.8,474.4 190.6,473.9 190.3,466.6 190.1,468.7 189.9,466.7 189.7,465 189.5,466.4 189.2,461.5 189,459.6 188.8,460.3 188.6,453.9 188.4,451.2 188.1,448.4 187.9,452.3 187.7,453.5 187.5,452.6 187.3,448.3 187,446.2 186.8,445.3 186.6,447 186.4,442.3 186.2,444.4 185.9,446.8 185.7,444.8 185.5,447.3 185.3,443.1 185.1,449.6 184.8,442.8 184.6,447.9 184.4,446.8 184.2,447.3 184,448.3 183.7,447.7 183.5,448.3 183.3,449.4 183.1,449 182.9,449.3 182.6,451.1 182.4,450.4 182.2,448.9 182,451.8 181.8,453.7 181.5,454.7 181.3,456.5 181.1,452.9 180.9,451.4 180.7,450.1 180.4,452.9 180.2,452.9 180,446.1 179.8,450.1 179.6,448.8 179.3,448.3 179.1,449.3 178.9,448 178.7,449.9 178.5,443.4 178.2,446.4 178,444.2 177.8,452.9 177.6,445 177.4,449.2 177.1,449.4 176.9,448.1 176.7,443.4 176.5,439.9 176.3,442.2 176,444.6 175.8,438.9 175.6,443.1 175.4,448.4 175.2,447 174.9,446.1 174.7,438.3 174.5,447.6 174.3,445.8 174.1,447.5 173.8,443.1 173.6,442.1 173.4,441 173.2,441 173,444.1 172.7,437.6 172.5,437.5 172.3,437.8 172.1,437.3 171.9,438 171.6,437.1 171.4,441.3 171.2,444.5 171,438.5 170.8,438.2 170.5,437.7 170.3,437.4 170.1,436.4 169.9,434.9 169.7,438.1 169.4,434.6 169.2,436.5 169,436.5 168.8,434.5 168.6,437.6 168.3,431 168.1,434.4 167.9,433.8 167.7,434.2 167.5,429.4 167.2,436.6 167,434.9 166.8,435.1 166.6,437.8 166.4,439.7 166.1,442.2 165.9,440.4 165.7,442.5 165.5,441.8 165.3,446.7 165,442.3 164.8,442.2 164.6,445.6 164.4,438.2 164.2,440.4 163.9,441.7 163.7,441.2 163.5,441 163.3,438.7 163.1,442.5 162.8,435.7 162.6,438.5 162.4,435.1 162.2,437.8 162,437.3 161.7,436.7 161.5,433.5 161.3,435.6 161.1,435.2 160.9,433.6 160.6,431.6 160.4,436.7 160.2,434 160,429.3 159.8,428.2 159.5,425.2 159.3,427.3 159.1,430.6 158.9,428.7 158.7,431.8 158.4,427.5 158.2,423.4 158,428.4 157.8,425.3 157.6,427.6 157.3,428.4 157.1,430.9 156.9,428.7 156.7,430.6 156.5,426.2 156.2,423.8 156,421.5 155.8,420.7 155.6,421.3 155.4,420.5 155.1,420.9 154.9,419 154.7,420.3 154.5,419 154.3,426.6 154,419.5 153.8,420.6 153.6,423.8 153.4,425.1 153.2,421.3 152.9,423.4 152.7,426.4 152.5,423.1 152.3,425.1 152.1,424.6 151.8,419.9 151.6,424.4 151.4,422.1 151.2,416.9 151,424.6 150.7,417.1 150.5,416.9 150.3,418.7 150.1,422.3 149.9,421 149.6,423.9 149.4,422.9 149.2,422.2 149,422 148.8,423.3 148.5,419.3 148.3,421.2 148.1,420.3 147.9,418.5 147.7,416.1 147.4,414.3 147.2,412.3 147,407 146.8,408.3 146.6,405.5 146.3,402.8 146.1,400.8 145.9,400.8 145.7,398 145.5,395.6 145.2,392.6 145,392.7 144.8,393.3 144.6,393.5 144.4,397.7 144.1,397.4 143.9,394.2 143.7,396.7 143.5,398.1 143.3,395.8 143,397.3 142.8,398.1 142.6,401 142.4,396.9 142.2,401.2 141.9,403.9 141.7,401.8 141.5,403.7 141.3,403.3 141.1,398.2 140.8,402.6 140.6,401.5 140.4,401.3 140.2,405 140,404.1 139.7,405.2 139.5,405.5 139.3,401.5 139.1,406.4 138.9,408.5 138.6,407.6 138.4,407.1 138.2,409.7 138,404.2 137.8,402 137.5,403.1 137.3,404.4 137.1,399.8 136.9,402.8 136.7,403.9 136.4,402.1 136.2,403.6 136,399 135.8,400.4 135.6,403.2 135.3,398 135.1,400.2 134.9,406.4 134.7,399.4 134.5,400.8 134.2,401 134,401 133.8,396.3 133.6,395.3 133.4,398.9 133.1,397 132.9,393.6 132.7,398.2 132.5,393.3 132.3,399.9 132,398.4 131.8,398.4 131.6,399.2 131.4,398 131.2,400.2 130.9,402.2 130.7,401.5 130.5,403.4 130.3,401.2 130.1,401.8 129.8,402.1 129.6,401.2 129.4,400.5 129.2,402.6 129,397.8 128.7,400.8 128.5,403 128.3,400 128.1,405.6 127.9,400 127.6,403 127.4,402.3 127.2,405.1 127,400.9 126.8,395.5 126.5,397.6 126.3,396 126.1,397 125.9,395 125.7,396.3 125.4,394.5 125.2,395.2 125,390.8 124.8,396.7 124.6,395 124.3,393.9 124.1,395.2 123.9,397.1 123.7,400.5 123.5,400.1 123.2,399.4 123,401.4 122.8,398.5 122.6,404.2 122.4,400 122.1,402.9 121.9,407.1 121.7,407.4 121.5,407.6 121.3,407.8 121,408.1 120.8,413.4 120.6,408Z" fill="#0072B2" fill-opacity="0.2" stroke="#0072B2" stroke-opacity="0.2" stroke-width="1.39" stroke-linejoin="round"/>
<path d="M169.5,15.5V542.5M340.5,15.5V542.5M511.5,15.5V542.5M682.5,15.5V542.5M854.5,15.5V542.5M79.5,513.5H985.5M79.5,405.5H985.5M79.5,298.5H985.5M79.5,191.5H985.5M79.5,84.5H985.5" stroke="#808080" stroke-opacity="0.2" stroke-width="1.39" fill="none"/>
<path d="M121.8,396.6h0M121.9,386.6h0M122,386.1h0M122.1,385.4h0M122.2,383.7h0M122.3,385.2h0M122.4,389.6h0M122.5,384.3h0M122.7,388.7h0M122.8,383.6h0M122.9,380.5h0M123,382.2h0M123.1,383h0M123.2,395.1h0M123.3,383h0M123.4,394.5h0M123.5,388.8h0M123.6,384.5h0M123.8,390.8h0M123.9,382h0M124,380.8h0M124.1,379.5h0M124.2,378.8h0M124.3,379h0M124.4,382.5h0M124.5,385.7h0M124.6,382.9h0M124.7,389.3h0M124.9,389.7h0M125,393.5h0M125.1,385.3h0M125.2,390.2h0M125.3,390.5h0M125.4,381.5h0M125.5,392.9h0M125.6,393.2h0M125.7,392.4h0M125.8,380.7h0M126,391.9h0M126.1,377.8h0M126.2,391h0M126.3,385.4h0M126.4,386.2h0M126.5,387.4h0M126.6,390.2h0M126.7,387.1h0M126.8,384.8h0M126.9,384.1h0M127.1,383.5h0M127.2,379.4h0M127.3,383.6h0M127.4,386h0M127.5,390.5h0M127.6,391.1h0M127.7,380.9h0M127.8,385.5h0M127.9,384.6h0M128,390.1h0M128.2,391.3h0M128.3,388.2h0M128.4,384.6h0M128.5,389.2h0M128.6,390.5h0M128.7,385.4h0M128.8,380.9h0M128.9,381.9h0M129,382.1h0M129.1,381.2h0M129.3,382.6h0M129.4,389h0M129.5,385.9h0M129.6,383.7h0M129.7,383.2h0M129.8,382.2h0M129.9,376h0M130,378.7h0M130.1,378.2h0M130.2,375.6h0M130.4,382.5h0M130.5,386.8h0M130.6,374.7h0M130.7,387.7h0M130.8,375h0M130.9,374.3h0M131,376h0M131.1,375.6h0M131.2,375.5h0M131.3,385h0M131.5,374.4h0M131.6,375.4h0M131.7,381.7h0M131.8,380h0M131.9,374.9h0M132,379h0M132.1,387.7h0M132.2,389.7h0M132.3,377.2h0M132.4,376.1h0M132.6,372.7h0M132.7,373.4h0M132.8,387.6h0M132.9,372.5h0M133,373.9h0M133.1,371.7h0M133.2,373h0M133.3,375.3h0M133.4,371.1h0M133.5,382.2h0M133.7,374.8h0M133.8,375.5h0M133.9,371.9h0M134,374.2h0M134.1,371.1h0M134.2,372.5h0M134.3,372.7h0M134.4,371.9h0M134.5,371h0M134.6,374.1h0M134.8,383h0M134.9,375.2h0M135,375.7h0M135.1,373.5h0M135.2,372h0M135.3,375.8h0M135.4,372.6h0M135.5,371.5h0M135.6,373.1h0M135.7,374.4h0M135.9,374.3h0M136,372.5h0M136.1,374.6h0M136.2,380.6h0M136.3,378.5h0M136.4,378.2h0M136.5,375.8h0M136.6,380.5h0M136.7,372.9h0M136.8,371.8h0M137,373.6h0M137.1,375.3h0M137.2,378.5h0M137.3,374.4h0M137.4,378.5h0M137.5,380.8h0M137.6,376.1h0M137.7,379.6h0M137.8,374.7h0M137.9,377.3h0M138.1,379.4h0M138.2,376h0M138.3,376.9h0M138.4,376.6h0M138.5,376.8h0M138.6,378.5h0M138.7,378.4h0M138.8,379.2h0M138.9,375.4h0M139,374.4h0M139.2,369.8h0M139.3,373.8h0M139.4,376.9h0M139.5,378.4h0M139.6,368.7h0M139.7,376h0M169.8,385.5h0M169.9,382.8h0M170,387.8h0M170.1,389.3h0M170.2,386h0M170.3,385.8h0M170.4,387.8h0M170.6,389.1h0M170.7,396.8h0M170.8,386.6h0M170.9,388.5h0M171,388.5h0M171.1,390.4h0M171.2,391.3h0M171.3,390h0M171.4,393.4h0M171.5,392.1h0M171.7,393h0M171.8,391.4h0M171.9,390.7h0M172,390h0M172.1,388.3h0M172.2,388.7h0M172.3,391.8h0M172.4,373.4h0M172.5,399.6h0M172.6,399.1h0M172.8,402.5h0M172.9,388.9h0M173,402.5h0M173.1,389.8h0M173.2,402.7h0M173.3,392.7h0M173.4,403.7h0M173.5,402.4h0M173.6,403.7h0M173.7,399.4h0M173.9,373.1h0M174,395.8h0M174.1,402h0M174.2,395h0M174.3,389.5h0M174.4,377.8h0M174.5,384.6h0M174.6,384.1h0M174.7,371.4h0M174.8,382.5h0M175,396.6h0M175.1,379.4h0M175.2,378.5h0M175.3,399.5h0M175.4,380.3h0M175.5,380.8h0M175.6,379.1h0M175.7,379.1h0M175.8,371.5h0M175.9,380.1h0M176.1,376.9h0M176.2,398.7h0M176.3,375.2h0M176.4,374.8h0M176.5,376.2h0M176.6,383.4h0M176.7,368.5h0M176.8,385h0M176.9,385.2h0M177,386.3h0M177.2,388.8h0M177.3,390.7h0M177.4,391.9h0M177.5,389h0M177.6,395h0M177.7,390.7h0M177.8,391.4h0M177.9,391.6h0M178,386.3h0M178.1,384.3h0M178.3,383.2h0M178.4,381.6h0M178.5,382h0M178.6,377.8h0M178.7,373.9h0M178.8,381.7h0M178.9,382.7h0M179,394.5h0M179.1,382.2h0M179.2,388.1h0M179.4,384.1h0M179.5,373.8h0M179.6,390.3h0M179.7,389.5h0M179.8,393.1h0M179.9,391.8h0M180,391.4h0M180.1,381.8h0M180.2,390.1h0M180.3,389.9h0M180.5,391.4h0M180.6,395.4h0M180.7,384.9h0M180.8,395.7h0M180.9,395.9h0M181,375.9h0M181.1,394.3h0M181.2,395.1h0M181.3,396.3h0M181.4,394.8h0M181.6,396h0M181.7,374.6h0M181.8,390.7h0M181.9,394h0M182,376.9h0M182.1,374.2h0M182.2,392.4h0M182.3,392.9h0M182.4,395.4h0M182.5,396h0M182.7,377.7h0M182.8,394.7h0M182.9,395.4h0M183,381.9h0M183.1,392.3h0M183.2,393.5h0M183.3,390.2h0M183.4,386.6h0M183.5,389.4h0M183.6,384.7h0M183.8,382h0M183.9,379.4h0M184,378h0M184.1,393.9h0M184.2,380.6h0M184.3,383.1h0M184.4,388.9h0M184.5,395.8h0M184.6,381.6h0M184.7,388.8h0M184.9,392.9h0M185,391.7h0M185.1,394.5h0M185.2,380.5h0M185.3,378.8h0M185.4,383.2h0M185.5,392.1h0M185.6,387.9h0M185.7,389.8h0M185.8,393.2h0M186,383.8h0M186.1,396.3h0M186.2,393.7h0M186.3,394.8h0M186.4,394.7h0M186.5,394.1h0M186.6,394.9h0M186.7,393.2h0M186.8,394.7h0M186.9,394.9h0M187.1,395.2h0M187.2,395.5h0M187.3,393.1h0M187.4,388.9h0M187.5,388.1h0M187.6,387.6h0M187.7,394h0M187.8,393.6h0M187.9,395.8h0M188,393.4h0M188.2,394.9h0M188.3,396.2h0M188.4,389.6h0M188.5,399.5h0M188.6,398.5h0M188.7,397.1h0M188.8,396.1h0M188.9,392.8h0M189,401.7h0M189.1,402.2h0M189.3,403.1h0M189.4,402.6h0M189.5,403.3h0M189.6,404h0M189.7,413.9h0M189.8,409.4h0M189.9,402.5h0M190,415.9h0M190.1,411.6h0M190.2,409.8h0M190.4,409.7h0M190.5,410.7h0M190.6,413.9h0M190.7,415.9h0M190.8,416.1h0M190.9,419.7h0M191,421.1h0M191.1,422.6h0M191.2,423.1h0M191.3,424.7h0M191.5,419.2h0M191.6,421.6h0M191.7,421.9h0M191.8,403.1h0M191.9,424.1h0M192,425.6h0M192.1,429.6h0M192.2,428.4h0M192.3,427.9h0M192.4,423.9h0M192.6,425h0M192.7,426.6h0M192.8,426.8h0M192.9,428.2h0M193,428.8h0M193.1,427.3h0M193.2,414.4h0M193.3,428.8h0M193.4,425.3h0M193.5,424h0M193.7,424.2h0M193.8,426h0M193.9,426h0M194,423h0M194.1,425.1h0M194.2,429.3h0M194.3,427.9h0M194.4,416.6h0M194.5,431.4h0M194.6,429.9h0M194.8,431.7h0M194.9,430.7h0M195,431.2h0M195.1,431.9h0M195.2,429.2h0M195.3,428.4h0M195.4,427.8h0M195.5,406.3h0M195.6,430.6h0M195.7,428h0M195.9,429.8h0M196,429.6h0M196.1,424.7h0M196.2,426.7h0M196.3,427.4h0M196.4,424.6h0M196.5,423.3h0M196.6,428.7h0M196.7,427.1h0M196.8,429.7h0M197,432.2h0M197.1,431h0M197.2,423.9h0M197.3,402.9h0M197.4,429.9h0M197.5,424.2h0M197.6,425.8h0M197.7,424.4h0M197.8,427.6h0M197.9,422.4h0M198.1,404.9h0M198.2,428.6h0M198.3,432.5h0M198.4,425.8h0M198.5,427.6h0M198.6,427.8h0M198.7,422h0M198.8,420.9h0M198.9,430.9h0M199,414.6h0M199.2,423.8h0M199.3,424.8h0M199.4,422.3h0M199.5,426.7h0M199.6,426.3h0M199.7,429h0M199.8,431.8h0M199.9,428.9h0M200,432h0M200.1,430.6h0M200.3,430.3h0M200.4,433.4h0M200.5,425.1h0M200.6,435.8h0M200.7,426h0M200.8,437.5h0M200.9,423.9h0M201,434.8h0M201.1,437.3h0M201.2,440h0M201.4,441.3h0M201.5,441.7h0M201.6,439.1h0M201.7,441.2h0M201.8,439.8h0M201.9,442.6h0M202,443.5h0M202.1,446.5h0M202.2,445.4h0M202.3,444.6h0M202.5,438.4h0M202.6,446.6h0M202.7,447.6h0M202.8,450.8h0M202.9,446.5h0M203,449.4h0M203.1,450.9h0M203.2,454.3h0M203.3,453.5h0M203.4,451.8h0M203.6,452.6h0M203.7,453.1h0M203.8,457h0M203.9,457.3h0M204,456.1h0M204.1,457.5h0M204.2,459.1h0M204.3,456.2h0M204.4,457.4h0M204.5,457.1h0M204.7,457.6h0M204.8,460.4h0M204.9,458.6h0M205,457.8h0M205.1,462.4h0M205.2,458.8h0M205.3,463.1h0M205.4,461.3h0M205.5,453.8h0M205.6,461.3h0M205.8,461.4h0M205.9,462.9h0M206,462.5h0M206.1,463.7h0M206.2,461.2h0M206.3,461.6h0M206.4,465h0M206.5,462.3h0M206.6,465.9h0M206.7,463.4h0M206.9,466.9h0M207,459.8h0M207.1,463.1h0M207.2,463.7h0M207.3,466.7h0M207.4,465.4h0M207.5,466.3h0M207.6,466.7h0M207.7,468.5h0M207.8,468.1h0M208,462.3h0M208.1,464.4h0M208.2,465.8h0M208.3,463h0M208.4,467.5h0M208.5,464.5h0M208.6,465h0M208.7,469h0M208.8,468.4h0M208.9,464.9h0M209.1,464.4h0M209.2,466.4h0M209.3,463.9h0M209.4,465.8h0M209.5,469.6h0M209.6,467.9h0M209.7,468.2h0M209.8,469.5h0M209.9,467h0M210,468.4h0M210.2,468h0M210.3,466h0M210.4,467.2h0M210.5,467.5h0M210.6,471.6h0M210.7,469.5h0M210.8,466.4h0M210.9,471.3h0M211,468.8h0M211.1,467.4h0M211.3,468.1h0M211.4,470.5h0M211.5,469.9h0M211.6,467.4h0M211.7,465.4h0M211.8,465.6h0M211.9,466.5h0M212,466.8h0M212.1,466.4h0M212.2,468.9h0M212.4,470.8h0M212.5,470.5h0M212.6,470.6h0M212.7,468.8h0M212.8,469.1h0M212.9,472.3h0M213,464.9h0M213.1,468.2h0M213.2,472.4h0M213.3,469.3h0M213.5,470.9h0M213.6,472.9h0M213.7,472.9h0M213.8,470.7h0M213.9,467.5h0M214,465.9h0M214.1,466.8h0M214.2,466.6h0M214.3,465.8h0M214.4,467.2h0M214.6,469.8h0M214.7,472.3h0M214.8,466.7h0M214.9,465.7h0M215,465.8h0M215.1,467.9h0M215.2,465.3h0M215.3,466.2h0M215.4,465.7h0M215.5,468.3h0M215.7,466.1h0M215.8,467.7h0M215.9,467.1h0M216,469.4h0M216.1,466.2h0M216.2,466.1h0M216.3,470h0M216.4,468.3h0M216.5,467.5h0M216.6,465.4h0M216.8,464h0M216.9,467.7h0M217,464.9h0M217.1,463.8h0M217.2,463.8h0M217.3,461.9h0M217.4,462.1h0M217.5,460.8h0M217.6,461.9h0M217.7,462.9h0M217.9,468.2h0M218,462.8h0M218.1,464.3h0M218.2,460h0M218.3,461.5h0M218.4,459.3h0M218.5,459.9h0M218.6,460.4h0M218.7,462.7h0M218.8,465.5h0M219,465.9h0M219.1,461.1h0M219.2,460h0M219.3,465.5h0M219.4,463.8h0M219.5,459h0M219.6,458.9h0M219.7,459.8h0M219.8,458.5h0M219.9,461h0M220.1,456.5h0M220.2,456.9h0M220.3,458h0M220.4,456h0M220.5,461.9h0M220.6,458.3h0M220.7,461.9h0M220.8,456.7h0M220.9,455.7h0M221,457.9h0M221.2,457.3h0M221.3,458.6h0M221.4,461.7h0M221.5,461h0M221.6,459.1h0M221.7,460h0M221.8,458.8h0M221.9,462.5h0M222,458.1h0M222.1,455h0M222.3,459.1h0M222.4,461.7h0M222.5,455.3h0M222.6,459.1h0M222.7,454.1h0M222.8,459.3h0M222.9,451.8h0M223,452h0M223.1,452.3h0M223.2,456.9h0M223.4,454.1h0M223.5,452h0M223.6,456.9h0M223.7,457.9h0M223.8,456.5h0M223.9,457.3h0M224,456.7h0M224.1,456.2h0M224.2,454.4h0M224.3,452.4h0M224.5,451.8h0M224.6,453.6h0M224.7,452.1h0M224.8,454.6h0M224.9,454.8h0M225,453.4h0M225.1,452.1h0M225.2,455.9h0M225.3,454.6h0M225.4,450.4h0M225.6,448.8h0M225.7,449.1h0M225.8,449.2h0M225.9,448.1h0M226,453.1h0M226.1,448h0M226.2,447.9h0M226.3,449.9h0M226.4,447.6h0M226.5,449.7h0M226.7,455h0M226.8,452.4h0M226.9,450.8h0M227,449.6h0M227.1,446.5h0M227.2,449.9h0M227.3,455.1h0M227.4,450.5h0M227.5,446.2h0M227.6,448.5h0M227.8,448.9h0M227.9,449.9h0M228,449h0M228.1,447.9h0M228.2,448h0M228.3,448.6h0M228.4,448h0M228.5,449.8h0M228.6,448.2h0M228.7,448.1h0M228.9,451.8h0M229,452.2h0M229.1,452.4h0M229.2,451.5h0M229.3,451.5h0M229.4,448.8h0M229.5,452.3h0M229.6,451.2h0M229.7,449.4h0M229.8,447.6h0M230,449.2h0M230.1,449.2h0M230.2,452.9h0M230.3,449.9h0M230.4,447.6h0M230.5,451h0M230.6,446.5h0M230.7,447.1h0M230.8,446.8h0M230.9,448.4h0M231.1,451.3h0M231.2,451.3h0M231.3,451.6h0M231.4,448h0M231.5,449.6h0M231.6,446.9h0M231.7,448.9h0M231.8,447.1h0M231.9,447.2h0M232,446.5h0M232.2,445.9h0M232.3,445.6h0M232.4,443.3h0M232.5,445h0M232.6,443.4h0M232.7,448h0M232.8,444.7h0M232.9,443.2h0M233,443.5h0M233.1,443.5h0M233.3,446.8h0M233.4,443.4h0M233.5,444.1h0M233.6,442.5h0M233.7,442.5h0M233.8,445.1h0M233.9,444.3h0M234,448.7h0M234.1,441.9h0M234.2,445.1h0M234.4,448.8h0M234.5,445.7h0M234.6,447h0M234.7,445.9h0M234.8,444.7h0M234.9,444.5h0M235,448.6h0M235.1,449.7h0M235.2,441.4h0M235.3,443.6h0M235.5,448.3h0M235.6,448.7h0M235.7,445.3h0M235.8,447.2h0M235.9,443.8h0M236,440.3h0M236.1,440.2h0M236.2,440.8h0M236.3,442.9h0M236.4,440.2h0M236.6,441.8h0M236.7,440.2h0M236.8,447.5h0M236.9,441.9h0M237,442.2h0M237.1,441.1h0M237.2,446.6h0M237.3,447.4h0M237.4,445.1h0M237.5,444.6h0M237.7,445h0M237.8,446h0M237.9,444.3h0M238,445.5h0M238.1,447.8h0M238.2,446.7h0M238.3,445.4h0M238.4,444.3h0M238.5,447.8h0M238.6,443.3h0M238.8,442.7h0M238.9,441.5h0M239,444.7h0M239.1,445.4h0M239.2,446.1h0M239.3,447.7h0M239.4,446.5h0M239.5,446.6h0M239.6,446.6h0M239.7,447h0M239.9,446h0M240,445.1h0M240.1,442h0M240.2,446.4h0M240.3,443.6h0M240.4,444.5h0M240.5,450.2h0M240.6,451.1h0M240.7,450.5h0M240.8,450.2h0M241,450.1h0M241.1,450.3h0M241.2,447.7h0M241.3,450.7h0M241.4,446.7h0M241.5,448.1h0M241.6,449.7h0M241.7,450.9h0M241.8,448.3h0M241.9,450.4h0M242.1,451h0M242.2,452.8h0M242.3,452.7h0M242.4,453.7h0M242.5,453.1h0M242.6,452.1h0M242.7,450.5h0M242.8,451.1h0M242.9,451.4h0M243,451.1h0M243.2,450.3h0M243.3,448.7h0M243.4,448.7h0M243.5,450.8h0M243.6,449.5h0M243.7,449.9h0M243.8,453.2h0M243.9,453.5h0M244,449.7h0M244.1,449.6h0M244.3,455.2h0M244.4,451h0M244.5,451.8h0M244.6,452.2h0M244.7,452.8h0M244.8,457.9h0M244.9,451.8h0M245,454h0M245.1,456.8h0M245.2,453.1h0M245.4,453.9h0M245.5,459.2h0M245.6,456.6h0M245.7,457.5h0M245.8,454.3h0M245.9,454.7h0M246,456h0M246.1,457.6h0M246.2,458.1h0M246.3,458.2h0M246.5,456h0M246.6,458.2h0M246.7,460.6h0M246.8,459.1h0M246.9,460.6h0M247,458.4h0M247.1,457.2h0M247.2,460.7h0M247.3,460.3h0M247.4,458.1h0M247.6,460.3h0M247.7,462h0M247.8,459.7h0M247.9,462.4h0M248,460.1h0M248.1,460.3h0M248.2,460h0M248.3,460.7h0M248.4,462.5h0M248.5,464.3h0M248.7,462.6h0M248.8,461.7h0M248.9,461.7h0M249,465.4h0M249.1,463.3h0M249.2,464.5h0M249.3,462.2h0M249.4,462.3h0M249.5,463.7h0M249.6,463.1h0M249.8,463.2h0M249.9,463.6h0M250,464h0M250.1,465.8h0M250.2,464h0M250.3,464.1h0M250.4,464.3h0M250.5,465.2h0M250.6,464.9h0M250.7,465h0M250.9,465h0M251,466.9h0M251.1,465.1h0M251.2,466h0M251.3,465.4h0M251.4,464.4h0M251.5,466.2h0M251.6,465.7h0M251.7,465.9h0M251.8,464.4h0M252,463.5h0M252.1,463.8h0M252.2,463.1h0M252.3,462.4h0M252.4,463.6h0M252.5,463.4h0M252.6,462.7h0M252.7,464.8h0M252.8,463.7h0M252.9,463.9h0M253.1,463.7h0M253.2,461.9h0M253.3,462.4h0M253.4,461.3h0M253.5,463h0M253.6,461.7h0M253.7,464h0M253.8,465.1h0M253.9,460.1h0M254,461.6h0M254.2,464.3h0M254.3,460.7h0M254.4,463.5h0M254.5,459.4h0M254.6,463.8h0M254.7,459.7h0M254.8,461h0M254.9,459.2h0M255,463.1h0M255.1,459.5h0M255.3,459.3h0M255.4,460.2h0M255.5,461.1h0M255.6,460.1h0M255.7,459.7h0M255.8,458.4h0M255.9,457.8h0M256,459.2h0M256.1,456.7h0M256.2,458.3h0M256.4,458.3h0M256.5,457.1h0M256.6,456.2h0M256.7,456.5h0M256.8,456.3h0M256.9,456.5h0M257,455.9h0M257.1,455.7h0M257.2,456.6h0M257.3,456.2h0M257.5,455.6h0M257.6,456.5h0M257.7,456.3h0M257.8,455.5h0M257.9,455.2h0M258,454.7h0M258.1,455.5h0M258.2,455.4h0M258.3,453.4h0M258.4,453.6h0M258.6,453h0M258.7,452.8h0M258.8,453h0M258.9,452.6h0M259,449.3h0M259.1,452.6h0M259.2,451.4h0M259.3,448.8h0M259.4,445.1h0M259.5,449.2h0M259.7,443.9h0M259.8,450.4h0M259.9,444.3h0M260,444.8h0M260.1,443.1h0M260.2,442h0M260.3,443.5h0M260.4,442.5h0M260.5,440.8h0M260.6,439.1h0M260.8,442.4h0M260.9,440.1h0M261,440.8h0M261.1,439.8h0M261.2,444.7h0M261.3,440.9h0M261.4,438.7h0M261.5,437.2h0M261.6,436h0M261.7,436.4h0M261.9,436.9h0M262,438h0M262.1,434.7h0M262.2,435h0M262.3,437.1h0M262.4,437.3h0M262.5,434.2h0M262.6,441.1h0M262.7,439.5h0M262.8,438.4h0M263,435.7h0M263.1,435.6h0M263.2,436.3h0M263.3,436.7h0M263.4,436.6h0M263.5,435.4h0M263.6,433.2h0M263.7,432.4h0M263.8,433.2h0M263.9,429h0M264.1,429.4h0M264.2,430.6h0M264.3,432.8h0M264.4,428.5h0M264.5,436.3h0M264.6,435.8h0M264.7,436.6h0M264.8,436.3h0M264.9,437.4h0M265,430.6h0M265.2,432.9h0M265.3,433.2h0M265.4,430h0M265.5,436.1h0M265.6,426.3h0M265.7,426.5h0M265.8,426.2h0M265.9,424.6h0M266,426.3h0M266.1,425h0M266.3,428.6h0M266.4,427.6h0M266.5,427.8h0M266.6,430.5h0M266.7,427.1h0M266.8,428.8h0M266.9,432h0M267,435.9h0M267.1,434.7h0M267.2,436.5h0M267.4,434.4h0M267.5,435.5h0M267.6,433.2h0M267.7,430.9h0M267.8,432.2h0M267.9,435.7h0M268,434.7h0M268.1,434.5h0M268.2,435.9h0M268.3,430.4h0M268.5,430.5h0M268.6,428.4h0M268.7,436.3h0M268.8,431h0M268.9,437.1h0M269,436.5h0M269.1,436.4h0M269.2,434.6h0M269.3,432h0M269.4,427.9h0M269.6,426h0M269.7,431.5h0M269.8,430.4h0M269.9,437h0M270,428h0M270.1,427.9h0M270.2,425.7h0M270.3,428.9h0M270.4,427h0M270.5,425.8h0M270.7,430.2h0M270.8,430.1h0M270.9,430.7h0M271,435.9h0M271.1,434.6h0M271.2,432.4h0M271.3,433.8h0M271.4,431h0M271.5,431.9h0M271.6,434.7h0M271.8,432.3h0M271.9,431.2h0M272,435.2h0M272.1,430.6h0M272.2,431.5h0M272.3,432.1h0M272.4,431.5h0M272.5,429.7h0M272.6,434.2h0M272.7,432.5h0M272.9,433.4h0M273,432.7h0M273.1,432.3h0M273.2,429.3h0M273.3,431.5h0M273.4,430.3h0M273.5,433.8h0M273.6,431.2h0M273.7,430.2h0M273.8,431.5h0M274,431.9h0M274.1,430.5h0M274.2,430.4h0M274.3,433.5h0M274.4,442.2h0M274.5,434.1h0M274.6,434.5h0M274.7,437.6h0M274.8,439.5h0M274.9,441.3h0M275.1,440.1h0M275.2,444.2h0M275.3,436.5h0M275.4,439.6h0M275.5,444.1h0M275.6,431.4h0M275.7,433.5h0M275.8,434.5h0M275.9,436.4h0M276,434.1h0M276.2,440.3h0M276.3,436.2h0M276.4,431.8h0M276.5,436.5h0M276.6,441.3h0M276.7,433.9h0M276.8,433.8h0M276.9,432.4h0M277,435.9h0M277.1,432.1h0M277.3,434.2h0M277.4,434.3h0M277.5,433.7h0M277.6,432.6h0M277.7,437.7h0M277.8,432.1h0M277.9,431.9h0M278,430.6h0M278.1,437.6h0M278.2,438.7h0M278.4,439.2h0M278.5,438.9h0M278.6,436.7h0M278.7,438.1h0M278.8,429.1h0M278.9,427.7h0M279,428.7h0M279.1,427.6h0M279.2,427.6h0M279.3,432.1h0M279.5,427.7h0M279.6,434.5h0M279.7,426.6h0M279.8,425.3h0M279.9,427.3h0M280,432.1h0M280.1,434.2h0M280.2,430.2h0M280.3,432.6h0M280.4,430.7h0M280.6,429.8h0M280.7,426.9h0M280.8,435.7h0M280.9,427.6h0M281,423.4h0M281.1,426.9h0M281.2,428.1h0M281.3,429.5h0M281.4,434.2h0M281.5,432.3h0M281.7,429.9h0M281.8,428.2h0M281.9,427.4h0M282,429.9h0M282.1,430.5h0M282.2,426.1h0M282.3,428.5h0M282.4,423.5h0M282.5,430.6h0M282.6,427.1h0M282.8,426.1h0M282.9,430.7h0M283,426.4h0M283.1,427.8h0M283.2,426.4h0M283.3,429h0M283.4,421.1h0M283.5,425.8h0M283.6,422.4h0M283.7,423.4h0M283.9,424h0M284,423h0M284.1,421.4h0M284.2,422.5h0M284.3,420.6h0M284.4,423.3h0M284.5,422.4h0M284.6,425.3h0M284.7,423.3h0M284.8,422.3h0M285,421.9h0M285.1,421.2h0M285.2,423.6h0M285.3,420.5h0M285.4,428.9h0M285.5,423.8h0M285.6,423.8h0M285.7,428.7h0M285.8,423.3h0M285.9,422.9h0M286.1,424.3h0M286.2,422.8h0M286.3,423h0M286.4,425.2h0M286.5,425.9h0M286.6,425.8h0M286.7,426.1h0M286.8,421.8h0M286.9,423.6h0M287,420.2h0M287.2,420.5h0M287.3,422h0M287.4,421.1h0M287.5,422.6h0M287.6,422.6h0M287.7,422.9h0M287.8,423.2h0M287.9,424.2h0M288,424h0M288.1,425.2h0M288.3,423.2h0M288.4,423.7h0M288.5,421.9h0M288.6,422.1h0M288.7,422.5h0M288.8,425.3h0M288.9,425.1h0M289,425h0M289.1,424.7h0M289.2,421.3h0M289.4,422.9h0M289.5,422.6h0M289.6,424.9h0M289.7,422.6h0M289.8,421.8h0M289.9,422.3h0M290,423.3h0M290.1,423.3h0M290.2,420.8h0M290.3,420.5h0M290.5,421h0M290.6,423.9h0M290.7,422.4h0M290.8,421.2h0M290.9,421.8h0M291,421h0M291.1,421.3h0M291.2,422.3h0M291.3,421.2h0M291.4,421.2h0M291.6,423.4h0M291.7,422.2h0M291.8,423.3h0M291.9,421.8h0M292,421h0M292.1,422.1h0M292.2,422.4h0M292.3,423.3h0M292.4,423.4h0M292.5,421.8h0M292.7,422.1h0M292.8,423.6h0M292.9,423.4h0M293,420.5h0M293.1,423.8h0M293.2,422.4h0M293.3,420.2h0M293.4,421.1h0M293.5,421.2h0M293.6,422h0M293.8,421.9h0M293.9,423.3h0M294,424.3h0M294.1,424.2h0M294.2,422.7h0M294.3,423.9h0M294.4,421.2h0M294.5,423.6h0M294.6,419h0M294.7,424.2h0M294.9,423.4h0M295,421.8h0M295.1,422h0M295.2,423.6h0M295.3,420.9h0M295.4,421.6h0M295.5,421h0M295.6,418.7h0M295.7,421.1h0M295.8,420.9h0M296,420.2h0M296.1,419.7h0M296.2,420.5h0M296.3,419.3h0M296.4,422.5h0M296.5,420.2h0M296.6,417.7h0M296.7,420h0M296.8,422.4h0M296.9,422.1h0M297.1,422h0M297.2,422.2h0M297.3,420h0M297.4,418.9h0M297.5,421.1h0M297.6,422.7h0M297.7,422.2h0M297.8,421.5h0M297.9,422.5h0M298,421.9h0M298.2,422.6h0M298.3,417.4h0M298.4,421.2h0M298.5,421.5h0M298.6,420.4h0M298.7,419h0M298.8,419.1h0M298.9,419.1h0M299,417.8h0M299.1,417.5h0M299.3,417.2h0M299.4,416.7h0M299.5,422.6h0M299.6,415.9h0M299.7,421h0M299.8,420.2h0M299.9,416.4h0M300,420h0M300.1,420h0M300.2,421.7h0M300.4,422.1h0M300.5,420h0M300.6,419.9h0M300.7,418.7h0M300.8,417.9h0M300.9,418.3h0M301,418.3h0M301.1,416.8h0M301.2,416.2h0M301.3,419.6h0M301.5,422.1h0M301.6,419.7h0M301.7,418.5h0M301.8,417.7h0M301.9,418.9h0M302,416.6h0M302.1,417.5h0M302.2,421.4h0M302.3,416.9h0M302.4,416.7h0M302.6,415.4h0M302.7,418.2h0M302.8,420.9h0M302.9,421h0M303,414.7h0M303.1,416.1h0M303.2,418h0M303.3,418.8h0M303.4,417.8h0M303.5,414.5h0M303.7,418.8h0M303.8,419.3h0M303.9,418.3h0M304,420.7h0M304.1,420.2h0M304.2,416.3h0M304.3,420.2h0M304.4,415.4h0M304.5,413.4h0M304.6,414.6h0M304.8,417.8h0M304.9,419.9h0M305,419.2h0M305.1,420.3h0M305.2,420.3h0M305.3,419.2h0M305.4,419.3h0M305.5,417h0M305.6,416.6h0M305.7,420.3h0M305.9,419.9h0M306,417h0M306.1,415h0M306.2,416.7h0M306.3,414.7h0M306.4,414.1h0M306.5,414h0M306.6,417.7h0M306.7,414.1h0M306.8,413.2h0M307,415.6h0M307.1,415.6h0M307.2,418.8h0M307.3,417.4h0M307.4,415.3h0M307.5,419.9h0M307.6,417.1h0M307.7,419.3h0M307.8,416.9h0M307.9,417.9h0M308.1,415.8h0M308.2,416.5h0M308.3,417.5h0M308.4,413h0M308.5,415.2h0M308.6,416.8h0M308.7,413h0M308.8,418.3h0M308.9,419.1h0M309,417.5h0M309.2,418.1h0M309.3,418.8h0M309.4,417.9h0M309.5,412.2h0M309.6,416.5h0M309.7,414.2h0M309.8,416.7h0M309.9,416.5h0M310,416.7h0M310.1,418.8h0M310.3,416.5h0M310.4,417.5h0M310.5,414.9h0M310.6,418.8h0M310.7,417.9h0M310.8,417.8h0M310.9,413.1h0M311,413.8h0M311.1,416.2h0M311.2,418.1h0M311.4,416.1h0M311.5,413.9h0M311.6,414.1h0M311.7,419.4h0M311.8,414.4h0M311.9,412.7h0M312,418.5h0M312.1,417.3h0M312.2,414.3h0M312.3,416.9h0M312.5,412.7h0M312.6,413.1h0M312.7,417.1h0M312.8,414.1h0M312.9,410.9h0M313,414.4h0M313.1,413.7h0M313.2,413.3h0M313.3,410.3h0M313.4,413.3h0M313.6,416.6h0M313.7,410.3h0M313.8,419h0M313.9,418.9h0M314,418.5h0M314.1,418.8h0M314.2,417.3h0M314.3,420h0M314.4,412.4h0M314.5,412.3h0M314.7,410.3h0M314.8,412.2h0M314.9,414h0M315,410.4h0M315.1,411.5h0M315.2,414.2h0M315.3,413.5h0M315.4,409.9h0M315.5,411.9h0M315.6,410.1h0M315.8,409.2h0M315.9,408.1h0M316,406.6h0M316.1,406.3h0M316.2,407.8h0M316.3,409.1h0M316.4,407.6h0M316.5,409.7h0M316.6,413h0M316.7,412.6h0M316.9,411.3h0M317,414.3h0M317.1,413.8h0M317.2,411h0M317.3,410.5h0M317.4,412h0M317.5,415.6h0M317.6,414.3h0M317.7,415.7h0M317.8,404.5h0M318,415.6h0M318.1,416h0M318.2,414.5h0M318.3,403.9h0M318.4,412.3h0M318.5,411.1h0M318.6,409.7h0M318.7,407.9h0M318.8,404.4h0M318.9,403.9h0M319.1,409.6h0M319.2,403h0M319.3,403.5h0M319.4,401.7h0M319.5,402h0M319.6,408.8h0M319.7,402.3h0M319.8,403.2h0M319.9,402.8h0M320,402.1h0M320.2,402.9h0M320.3,405.2h0M320.4,407.8h0M320.5,402.5h0M320.6,407.2h0M320.7,403.9h0M320.8,404.6h0M320.9,402.9h0M321,401.6h0M321.1,405.2h0M321.3,404.3h0M321.4,401.1h0M321.5,400.4h0M321.6,403.1h0M321.7,399.8h0M321.8,402.3h0M321.9,404h0M322,399.6h0M322.1,401.1h0M322.2,402.4h0M322.4,401.3h0M322.5,406.3h0M322.6,401.5h0M322.7,401h0M322.8,402.4h0M322.9,401.7h0M323,403.7h0M323.1,403h0M323.2,400.5h0M323.3,399.3h0M323.5,397.9h0M323.6,398.4h0M323.7,398.7h0M323.8,399.3h0M323.9,397.5h0M324,400h0M324.1,399.8h0M324.2,401.9h0M324.3,403.9h0M324.4,400.3h0M324.6,395.3h0M324.7,393.5h0M324.8,401.2h0M324.9,399.1h0M325,401h0M325.1,401.7h0M325.2,392.6h0M325.3,392.4h0M325.4,400h0M325.5,397.6h0M325.7,398.4h0M325.8,396.9h0M325.9,397.7h0M326,397h0M326.1,397.6h0M326.2,399.4h0M326.3,389.2h0M326.4,396.2h0M326.5,402.9h0M326.6,401h0M326.8,403h0M326.9,401.7h0M327,398.2h0M327.1,401.5h0M327.2,400.8h0M327.3,402.5h0M327.4,399.1h0M327.5,401h0M327.6,399.5h0M327.7,385.4h0M327.9,399.4h0M328,398.5h0M328.1,402.3h0M328.2,396.5h0M328.3,401.7h0M328.4,387.9h0M328.5,401.5h0M328.6,399.8h0M328.7,401.3h0M328.8,401.2h0M329,401.5h0M329.1,396.4h0M329.2,393h0M329.3,395.4h0M329.4,387.5h0M329.5,398.9h0M329.6,400h0M329.7,397.3h0M329.8,398.1h0M329.9,398.9h0M330.1,397.2h0M330.2,398.3h0M330.3,397.9h0M330.4,397.5h0M330.5,390.2h0M330.6,397.2h0M330.7,399.1h0M330.8,397.4h0M330.9,399.6h0M331,387.5h0M331.2,387.9h0M331.3,389.9h0M331.4,391.4h0M331.5,398.8h0M331.6,397.4h0M331.7,395.7h0M331.8,388.7h0M331.9,394.4h0M332,395.7h0M332.1,399.8h0M332.3,400.3h0M332.4,391.2h0M332.5,393.3h0M332.6,397.6h0M332.7,398.8h0M332.8,399.8h0M332.9,398.1h0M333,399.4h0M333.1,401h0M333.2,399.3h0M333.4,394.6h0M333.5,392.7h0M333.6,393.9h0M333.7,391.3h0M333.8,391h0M333.9,398.8h0M334,391.1h0M334.1,399.2h0M334.2,397.4h0M334.3,394h0M334.5,392h0M334.6,392.1h0M334.7,393.4h0M334.8,395.4h0M334.9,395.2h0M335,393.6h0M335.1,393.7h0M335.2,392.9h0M335.3,395.7h0M335.4,393.1h0M335.6,394.2h0M335.7,394.5h0M335.8,395.1h0M335.9,397.8h0M336,397.9h0M336.1,403.3h0M336.2,401.9h0M336.3,401.5h0M336.4,402h0M336.5,400.3h0M336.7,396.2h0M336.8,395h0M336.9,397.9h0M337,405.2h0M337.1,397h0M337.2,398.6h0M337.3,401h0M337.4,401.2h0M337.5,400.9h0M337.6,401.3h0M337.8,406.4h0M337.9,400.6h0M338,399.3h0M338.1,400.5h0M338.2,401h0M338.3,409h0M338.4,407.4h0M338.5,407.3h0M338.6,405.7h0M338.7,403h0M338.9,407.3h0M339,409.9h0M339.1,409.1h0M339.2,410.7h0M339.3,401h0M339.4,410.1h0M339.5,410.8h0M339.6,409h0M339.7,401.7h0M339.8,406.9h0M340,409.1h0M340.1,402.7h0M340.2,401.9h0M340.3,410.2h0M340.4,405.6h0M340.5,404.2h0M340.6,401.8h0M340.7,405.5h0M340.8,407.8h0M340.9,411.6h0M341.1,413.3h0M341.2,410.8h0M341.3,412.4h0M341.4,410.6h0M341.5,412.1h0M341.6,410.9h0M341.7,408.9h0M341.8,410.2h0M341.9,404.9h0M342,395.9h0M342.2,410.9h0M342.3,409.9h0M342.4,412.5h0M342.5,412.1h0M342.6,410.3h0M342.7,407.7h0M342.8,410.3h0M342.9,407.7h0M343,404.2h0M343.1,407.6h0M343.3,397.6h0M343.4,390.4h0M343.5,400.7h0M343.6,408h0M343.7,401.7h0M343.8,391.5h0M343.9,402.2h0M344,398.4h0M344.1,393.7h0M344.2,397.6h0M344.4,394.8h0M344.5,390.6h0M344.6,394h0M344.7,388.7h0M344.8,391.3h0M344.9,391.7h0M345,391.8h0M345.1,390.7h0M345.2,389.8h0M345.3,389h0M345.5,385.5h0M345.6,385h0M345.7,396.8h0M345.8,384.9h0M345.9,382.7h0M346,378.4h0M346.1,378.3h0M346.2,377.8h0M346.3,379.7h0M346.4,394.6h0M346.6,384.8h0M346.7,386.1h0M346.8,383.9h0M346.9,386h0M347,386.7h0M347.1,389.9h0M347.2,389.2h0M347.3,386.4h0M347.4,387.6h0M347.5,388.6h0M347.7,385.7h0M347.8,387.9h0M347.9,387.6h0M348,392.4h0M348.1,391.4h0M348.2,390.4h0M348.3,382.8h0M348.4,388.5h0M348.5,388.7h0M348.6,386.9h0M348.8,385.4h0M348.9,384.4h0M349,385.2h0M349.1,380.2h0M349.2,380.4h0M349.3,384.1h0M349.4,381.3h0M349.5,381.2h0M349.6,378.2h0M349.7,379.8h0M349.9,380.2h0M350,382.1h0M350.1,387.5h0M350.2,378.8h0M350.3,379h0M350.4,378.7h0M350.5,380.5h0M350.6,383h0M350.7,368.8h0M350.8,382.3h0M351,379.7h0M351.1,377.3h0M351.2,388.3h0M351.3,382.5h0M351.4,374.5h0M351.5,382.7h0M351.6,381.1h0M351.7,381.8h0M351.8,379.5h0M351.9,381.7h0M352.1,380.3h0M352.2,378.3h0M352.3,379.3h0M352.4,379h0M352.5,380.7h0M352.6,379.7h0M352.7,381.1h0M352.8,375.6h0M352.9,380.4h0M353,372.5h0M353.2,386.4h0M353.3,385.7h0M353.4,381.5h0M353.5,381.3h0M353.6,384.2h0M353.7,379.4h0M353.8,374.7h0M353.9,378.3h0M354,373.2h0M354.1,374.1h0M354.3,375.3h0M354.4,384.4h0M354.5,388.8h0M354.6,382h0M354.7,382.3h0M354.8,375.6h0M354.9,373.4h0M355,373h0M355.1,375.1h0M355.2,376.2h0M355.4,378.3h0M355.5,373.7h0M355.6,380.3h0M355.7,383.1h0M355.8,381.8h0M355.9,380.9h0M356,379.2h0M356.1,378.5h0M356.2,384h0M356.3,384.7h0M356.5,382.6h0M356.6,382.3h0M356.7,385h0M356.8,382.3h0M356.9,377.8h0M357,379h0M357.1,371.4h0M357.2,378.6h0M357.3,375.6h0M357.4,378.7h0M357.6,376.9h0M357.7,379.5h0M357.8,379.3h0M357.9,377.6h0M358,374.1h0M358.1,374.3h0M358.2,378.2h0M358.3,378.4h0M358.4,384.3h0M358.5,374.8h0M358.7,379h0M358.8,375.8h0M358.9,375.3h0M359,373.7h0M359.1,375.1h0M359.2,377.1h0M359.3,376.3h0M359.4,378.5h0M359.5,378.6h0M359.6,377.2h0M359.8,380.1h0M359.9,375.4h0M360,377h0M360.1,373.6h0M360.2,374.4h0M360.3,374.9h0M360.4,381.7h0M360.5,383.8h0M360.6,378h0M360.7,374.8h0M360.9,372.9h0M361,379.8h0M361.1,371.3h0M361.2,372.6h0M361.3,377.9h0M361.4,371.2h0M361.5,374h0M361.6,375.5h0M361.7,374.9h0M361.8,374.8h0M362,373.4h0M362.1,373.6h0M362.2,371.7h0M362.3,374.3h0M362.4,376.3h0M362.5,375.9h0M362.6,373.4h0M362.7,373.8h0M362.8,372.4h0M362.9,377.8h0M363.1,375.4h0M363.2,383.1h0M363.3,377.6h0M363.4,377.7h0M363.5,381.7h0M363.6,378.2h0M363.7,379.3h0M363.8,372.1h0M363.9,377h0M364,376.1h0M364.2,372.1h0M364.3,376.9h0M364.4,378.9h0M364.5,382.1h0M364.6,373.7h0M364.7,372h0M364.8,372h0M364.9,371.5h0M365,374.2h0M365.1,373.6h0M365.3,372.2h0M365.4,373.1h0M365.5,373.6h0M365.6,370.7h0M365.7,370.7h0M365.8,373h0M365.9,372.2h0M366,370.6h0M366.1,372.2h0M366.2,373.1h0M366.4,373.1h0M366.5,371.5h0M366.6,375.7h0M366.7,373.7h0M366.8,381.1h0M366.9,380.7h0M367,383.2h0M367.1,383.6h0M367.2,381.6h0M367.3,383.9h0M367.5,383.7h0M367.6,384.9h0M367.7,383.8h0M367.8,371.8h0M367.9,383.1h0M368,383.3h0M368.1,381.5h0M368.2,374.1h0M368.3,383.2h0M368.4,384.6h0M368.6,383.7h0M368.7,371.1h0M368.8,381.8h0M368.9,386.3h0M369,377.2h0M369.1,387.3h0M369.2,383.7h0M369.3,385h0M369.4,381.7h0M369.5,380.9h0M369.7,381.1h0M369.8,382.5h0M369.9,384.9h0M370,387.6h0M370.1,384.9h0M370.2,385.7h0M370.3,385.7h0M370.4,381.9h0M370.5,380.6h0M370.6,380.4h0M370.8,376.4h0M370.9,378.9h0M371,384.8h0M371.1,382.1h0M371.2,378.4h0M371.3,375.8h0M371.4,375.8h0M371.5,379h0M371.6,375.1h0M371.7,376.6h0M371.9,376.2h0M372,390.7h0M372.1,381.6h0M372.2,381.2h0M372.3,378.8h0M372.4,380.8h0M372.5,382.3h0M372.6,384.1h0M372.7,384h0M372.8,380.4h0M373,395.8h0M373.1,380.5h0M373.2,382.4h0M373.3,380.2h0M373.4,387.9h0M373.5,391.2h0M373.6,387.6h0M373.7,397.2h0M373.8,386.2h0M373.9,381.4h0M374.1,387.1h0M374.2,388.3h0M374.3,385.2h0M374.4,382.4h0M374.5,386.7h0M374.6,384h0M374.7,381.9h0M374.8,384.9h0M374.9,388.3h0M375,389.5h0M375.2,395.2h0M375.3,394.7h0M375.4,394.6h0M375.5,398h0M375.6,394.3h0M375.7,398.2h0M375.8,396h0M375.9,398.8h0M376,383.9h0M376.1,396.4h0M376.3,384.1h0M376.4,394.6h0M376.5,393.1h0M376.6,386.7h0M376.7,391.8h0M376.8,396.2h0M376.9,397h0M377,396.9h0M377.1,396.6h0M377.2,395.8h0M377.4,395.6h0M377.5,396.2h0M377.6,388.5h0M377.7,383h0M377.8,395.7h0M377.9,392.6h0M378,393.6h0M378.1,389.5h0M378.2,390h0M378.3,391.1h0M378.5,388.6h0M378.6,392.9h0M378.7,389.3h0M378.8,392h0M378.9,392.4h0M379,385.3h0M379.1,391.8h0M379.2,392.7h0M379.3,388.7h0M379.4,389.5h0M379.6,386.3h0M379.7,386.4h0M379.8,390.8h0M379.9,390.3h0M380,389.9h0M380.1,390.2h0M380.2,388.3h0M380.3,386.9h0M380.4,384.7h0M380.5,386h0M380.7,386.3h0M380.8,381.2h0M380.9,381.3h0M381,380.8h0M381.1,384.4h0M381.2,383.1h0M381.3,383.3h0M381.4,385.1h0M381.5,384.6h0M381.6,376.8h0M381.8,379.6h0M381.9,377.4h0M382,376.8h0M382.1,374.4h0M382.2,373.5h0M382.3,374.6h0M382.4,380.4h0M382.5,381.9h0M382.6,382.4h0M382.7,379h0M382.9,377.9h0M383,378.9h0M383.1,379.3h0M383.2,378h0M383.3,377h0M383.4,380.8h0M383.5,382.4h0M383.6,381.4h0M383.7,382.5h0M383.8,380h0M384,380.9h0M384.1,382.4h0M384.2,377.7h0M384.3,378.2h0M384.4,376.1h0M384.5,376.2h0M384.6,376.3h0M384.7,377.2h0M384.8,375.2h0M384.9,381.7h0M385.1,377.6h0M385.2,377.5h0M385.3,376.8h0M385.4,379.9h0M385.5,383.5h0M385.6,382.3h0M385.7,380.7h0M385.8,377.7h0M385.9,379.2h0M386,378.5h0M386.2,378.6h0M386.3,380.2h0M386.4,379.6h0M386.5,382.8h0M386.6,380.4h0M386.7,381.9h0M386.8,380.6h0M386.9,379.4h0M387,380h0M387.1,381.3h0M387.3,381.8h0M387.4,379.4h0M387.5,379.7h0M387.6,389.5h0M387.7,380.2h0M387.8,384h0M387.9,388.4h0M388,392.2h0M388.1,391.6h0M388.2,390.3h0M388.4,390.7h0M388.5,392.2h0M388.6,387.7h0M388.7,386.6h0M388.8,398.9h0M388.9,384.9h0M389,387.2h0M389.1,385.9h0M389.2,387.4h0M389.3,387.6h0M389.5,387.2h0M389.6,384.4h0M389.7,386.3h0M389.8,392.5h0M389.9,385.5h0M390,385.9h0M390.1,388.3h0M390.2,387.7h0M390.3,398.8h0M390.4,387.8h0M390.6,389.7h0M390.7,393.9h0M390.8,392.8h0M390.9,395.8h0M391,395.3h0M391.1,398h0M391.2,391.4h0M391.3,391.4h0M391.4,395h0M391.5,399h0M391.7,398.1h0M391.8,396.3h0M391.9,397.5h0M392,394.8h0M392.1,401.1h0M392.2,403.7h0M392.3,395.2h0M392.4,395.2h0M392.5,399.1h0M392.6,396.1h0M392.8,398.4h0M392.9,398.2h0M393,395.5h0M393.1,395.6h0M393.2,394.6h0M393.3,395.6h0M393.4,403.1h0M393.5,393.2h0M393.6,394.1h0M393.7,395.9h0M393.9,405.6h0M394,397.8h0M394.1,396.2h0M394.2,403.7h0M394.3,404.2h0M394.4,405.6h0M394.5,406h0M394.6,404h0M394.7,401.6h0M394.8,399.7h0M395,395.1h0M395.1,396.5h0M395.2,395h0M395.3,396.8h0M395.4,398.3h0M395.5,395.4h0M395.6,401.2h0M395.7,397.5h0M395.8,402h0M395.9,399h0M396.1,398.9h0M396.2,400.1h0M396.3,401.3h0M396.4,398.8h0M396.5,406.6h0M396.6,393.9h0M396.7,396.3h0M396.8,404h0M396.9,399.9h0M397,405h0M397.2,394h0M397.3,392.9h0M397.4,393.5h0M397.5,396.6h0M397.6,396.1h0M397.7,393.5h0M397.8,393.4h0M397.9,394.9h0M398,397.9h0M398.1,394.7h0M398.3,399.8h0M398.4,405.2h0M398.5,404.1h0M398.6,394.4h0M398.7,394.6h0M398.8,401.8h0M398.9,402h0M399,396.5h0M399.1,395h0M399.2,401.5h0M399.4,394h0M399.5,394.6h0M399.6,396.5h0M399.7,404.7h0M399.8,394.7h0M399.9,395.6h0M400,403.1h0M400.1,395.9h0M400.2,396.4h0M400.3,395.5h0M400.5,400.3h0M400.6,400.5h0M400.7,399.5h0M400.8,394.8h0M400.9,396h0M401,394.4h0M401.1,395.1h0M401.2,403.4h0M401.3,395.6h0M401.4,405.2h0M401.6,395h0M401.7,396.2h0M401.8,398.1h0M401.9,403.9h0M402,395.5h0M402.1,394h0M402.2,396.7h0M402.3,400h0M402.4,394.7h0M402.5,400.2h0M402.7,397.6h0M402.8,399.8h0M402.9,398.5h0M403,397.9h0M403.1,399.3h0M403.2,399.2h0M403.3,402.1h0M403.4,401.1h0M403.5,401h0M403.6,405.4h0M403.8,407.6h0M403.9,404.9h0M404,406.5h0M404.1,400h0M404.2,402.6h0M404.3,400.7h0M404.4,402.1h0M404.5,407.3h0M404.6,407.9h0M404.7,407.7h0M404.9,401.9h0M405,403.6h0M405.1,400.2h0M405.2,399.4h0M405.3,405.3h0M405.4,405.5h0M405.5,402.2h0M405.6,398.2h0M405.7,402.8h0M405.8,402.6h0M406,408.9h0M406.1,402h0M406.2,402.7h0M406.3,404.8h0M406.4,406.1h0M406.5,407.1h0M406.6,406.8h0M406.7,404.4h0M406.8,405.6h0M406.9,404.6h0M407.1,402h0M407.2,404h0M407.3,400h0M407.4,398.6h0M407.5,400.4h0M407.6,409.4h0M407.7,402.1h0M407.8,398.6h0M407.9,403h0M408,403.5h0M408.2,400.8h0M408.3,406.7h0M408.4,402.1h0M408.5,402.3h0M408.6,404.8h0M408.7,405.5h0M408.8,404.3h0M408.9,397.3h0M409,407h0M409.1,405.3h0M409.3,404.7h0M409.4,399.4h0M409.5,403.8h0M409.6,400.9h0M409.7,400.6h0M409.8,404h0M409.9,402.3h0M410,400.4h0M410.1,401h0M410.2,401.2h0M410.4,400h0M410.5,400.4h0M410.6,406.8h0M410.7,401.4h0M410.8,404.4h0M410.9,407.4h0M411,402.3h0M411.1,400.3h0M411.2,400.9h0M411.3,402.1h0M411.5,400.7h0M411.6,401.2h0M411.7,404.5h0M411.8,407.3h0M411.9,406.7h0M412,401.5h0M412.1,408.1h0M412.2,405.9h0M412.3,402.4h0M412.4,400.6h0M412.6,399.7h0M412.7,405.5h0M412.8,407.6h0M412.9,399.8h0M413,399.7h0M413.1,400.7h0M413.2,401.4h0M413.3,403h0M413.4,402.3h0M413.5,401.6h0M413.7,403.2h0M413.8,405.7h0M413.9,400.5h0M414,400h0M414.1,406.9h0M414.2,404.7h0M414.3,406.1h0M414.4,407.1h0M414.5,405.8h0M414.6,401.8h0M414.8,408.9h0M414.9,407.2h0M415,408.3h0M415.1,405.6h0M415.2,406h0M415.3,404.1h0M415.4,401.5h0M415.5,401.9h0M415.6,404.9h0M415.7,405.8h0M415.9,404.2h0M416,407.5h0M416.1,403h0M416.2,409.8h0M416.3,409.9h0M416.4,407.1h0M416.5,400.8h0M416.6,409.3h0M416.7,406.2h0M416.8,410.2h0M417,409.7h0M417.1,404.3h0M417.2,410.5h0M417.3,410.8h0M417.4,399.9h0M417.5,406.4h0M417.6,411.2h0M417.7,404h0M417.8,406.2h0M417.9,404.1h0M418.1,403.6h0M418.2,406.6h0M418.3,409.1h0M418.4,406.6h0M418.5,403.8h0M418.6,407.2h0M418.7,407.6h0M418.8,405.8h0M418.9,398.9h0M419,409.2h0M419.2,401.2h0M419.3,405.9h0M419.4,403.5h0M419.5,409.9h0M419.6,409.4h0M419.7,402.1h0M419.8,407.6h0M419.9,398.3h0M420,396.9h0M420.1,397.8h0M420.3,401.8h0M420.4,398.5h0M420.5,396.2h0M420.6,398h0M420.7,401.7h0M420.8,399.4h0M420.9,402.4h0M421,402.1h0M421.1,403.6h0M421.2,402.2h0M421.4,403.3h0M421.5,404.1h0M421.6,402.4h0M421.7,398.4h0M421.8,394.9h0M421.9,392.2h0M422,393.1h0M422.1,403.1h0M422.2,391.3h0M422.3,393.3h0M422.5,393.5h0M422.6,393.2h0M422.7,394.7h0M422.8,395.6h0M422.9,388.8h0M423,394.3h0M423.1,388.8h0M423.2,391.8h0M423.3,390.9h0M423.4,391.5h0M423.6,387.1h0M423.7,400.6h0M423.8,400.2h0M423.9,386.1h0M424,383.9h0M424.1,392.2h0M424.2,383.5h0M424.3,381.9h0M424.4,382.5h0M424.5,390h0M424.7,391.3h0M424.8,383.3h0M424.9,383.1h0M425,385.8h0M425.1,378h0M425.2,393.1h0M425.3,378.8h0M425.4,382.3h0M425.5,379.6h0M425.6,375.8h0M425.8,375.7h0M425.9,377.5h0M426,373.9h0M426.1,373.2h0M426.2,369.5h0M426.3,384.2h0M426.4,374.4h0M426.5,374.5h0M426.6,373.6h0M426.7,387.6h0M426.9,374h0M427,373.4h0M427.1,370.3h0M427.2,367.2h0M427.3,371.7h0M427.4,369.6h0M427.5,390.3h0M427.6,370.2h0M427.7,373h0M427.8,374.4h0M428,373.7h0M428.1,378.5h0M428.2,376.4h0M428.3,376h0M428.4,374.1h0M428.5,372.5h0M428.6,371.9h0M428.7,382.3h0M428.8,369.4h0M428.9,373.5h0M429.1,369.6h0M429.2,369.6h0M429.3,369.7h0M429.4,369.3h0M429.5,385.7h0M429.6,374.2h0M429.7,378.7h0M429.8,376.3h0M429.9,378.1h0M430,379.5h0M430.2,373.3h0M430.3,376.7h0M430.4,377.2h0M430.5,376.7h0M430.6,374.7h0M430.7,373.4h0M430.8,372.8h0M430.9,374h0M431,385.8h0M431.1,374.5h0M431.3,377.6h0M431.4,378.6h0M431.5,372.2h0M431.6,381.7h0M431.7,381.8h0M431.8,374.3h0M431.9,381.3h0M432,380.6h0M432.1,380.2h0M432.2,375.5h0M432.4,374.7h0M432.5,376.3h0M432.6,380.2h0M432.7,370.6h0M432.8,371.9h0M432.9,374.8h0M433,374.5h0M433.1,375.7h0M433.2,379.9h0M433.3,383h0M433.5,383.5h0M433.6,380.5h0M433.7,383h0M433.8,383.5h0M433.9,382.2h0M434,387.1h0M434.1,386.2h0M434.2,382h0M434.3,381.4h0M434.4,380.9h0M434.6,375.8h0M434.7,380.3h0M434.8,384.5h0M434.9,384.8h0M435,387.7h0M435.1,376.5h0M435.2,387.2h0M435.3,387.7h0M435.4,383.3h0M435.5,379.5h0M435.7,381.8h0M435.8,373h0M435.9,380.1h0M436,384.2h0M436.1,377.9h0M436.2,380.4h0M436.3,388.2h0M436.4,388.1h0M436.5,386.4h0M436.6,376.1h0M436.8,385.1h0M436.9,385.2h0M437,378.9h0M437.1,386.9h0M437.2,386.8h0M437.3,373.4h0M437.4,374h0M437.5,379.8h0M437.6,386.8h0M437.7,383.8h0M437.9,381.1h0M438,377.2h0M438.1,386.4h0M438.2,380.9h0M438.3,379.7h0M438.4,377.4h0M438.5,378.2h0M438.6,377.9h0M438.7,387.1h0M438.8,383.2h0M439,373.9h0M439.1,385.2h0M439.2,382.2h0M439.3,375.2h0M439.4,378.4h0M439.5,374h0M439.6,375.6h0M439.7,375.8h0M439.8,375.4h0M439.9,376.4h0M440.1,373.2h0M440.2,373.8h0M440.3,375.3h0M440.4,377.7h0M440.5,379.8h0M440.6,382.5h0M440.7,383.2h0M440.8,384.3h0M440.9,386h0M441,389.8h0M441.2,390.1h0M441.3,388h0M441.4,382.6h0M441.5,386.4h0M441.6,386.6h0M441.7,389.5h0M441.8,388.9h0M441.9,387.9h0M442,389.9h0M442.1,390.1h0M442.3,386.7h0M442.4,387.5h0M442.5,375.6h0M442.6,389.6h0M442.7,388.9h0M442.8,386.3h0M442.9,386.7h0M443,386h0M443.1,384h0M443.2,374.5h0M443.4,383.9h0M443.5,382.6h0M443.6,378.4h0M443.7,379.1h0M443.8,381.3h0M443.9,382.9h0M444,387.6h0M444.1,387.3h0M444.2,389.9h0M444.3,388.4h0M444.5,387.4h0M444.6,388.7h0M444.7,385.4h0M444.8,385.7h0M444.9,386.5h0M445,378.2h0M445.1,389.1h0M445.2,390.2h0M445.3,388.7h0M445.4,378.1h0M445.6,379.2h0M445.7,385.8h0M445.8,391.2h0M445.9,383.4h0M446,391.1h0M446.1,381.5h0M446.2,391.8h0M446.3,386.2h0M446.4,388.6h0M446.5,388.6h0M446.7,392.6h0M446.8,390.6h0M446.9,384.2h0M447,393.1h0M447.1,391.3h0M447.2,382.6h0M447.3,384.1h0M447.4,387.4h0M447.5,382.4h0M447.6,381.8h0M447.8,386.1h0M447.9,393h0M448,387.6h0M448.1,391.2h0M448.2,393.5h0M448.3,394.4h0M448.4,392.6h0M448.5,392.1h0M448.6,391.5h0M448.7,389.5h0M448.9,386h0M449,385.8h0M449.1,391h0M449.2,392.7h0M449.3,392.7h0M449.4,397.2h0M449.5,393.2h0M449.6,386.8h0M449.7,387.7h0M449.8,389.5h0M450,389.3h0M450.1,388.3h0M450.2,388.9h0M450.3,389.3h0M450.4,395.3h0M450.5,391.2h0M450.6,390.3h0M450.7,391.3h0M450.8,390h0M450.9,397.3h0M451.1,389h0M451.2,391.1h0M451.3,392.3h0M451.4,393.1h0M451.5,391.1h0M451.6,392.8h0M451.7,390.5h0M451.8,394.3h0M451.9,396.7h0M452,394h0M452.2,395.7h0M452.3,395.3h0M452.4,393h0M452.5,393.4h0M452.6,402.5h0M452.7,404.4h0M452.8,392.1h0M452.9,390.6h0M453,395.3h0M453.1,391.2h0M453.3,401.5h0M453.4,401.2h0M453.5,401h0M453.6,402.7h0M453.7,401.9h0M453.8,400.7h0M453.9,397.9h0M454,401.3h0M454.1,395.3h0M454.2,398.8h0M454.4,397.3h0M454.5,403h0M454.6,396.5h0M454.7,396.5h0M454.8,397h0M454.9,400.2h0M455,397.2h0M455.1,397.9h0M455.2,397.3h0M455.3,395.3h0M455.5,399.1h0M455.6,400.6h0M455.7,399.7h0M455.8,400.9h0M455.9,400.9h0M456,403.6h0M456.1,395.6h0M456.2,403.7h0M456.3,396.4h0M456.4,397.6h0M456.6,391.8h0M456.7,401.7h0M456.8,402h0M456.9,404.3h0M457,402.9h0M457.1,392.1h0M457.2,394.2h0M457.3,393.1h0M457.4,402.9h0M457.5,403.1h0M457.7,400.5h0M457.8,396.2h0M457.9,401.3h0M458,400.4h0M458.1,397.1h0M458.2,394h0M458.3,392.2h0M458.4,399.7h0M458.5,388.9h0M458.6,392.5h0M458.8,395.3h0M458.9,395.9h0M459,398.3h0M459.1,398.4h0M459.2,397.9h0M459.3,396.6h0M459.4,394.7h0M459.5,396.6h0M459.6,397.9h0M459.7,388.9h0M459.9,395.6h0M460,391.1h0M460.1,395.3h0M460.2,398.3h0M460.3,397.5h0M460.4,398h0M460.5,396.1h0M460.6,397.2h0M460.7,398.2h0M460.8,395.9h0M461,388.3h0M461.1,394.4h0M461.2,396.6h0M461.3,396.1h0M461.4,389.8h0M461.5,393.6h0M461.6,395.9h0M461.7,397.1h0M461.8,394.4h0M461.9,393.5h0M462.1,395.5h0M462.2,397h0M462.3,394h0M462.4,393.9h0M462.5,393.2h0M462.6,392.7h0M462.7,393.5h0M462.8,394.4h0M462.9,391h0M463,391.9h0M463.2,391.8h0M463.3,389.3h0M463.4,395.2h0M463.5,388.3h0M463.6,386.7h0M463.7,388.5h0M463.8,387.7h0M463.9,387.9h0M464,389.5h0M464.1,390h0M464.3,390.9h0M464.4,393.3h0M464.5,391.6h0M464.6,393.8h0M464.7,389.2h0M464.8,387.4h0M464.9,388.1h0M465,387.7h0M465.1,390.8h0M465.2,392.7h0M465.4,392.9h0M465.5,390.3h0M465.6,390.1h0M465.7,390h0M465.8,387.9h0M465.9,389.1h0M466,391.6h0M466.1,390h0M466.2,388.3h0M466.3,390.1h0M466.5,389.7h0M466.6,387.3h0M466.7,385.8h0M466.8,389.4h0M466.9,388h0M467,392.6h0M467.1,390.4h0M467.2,392.5h0M467.3,388.4h0M467.4,388.2h0M467.6,388.1h0M467.7,388.6h0M467.8,386.5h0M467.9,390h0M468,388.2h0M468.1,389.9h0M468.2,390.4h0M468.3,387.9h0M468.4,388.2h0M468.5,391h0M468.7,386.4h0M468.8,390h0M468.9,388.9h0M469,392.2h0M469.1,392.3h0M469.2,390.2h0M469.3,384.4h0M469.4,391.4h0M469.5,388.2h0M469.6,388.5h0M469.8,390.1h0M469.9,392.3h0M470,393.4h0M470.1,393.5h0M470.2,388.3h0M470.3,388.7h0M470.4,393.2h0M470.5,388.9h0M470.6,392.9h0M470.7,385.8h0M470.9,384.8h0M471,389.6h0M471.1,387.2h0M471.2,394.1h0M471.3,390.6h0M471.4,386.2h0M471.5,394.1h0M471.6,392.3h0M471.7,388.1h0M471.8,391.7h0M472,393h0M472.1,389.9h0M472.2,388.9h0M472.3,387.3h0M472.4,387.5h0M472.5,385.8h0M472.6,387.2h0M472.7,390h0M472.8,394h0M472.9,393.7h0M473.1,391.3h0M473.2,391.2h0M473.3,388.6h0M473.4,390.3h0M473.5,386.3h0M473.6,387.9h0M473.7,385.3h0M473.8,390.8h0M473.9,388.3h0M474,385.2h0M474.2,387.8h0M474.3,389.1h0M474.4,389h0M474.5,389.2h0M474.6,388h0M474.7,384h0M474.8,387.3h0M474.9,385.8h0M475,384.3h0M475.1,383.9h0M475.3,383.7h0M475.4,380.4h0M475.5,387.5h0M475.6,380.8h0M475.7,379.9h0M475.8,379.2h0M475.9,378.6h0M476,387.3h0M476.1,385.4h0M476.2,387.6h0M476.4,387h0M476.5,388h0M476.6,387.9h0M476.7,387.5h0M476.8,387.8h0M476.9,388.2h0M477,384.7h0M477.1,382.9h0M477.2,376.7h0M477.3,382.7h0M477.5,382h0M477.6,379.6h0M477.7,376.5h0M477.8,376.2h0M477.9,373h0M478,370.8h0M478.1,370.2h0M478.2,370.2h0M478.3,370.4h0M478.4,371.7h0M478.6,381.3h0M478.7,373.6h0M478.8,372.3h0M478.9,371h0M479,368.5h0M479.1,370.4h0M479.2,373.8h0M479.3,369h0M479.4,366.9h0M479.5,366.7h0M479.7,366h0M479.8,369.4h0M479.9,378.1h0M480,376.1h0M480.1,370.6h0M480.2,368.4h0M480.3,367.6h0M480.4,370.7h0M480.5,366h0M480.6,365.4h0M480.8,362.4h0M480.9,366.4h0M481,367.1h0M481.1,365.1h0M481.2,361.3h0M481.3,363.8h0M481.4,362.6h0M481.5,364.1h0M481.6,364h0M481.7,367.6h0M481.9,367.6h0M482,367.8h0M482.1,368.1h0M482.2,365.2h0M482.3,363.2h0M482.4,362.2h0M482.5,361.2h0M482.6,365.6h0M482.7,373.3h0M482.8,363.7h0M483,370.9h0M483.1,364.4h0M483.2,364.2h0M483.3,362.8h0M483.4,367.4h0M483.5,362.4h0M483.6,359.8h0M483.7,363.2h0M483.8,364.4h0M483.9,362.4h0M484.1,360.1h0M484.2,359.3h0M484.3,365.5h0M484.4,360.1h0M484.5,364h0M484.6,364.4h0M484.7,362.8h0M484.8,366.2h0M484.9,366.8h0M485,357.8h0M485.2,370.3h0M485.3,371.5h0M485.4,372.6h0M485.5,373.3h0M485.6,372h0M485.7,370.1h0M485.8,359.6h0M485.9,370.1h0M486,362.6h0M486.1,372.3h0M486.3,371.5h0M486.4,371.7h0M486.5,371.1h0M486.6,357.4h0M486.7,372.9h0M486.8,371.3h0M486.9,374.8h0M487,375.1h0M487.1,373.1h0M487.2,372.4h0M487.4,369.1h0M487.5,366.2h0M487.6,365.1h0M487.7,361h0M487.8,365h0M487.9,366.3h0M488,363.5h0M488.1,364.4h0M488.2,373.5h0M488.3,377.7h0M488.5,367.1h0M488.6,370.5h0M488.7,360.2h0M488.8,374.8h0M488.9,380.5h0M489,381.4h0M489.1,378.6h0M489.2,380.7h0M489.3,378.7h0M489.4,377.2h0M489.6,379h0M489.7,375.5h0M489.8,375.8h0M489.9,377.3h0M490,376.5h0M490.1,372.6h0M490.2,371.3h0M490.3,380.5h0M490.4,384.1h0M490.5,375.4h0M490.7,380.8h0M490.8,377.8h0M490.9,379.4h0M491,382.8h0M491.1,381.1h0M491.2,380h0M491.3,378.2h0M491.4,378.6h0M491.5,376.8h0M491.6,383.8h0M491.8,376.9h0M491.9,382.2h0M492,378.6h0M492.1,376.9h0M492.2,375h0M492.3,379.8h0M492.4,383.4h0M492.5,383.6h0M492.6,387h0M492.7,386.6h0M492.9,377.7h0M493,387.2h0M493.1,388h0M493.2,387.9h0M493.3,388.7h0M493.4,385.6h0M493.5,386.1h0M493.6,384.5h0M493.7,383.6h0M493.8,380h0M494,379.6h0M494.1,378.3h0M494.2,380.4h0M494.3,386.8h0M494.4,376.2h0M494.5,370.7h0M494.6,369.5h0M494.7,377.6h0M494.8,370.8h0M494.9,367.9h0M495.1,380.5h0M495.2,370.3h0M495.3,368.4h0M495.4,376.2h0M495.5,371.6h0M495.6,370.9h0M495.7,374.7h0M495.8,374h0M495.9,376.7h0M496,377.2h0M496.2,377.4h0M496.3,380h0M496.4,381.3h0M496.5,381.5h0M496.6,390.9h0M496.7,391.3h0M496.8,382.6h0M496.9,382h0M497,379.7h0M497.1,373.7h0M497.3,375.2h0M497.4,384.9h0M497.5,376.4h0M497.6,377.7h0M497.7,382.9h0M497.8,385h0M497.9,379.5h0M498,383.1h0M498.1,385.2h0M498.2,384h0M498.4,389.4h0M498.5,380.8h0M498.6,388.7h0M498.7,391.5h0M498.8,388.5h0M498.9,388.7h0M499,391.6h0M499.1,393.2h0M499.2,389.1h0M499.3,390.2h0M499.5,384.8h0M499.6,396.2h0M499.7,387.2h0M499.8,387h0M499.9,389.7h0M500,386.9h0M500.1,388.3h0M500.2,390h0M500.3,387.2h0M500.4,385.2h0M500.6,388.6h0M500.7,390.7h0M500.8,386.8h0M500.9,388.2h0M501,388h0M501.1,387.3h0M501.2,386.7h0M501.3,389.2h0M501.4,395.5h0M501.5,390.2h0M501.7,387.6h0M501.8,388h0M501.9,389.3h0M502,389.2h0M502.1,382.5h0M502.2,380.8h0M502.3,394.2h0M502.4,393.7h0M502.5,391h0M502.6,386.8h0M502.8,388.9h0M502.9,389.4h0M503,389.9h0M503.1,389.8h0M503.2,390.2h0M503.3,390.2h0M503.4,392.1h0M503.5,393.8h0M503.6,393.7h0M503.7,390h0M503.9,393.5h0M504,383.8h0M504.1,390.3h0M504.2,385.2h0M504.3,395.1h0M504.4,390.5h0M504.5,386.7h0M504.6,389.4h0M504.7,389.5h0M504.8,394.9h0M505,390.7h0M505.1,398.1h0M505.2,388.3h0M505.3,396.8h0M505.4,398.3h0M505.5,393.9h0M505.6,394.8h0M505.7,397.8h0M505.8,396.7h0M505.9,397.7h0M506.1,399.2h0M506.2,397.1h0M506.3,395.2h0M506.4,389.4h0M506.5,397.2h0M506.6,396h0M506.7,397.6h0M506.8,396.4h0M506.9,394.8h0M507,396.1h0M507.2,394.9h0M507.3,391.8h0M507.4,390.9h0M507.5,383h0M507.6,383h0M507.7,395.8h0M507.8,394.2h0M507.9,386.4h0M508,389.2h0M508.1,382.7h0M508.3,382.3h0M508.4,393.3h0M508.5,389.7h0M508.6,392.6h0M508.7,395.3h0M508.8,393.9h0M508.9,397.6h0M509,397.6h0M509.1,398.3h0M509.2,396h0M509.4,395h0M509.5,393.2h0M509.6,389.2h0M509.7,390h0M509.8,394.6h0M509.9,393.3h0M510,387.2h0M510.1,395.4h0M510.2,385.9h0M510.3,396.2h0M510.5,390.4h0M510.6,398.9h0M510.7,391.1h0M510.8,399.1h0M510.9,400.4h0M511,399.3h0M511.1,386.2h0M511.2,401.6h0M511.3,398h0M511.4,398.8h0M511.6,401.2h0M511.7,393.6h0M511.8,399h0M511.9,398.9h0M512,398.6h0M512.1,399.4h0M512.2,398.6h0M512.3,400.2h0M512.4,400.2h0M512.5,396.6h0M512.7,395.6h0M512.8,393.6h0M512.9,390.7h0M513,390.2h0M513.1,391.6h0M513.2,390.9h0M513.3,393.2h0M513.4,392h0M513.5,401.2h0M513.6,400.6h0M513.8,401.9h0M513.9,401.7h0M514,404.5h0M514.1,408.7h0M514.2,409.2h0M514.3,415.5h0M514.4,411.2h0M514.5,399.2h0M514.6,410.7h0M514.7,412.2h0M514.9,411.7h0M515,413.3h0M515.1,411.3h0M515.2,412.4h0M515.3,402.1h0M515.4,412.3h0M515.5,410.9h0M515.6,408.6h0M515.7,416.4h0M515.8,409.7h0M516,409.9h0M516.1,410.8h0M516.2,414.4h0M516.3,414.2h0M516.4,415.4h0M516.5,418h0M516.6,419.7h0M516.7,421.1h0M516.8,421.7h0M516.9,426.8h0M517.1,426.8h0M517.2,425.9h0M517.3,427.3h0M517.4,428.4h0M517.5,427.6h0M517.6,427.7h0M517.7,429.3h0M517.8,428.3h0M517.9,427.4h0M518,425.1h0M518.2,414.4h0M518.3,420.9h0M518.4,425.1h0M518.5,424.2h0M518.6,427.5h0M518.7,424.7h0M518.8,427.3h0M518.9,428h0M519,427.6h0M519.1,423.8h0M519.3,423.6h0M519.4,427.2h0M519.5,423.5h0M519.6,419.8h0M519.7,421.9h0M519.8,423.5h0M519.9,419.2h0M520,419.1h0M520.1,420h0M520.2,416.5h0M520.4,418.9h0M520.5,415.8h0M520.6,424.4h0M520.7,419.2h0M520.8,417.6h0M520.9,413.8h0M521,413.1h0M521.1,413h0M521.2,412.7h0M521.3,411.4h0M521.5,416.7h0M521.6,413.8h0M521.7,411.7h0M521.8,411.5h0M521.9,412.7h0M522,412.7h0M522.1,414.9h0M522.2,418.7h0M522.3,415.5h0M522.4,418.5h0M522.6,411.7h0M522.7,412.3h0M522.8,414h0M522.9,412h0M523,415.3h0M523.1,412.6h0M523.2,417h0M523.3,413.1h0M523.4,425.7h0M523.5,416.1h0M523.7,424.2h0M523.8,425.9h0M523.9,417.4h0M524,412.1h0M524.1,414.7h0M524.2,416h0M524.3,425.7h0M524.4,418.4h0M524.5,417.8h0M524.6,424.9h0M524.8,418h0M524.9,420.1h0M525,424h0M525.1,425.9h0M525.2,422.8h0M525.3,423.7h0M525.4,424.8h0M525.5,422.1h0M525.6,424.1h0M525.7,424.9h0M525.9,423.6h0M526,428.3h0M526.1,427.9h0M526.2,425.4h0M526.3,427.3h0M526.4,431.3h0M526.5,426.3h0M526.6,431.5h0M526.7,432.6h0M526.8,431.8h0M527,430.5h0M527.1,427.1h0M527.2,427.2h0M527.3,433.5h0M527.4,432.9h0M527.5,434h0M527.6,421.4h0M527.7,432.4h0M527.8,432.3h0M527.9,428.6h0M528.1,434.3h0M528.2,429.4h0M528.3,430.6h0M528.4,435.1h0M528.5,433.2h0M528.6,435.1h0M528.7,431.8h0M528.8,435.9h0M528.9,434.5h0M529,433.8h0M529.2,437.6h0M529.3,435.2h0M529.4,435.5h0M529.5,429.8h0M529.6,439.1h0M529.7,433.2h0M529.8,433.2h0M529.9,438.5h0M530,436.1h0M530.1,435.6h0M530.3,428.1h0M530.4,434.1h0M530.5,436.3h0M530.6,435.5h0M530.7,436.1h0M530.8,436.3h0M530.9,433.7h0M531,433.5h0M531.1,434.4h0M531.2,442.2h0M531.4,438.2h0M531.5,439h0M531.6,440.7h0M531.7,434h0M531.8,439.5h0M531.9,436.3h0M532,439.6h0M532.1,440.7h0M532.2,430.1h0M532.3,439.1h0M532.5,432.1h0M532.6,437.6h0M532.7,432h0M532.8,440.1h0M532.9,435.1h0M533,436.6h0M533.1,435.6h0M533.2,434.8h0M533.3,433.7h0M533.4,441.9h0M533.6,439.7h0M533.7,439.5h0M533.8,437.5h0M533.9,436.2h0M534,437.4h0M534.1,432.3h0M534.2,439.7h0M534.3,431.7h0M534.4,430.9h0M534.5,439.9h0M534.7,429.5h0M534.8,428.8h0M534.9,430.2h0M535,432.9h0M535.1,432.8h0M535.2,432.1h0M535.3,430.1h0M535.4,431.7h0M535.5,427.6h0M535.6,426.9h0M535.8,430.6h0M535.9,431.5h0M536,434h0M536.1,433.5h0M536.2,435.1h0M536.3,430.4h0M536.4,429.6h0M536.5,427.2h0M536.6,425.2h0M536.7,427.8h0M536.9,427.2h0M537,433.6h0M537.1,433.9h0M537.2,427.8h0M537.3,425.1h0M537.4,427.6h0M537.5,429.9h0M537.6,425.7h0M537.7,427.2h0M537.8,424.7h0M538,425.1h0M538.1,430.9h0M538.2,433h0M538.3,430.1h0M538.4,432.3h0M538.5,434.8h0M538.6,429.5h0M538.7,434h0M538.8,431.9h0M538.9,433.9h0M539.1,433.1h0M539.2,430.7h0M539.3,431.2h0M539.4,432.4h0M539.5,429.1h0M539.6,431.6h0M539.7,431.4h0M539.8,422.6h0M539.9,425.9h0M540,424.6h0M540.2,422.8h0M540.3,425.2h0M540.4,430.8h0M540.5,428h0M540.6,430.3h0M540.7,428.3h0M540.8,429.2h0M540.9,423.3h0M541,422.3h0M541.1,422.9h0M541.3,423.4h0M541.4,428.6h0M541.5,425h0M541.6,427.7h0M541.7,422.5h0M541.8,421.2h0M541.9,426.2h0M542,425.8h0M542.1,428.6h0M542.2,428.5h0M542.4,426.9h0M542.5,425.8h0M542.6,425.6h0M542.7,421.4h0M542.8,422.8h0M542.9,422.1h0M543,420.2h0M543.1,420.8h0M543.2,429.1h0M543.3,423.1h0M543.5,421h0M543.6,419.9h0M543.7,421.9h0M543.8,428.9h0M543.9,429.3h0M544,423.2h0M544.1,419.3h0M544.2,426.5h0M544.3,425.8h0M544.4,423.9h0M544.6,422.5h0M544.7,423.4h0M544.8,422h0M544.9,419.5h0M545,421.4h0M545.1,418.7h0M545.2,425.1h0M545.3,427.6h0M545.4,416h0M545.5,419.7h0M545.7,420.9h0M545.8,422h0M545.9,418.3h0M546,417.8h0M546.1,418.3h0M546.2,417.9h0M546.3,425.3h0M546.4,414.9h0M546.5,416.4h0M546.6,414.9h0M546.8,415.3h0M546.9,423.1h0M547,418.7h0M547.1,413.1h0M547.2,413.6h0M547.3,414.2h0M547.4,414.7h0M547.5,412.4h0M547.6,419.3h0M547.7,413.1h0M547.9,412h0M548,417.3h0M548.1,415.4h0M548.2,417.8h0M548.3,416.2h0M548.4,415.6h0M548.5,413.3h0M548.6,411.2h0M548.7,410.4h0M548.8,419.9h0M549,409.1h0M549.1,410.5h0M549.2,416.9h0M549.3,406.9h0M549.4,415.2h0M549.5,415.4h0M549.6,405.5h0M549.7,418.4h0M549.8,405h0M549.9,407.2h0M550.1,405.3h0M550.2,410.9h0M550.3,403.3h0M550.4,415.1h0M550.5,404h0M550.6,405.2h0M550.7,408.8h0M550.8,403.1h0M550.9,401.9h0M551,411.4h0M551.2,405.3h0M551.3,403.4h0M551.4,409.7h0M551.5,405h0M551.6,400.7h0M551.7,400.2h0M551.8,401.2h0M551.9,403.8h0M552,409.1h0M552.1,409.6h0M552.3,402h0M552.4,407.1h0M552.5,405.2h0M552.6,411.4h0M552.7,405.1h0M552.8,407.3h0M552.9,411.6h0M553,401.4h0M553.1,408.6h0M553.2,409.3h0M553.4,409.3h0M553.5,410.2h0M553.6,407.7h0M553.7,401.2h0M553.8,402.9h0M553.9,403.2h0M554,404.9h0M554.1,401.1h0M554.2,400.1h0M554.3,401.3h0M554.5,400.8h0M554.6,403.8h0M554.7,399.7h0M554.8,405.8h0M554.9,400.1h0M555,403.7h0M555.1,404h0M555.2,401.7h0M555.3,403h0M555.4,402.8h0M555.6,405.5h0M555.7,403.3h0M555.8,405.3h0M555.9,402.9h0M556,402.7h0M556.1,408.9h0M556.2,404.3h0M556.3,405.5h0M556.4,399.1h0M556.5,406h0M556.7,404.5h0M556.8,406.2h0M556.9,405.6h0M557,406.4h0M557.1,408.4h0M557.2,400.6h0M557.3,409h0M557.4,401h0M557.5,397.1h0M557.6,400.3h0M557.8,399.3h0M557.9,399.3h0M558,397h0M558.1,397.9h0M558.2,404.3h0M558.3,403.4h0M558.4,405h0M558.5,407.3h0M558.6,404.3h0M558.7,402.9h0M558.9,404h0M559,401.3h0M559.1,404.3h0M559.2,405.1h0M559.3,404.3h0M559.4,400.6h0M559.5,401.3h0M559.6,408h0M559.7,405.5h0M559.8,398.4h0M560,401.2h0M560.1,398.9h0M560.2,402.3h0M560.3,399.1h0M560.4,409.5h0M560.5,399.2h0M560.6,398.6h0M560.7,398.1h0M560.8,403.1h0M560.9,400.7h0M561.1,401.3h0M561.2,399.8h0M561.3,405.4h0M561.4,401.8h0M561.5,403.6h0M561.6,402.7h0M561.7,400.1h0M561.8,403.8h0M561.9,402.8h0M562,401h0M562.2,398.6h0M562.3,398.8h0M562.4,400.7h0M562.5,399.6h0M562.6,398.8h0M562.7,403h0M562.8,399.1h0M562.9,398.7h0M563,400.9h0M563.1,398.6h0M563.3,398.8h0M563.4,398.6h0M563.5,402.9h0M563.6,406.3h0M563.7,398.8h0M563.8,397.4h0M563.9,399.1h0M564,400.2h0M564.1,399.3h0M564.2,396.7h0M564.4,399h0M564.5,398.4h0M564.6,398.3h0M564.7,404h0M564.8,400h0M564.9,404.6h0M565,399.6h0M565.1,400.3h0M565.2,399.6h0M565.3,400.1h0M565.5,398.5h0M565.6,398.1h0M565.7,401.8h0M565.8,403.1h0M565.9,401.9h0M566,399.5h0M566.1,399.2h0M566.2,400.4h0M566.3,403.6h0M566.4,406.2h0M566.6,398.5h0M566.7,396.4h0M566.8,396.8h0M566.9,400h0M567,403.9h0M567.1,397.8h0M567.2,398.3h0M567.3,397.4h0M567.4,398.5h0M567.5,399.2h0M567.7,402.2h0M567.8,405h0M567.9,403.3h0M568,403h0M568.1,399.7h0M568.2,398.2h0M568.3,403h0M568.4,405.1h0M568.5,399.6h0M568.6,396.1h0M568.8,397.7h0M568.9,397.8h0M569,397.8h0M569.1,396.9h0M569.2,400.5h0M569.3,396.9h0M569.4,397h0M569.5,398.4h0M569.6,404.9h0M569.7,403.1h0M569.9,396.8h0M570,401.5h0M570.1,403.6h0M570.2,404.4h0M570.3,401.8h0M570.4,406.1h0M570.5,403.7h0M570.6,407.1h0M570.7,400.9h0M570.8,400.9h0M571,402.8h0M571.1,407.2h0M571.2,401.6h0M571.3,401.2h0M571.4,399.3h0M571.5,403.6h0M571.6,405.7h0M571.7,399.7h0M571.8,396h0M571.9,395.7h0M572.1,401.3h0M572.2,395.7h0M572.3,403.1h0M572.4,406.9h0M572.5,398.5h0M572.6,401h0M572.7,400.1h0M572.8,396.7h0M572.9,399.2h0M573,402.2h0M573.2,407.1h0M573.3,404.7h0M573.4,406.3h0M573.5,403h0M573.6,405.7h0M573.7,402.2h0M573.8,400h0M573.9,406.4h0M574,402.4h0M574.1,404.4h0M574.3,403.9h0M574.4,406.3h0M574.5,404.4h0M574.6,405.6h0M574.7,403.7h0M574.8,396.6h0M574.9,405.9h0M575,403.6h0M575.1,401.7h0M575.2,401.1h0M575.4,401.9h0M575.5,404.9h0M575.6,395.5h0M575.7,403.6h0M575.8,402.7h0M575.9,402.8h0M576,399.1h0M576.1,401.2h0M576.2,399.8h0M576.3,399.5h0M576.5,401.2h0M576.6,401.7h0M576.7,403.9h0M576.8,400.5h0M576.9,400h0M577,396.5h0M577.1,398.8h0M577.2,397.6h0M577.3,397.7h0M577.4,397.1h0M577.6,405.5h0M577.7,402.3h0M577.8,399.1h0M577.9,400.2h0M578,397.1h0M578.1,395.9h0M578.2,399.1h0M578.3,398.9h0M578.4,401.9h0M578.5,402.9h0M578.7,399h0M578.8,403h0M578.9,400.9h0M579,400.8h0M579.1,400.4h0M579.2,401.7h0M579.3,401h0M579.4,395.8h0M579.5,401.3h0M579.6,398.3h0M579.8,396.7h0M579.9,396h0M580,396h0M580.1,404.2h0M580.2,396.3h0M580.3,399.9h0M580.4,399.1h0M580.5,399.9h0M580.6,398.6h0M580.7,401.7h0M580.9,404.1h0M581,405.5h0M581.1,401.2h0M581.2,401.6h0M581.3,403.5h0M581.4,403.5h0M581.5,398.6h0M581.6,405.4h0M581.7,406.7h0M581.8,403.7h0M582,403.7h0M582.1,402.1h0M582.2,400h0M582.3,400.9h0M582.4,397.3h0M582.5,398.3h0M582.6,404.5h0M582.7,399.6h0M582.8,396.2h0M582.9,398.1h0M583.1,396.9h0M583.2,399.1h0M583.3,399.8h0M583.4,397.2h0M583.5,400.5h0M583.6,401.6h0M583.7,400.5h0M583.8,398.6h0M583.9,402.4h0M584,399h0M584.2,398.6h0M584.3,400h0M584.4,405.4h0M584.5,400.2h0M584.6,398.2h0M584.7,399.8h0M584.8,397.3h0M584.9,399h0M585,397.5h0M585.1,397.1h0M585.3,396.1h0M585.4,395.6h0M585.5,404.4h0M585.6,405.1h0M585.7,397.9h0M585.8,393.8h0M585.9,402.3h0M586,394.4h0M586.1,403.5h0M586.2,393.8h0M586.4,396h0M586.5,393.1h0M586.6,392.8h0M586.7,396.5h0M586.8,393.8h0M586.9,395.5h0M587,397.8h0M587.1,394.8h0M587.2,401.7h0M587.3,401.7h0M587.5,401.4h0M587.6,400.4h0M587.7,390.8h0M587.8,399h0M587.9,396.4h0M588,396.8h0M588.1,396.3h0M588.2,395.2h0M588.3,386.3h0M588.4,383.5h0M588.6,386.8h0M588.7,383.5h0M588.8,384.4h0M588.9,381.4h0M589,383.7h0M589.1,385.1h0M589.2,386.9h0M589.3,383.9h0M589.4,383.4h0M589.5,385.4h0M589.7,382.5h0M589.8,379.3h0M589.9,379.3h0M590,386.1h0M590.1,380h0M590.2,383.9h0M590.3,382.7h0M590.4,388.8h0M590.5,388.6h0M590.6,387.7h0M590.8,389.7h0M590.9,389.1h0M591,392.5h0M591.1,385.9h0M591.2,389.1h0M591.3,390.8h0M591.4,390.9h0M591.5,392.4h0M591.6,390.1h0M591.7,389.5h0M591.9,379.1h0M592,386.9h0M592.1,389h0M592.2,388.3h0M592.3,390.5h0M592.4,391.2h0M592.5,390h0M592.6,390.5h0M592.7,387.6h0M592.8,387.7h0M593,380.8h0M593.1,387.4h0M593.2,388.2h0M593.3,386.2h0M593.4,388.9h0M593.5,392.8h0M593.6,390.7h0M593.7,382.2h0M593.8,383.3h0M593.9,382.1h0M594.1,382.6h0M594.2,384.8h0M594.3,389h0M594.4,381.2h0M594.5,389.2h0M594.6,390h0M594.7,389.3h0M594.8,384.9h0M594.9,386.8h0M595,381.4h0M595.2,381.9h0M595.3,380h0M595.4,381.3h0M595.5,385.7h0M595.6,386.5h0M595.7,387.6h0M595.8,386h0M595.9,377.1h0M596,385.4h0M596.1,385.5h0M596.3,380.8h0M596.4,384.8h0M596.5,386.9h0M596.6,388.1h0M596.7,389.9h0M596.8,387.1h0M596.9,381.8h0M597,381.6h0M597.1,389.7h0M597.2,389.2h0M597.4,389.9h0M597.5,380.9h0M597.6,385.8h0M597.7,385.4h0M597.8,377.7h0M597.9,389h0M598,386.9h0M598.1,387.9h0M598.2,387.7h0M598.3,388.1h0M598.5,386.6h0M598.6,387.8h0M598.7,388.3h0M598.8,384.2h0M598.9,387.4h0M599,391.8h0M599.1,390.1h0M599.2,392.2h0M599.3,390.3h0M599.4,389.4h0M599.6,392.4h0M599.7,393.2h0M599.8,389.7h0M599.9,390.7h0M600,392.6h0M600.1,389.8h0M600.2,390.7h0M600.3,382.7h0M600.4,393.3h0M600.5,392.2h0M600.7,391.6h0M600.8,389.6h0M600.9,391.3h0M601,392.8h0M601.1,391.4h0M601.2,388.7h0M601.3,392.5h0M601.4,390.2h0M601.5,379.7h0M601.6,383.6h0M601.8,389.3h0M601.9,387.2h0M602,383.1h0M602.1,385h0M602.2,378.1h0M602.3,378.4h0M602.4,386.8h0M602.5,389h0M602.6,386.3h0M602.7,385.3h0M602.9,386.1h0M603,384.7h0M603.1,383.6h0M603.2,386.7h0M603.3,386h0M603.4,387.4h0M603.5,387.3h0M603.6,386.9h0M603.7,388.4h0M603.8,391.5h0M604,391.3h0M604.1,389.1h0M604.2,391.5h0M604.3,392.6h0M604.4,390.3h0M604.5,391.2h0M604.6,380.2h0M604.7,389.7h0M604.8,391.5h0M604.9,390.2h0M605.1,385.6h0M605.2,385.5h0M605.3,392.1h0M605.4,387.9h0M605.5,386h0M605.6,388.4h0M605.7,388h0M605.8,390.1h0M605.9,388.3h0M606,389.6h0M606.2,380.5h0M606.3,391.4h0M606.4,390.9h0M606.5,392.7h0M606.6,391.6h0M606.7,392.7h0M606.8,386.5h0M606.9,389.2h0M607,389h0M607.1,386.7h0M607.3,387.2h0M607.4,380.1h0M607.5,385.7h0M607.6,378.5h0M607.7,391.9h0M607.8,388.4h0M607.9,384.4h0M608,392.1h0M608.1,390.9h0M608.2,389.5h0M608.4,381.8h0M608.5,390.3h0M608.6,392h0M608.7,391.4h0M608.8,391.7h0M608.9,390.2h0M609,391h0M609.1,389.8h0M609.2,391.5h0M609.3,392h0M609.5,392.1h0M609.6,392h0M609.7,392.4h0M609.8,389.5h0M609.9,388.6h0M610,392.9h0M610.1,392h0M610.2,390.1h0M610.3,387.1h0M610.4,387.8h0M610.6,388.3h0M610.7,386.6h0M610.8,380.4h0M610.9,388h0M611,386.8h0M611.1,381.9h0M611.2,392.5h0M611.3,384.9h0M611.4,393.9h0M611.5,393.7h0M611.7,393h0M611.8,391.8h0M611.9,380.5h0M612,389.9h0M612.1,388.8h0M612.2,386.4h0M612.3,387.6h0M612.4,386.2h0M612.5,383.3h0M612.6,383.8h0M612.8,383.4h0M612.9,386.1h0M613,380h0M613.1,381.6h0M613.2,381.2h0M613.3,380h0M613.4,388.1h0M613.5,392.2h0M613.6,380.5h0M613.7,386.2h0M613.9,382.6h0M614,384h0M614.1,384.9h0M614.2,385.9h0M614.3,382.2h0M614.4,387.4h0M614.5,381.9h0M614.6,382.7h0M614.7,385h0M614.8,383h0M615,390.9h0M615.1,382.5h0M615.2,385.1h0M615.3,387.3h0M615.4,386.6h0M615.5,390.6h0M615.6,393.2h0M615.7,393.9h0M615.8,392.8h0M615.9,389.6h0M616.1,391.3h0M616.2,392.1h0M616.3,384.7h0M616.4,386.8h0M616.5,386h0M616.6,385.4h0M616.7,385.8h0M616.8,385.2h0M616.9,384.8h0M617,386.5h0M617.2,386.2h0M617.3,388.1h0M617.4,386.4h0M617.5,388.2h0M617.6,386h0M617.7,387.5h0M617.8,384.9h0M617.9,385.3h0M618,386.9h0M618.1,386.5h0M618.3,387.9h0M618.4,392.2h0M618.5,386.7h0M618.6,384.9h0M618.7,386.7h0M618.8,389.5h0M618.9,387.6h0M619,389.3h0M619.1,389.8h0M619.2,384.7h0M619.4,384.9h0M619.5,395.9h0M619.6,388.4h0M619.7,390.4h0M619.8,393.6h0M619.9,386h0M620,391.7h0M620.1,397.7h0M620.2,393.8h0M620.3,392.2h0M620.5,394.5h0M620.6,387.2h0M620.7,402.2h0M620.8,399.4h0M620.9,402.2h0M621,400.1h0M621.1,387.4h0M621.2,399.7h0M621.3,399.8h0M621.4,397.6h0M621.6,398.6h0M621.7,400.3h0M621.8,400.6h0M621.9,403.4h0M622,387.4h0M622.1,391.2h0M622.2,403.7h0M622.3,400.7h0M622.4,388.7h0M622.5,396.3h0M622.7,396.1h0M622.8,394.8h0M622.9,395.1h0M623,395.5h0M623.1,395.6h0M623.2,393.5h0M623.3,393h0M623.4,394h0M623.5,391.8h0M623.6,388.1h0M623.8,384.2h0M623.9,386.7h0M624,384h0M624.1,384.3h0M624.2,403.8h0M624.3,386.7h0M624.4,385.2h0M624.5,395h0M624.6,404.7h0M624.7,387.7h0M624.9,389.7h0M625,392.2h0M625.1,389.5h0M625.2,388.8h0M625.3,388.2h0M625.4,385.1h0M625.5,404.5h0M625.6,388.2h0M625.7,389.6h0M625.8,386.4h0M626,387.1h0M626.1,388.3h0M626.2,391h0M626.3,406.6h0M626.4,397.4h0M626.5,399.9h0M626.6,395.9h0M626.7,394.6h0M626.8,399.9h0M626.9,402h0M627.1,389.1h0M627.2,392.9h0M627.3,407.3h0M627.4,390h0M627.5,392.8h0M627.6,394h0M627.7,394.5h0M627.8,393.6h0M627.9,393.3h0M628,393.6h0M628.2,394.8h0M628.3,394.9h0M628.4,405.3h0M628.5,392.6h0M628.6,394.5h0M628.7,397.7h0M628.8,398.3h0M628.9,392.2h0M629,393.7h0M629.1,393.6h0M629.3,395.8h0M629.4,393.4h0M629.5,394h0M629.6,390.3h0M629.7,399.9h0M629.8,399h0M629.9,399.6h0M630,397.5h0M630.1,398.7h0M630.2,398.9h0M630.4,401.9h0M630.5,403.4h0M630.6,407h0M630.7,395.5h0M630.8,404.8h0M630.9,405.6h0M631,404.6h0M631.1,400.7h0M631.2,398.2h0M631.3,397h0M631.5,400.9h0M631.6,401.1h0M631.7,400.7h0M631.8,390.6h0M631.9,398.8h0M632,399.2h0M632.1,399h0M632.2,395.2h0M632.3,393.9h0M632.4,401.9h0M632.6,403.4h0M632.7,403.1h0M632.8,404.7h0M632.9,402.3h0M633,402.5h0M633.1,399.5h0M633.2,401.5h0M633.3,400.4h0M633.4,407.2h0M633.5,395.1h0M633.7,399.4h0M633.8,400.7h0M633.9,403.7h0M634,405.1h0M634.1,408.1h0M634.2,411.1h0M634.3,405.7h0M634.4,406h0M634.5,407.5h0M634.6,413.1h0M634.8,412.8h0M634.9,412.9h0M635,415h0M635.1,415.1h0M635.2,412h0M635.3,412.8h0M635.4,414.1h0M635.5,413.3h0M635.6,413.9h0M635.7,416.7h0M635.9,415.9h0M636,408.3h0M636.1,414.7h0M636.2,416h0M636.3,416.2h0M636.4,414.6h0M636.5,413.2h0M636.6,419.5h0M636.7,414.7h0M636.8,413.2h0M637,424.5h0M637.1,416h0M637.2,416.7h0M637.3,413.7h0M637.4,411h0M637.5,421.5h0M637.6,414.6h0M637.7,417.1h0M637.8,424.9h0M637.9,413.4h0M638.1,423.7h0M638.2,419.6h0M638.3,420.5h0M638.4,424h0M638.5,424.5h0M638.6,422.7h0M638.7,425.7h0M638.8,420.4h0M638.9,428.7h0M639,430.1h0M639.2,431.4h0M639.3,429.6h0M639.4,427.2h0M639.5,426.8h0M639.6,419.1h0M639.7,428.3h0M639.8,419.1h0M639.9,419h0M640,420.9h0M640.1,420.7h0M640.3,418.9h0M640.4,417.4h0M640.5,416.1h0M640.6,418.3h0M640.7,413.4h0M640.8,413.7h0M640.9,426.9h0M641,416.8h0M641.1,412.7h0M641.2,413.8h0M641.4,409.7h0M641.5,412.2h0M641.6,410.6h0M641.7,413h0M641.8,414.3h0M641.9,406.8h0M642,424.5h0M642.1,411.8h0M642.2,408.5h0M642.3,415.6h0M642.5,417.7h0M642.6,418h0M642.7,419.1h0M642.8,417h0M642.9,415.2h0M643,416.1h0M643.1,400.6h0M643.2,413.4h0M643.3,412.7h0M643.4,410.4h0M643.6,410.5h0M643.7,415.8h0M643.8,407.8h0M643.9,406.6h0M644,407.5h0M644.1,407.3h0M644.2,403.6h0M644.3,403.4h0M644.4,402.9h0M644.5,404.1h0M644.7,394.6h0M644.8,400.4h0M644.9,396.5h0M645,398.1h0M645.1,405.6h0M645.2,402.6h0M645.3,406h0M645.4,406.3h0M645.5,403.7h0M645.6,403h0M645.8,405.9h0M645.9,408.6h0M646,406.5h0M646.1,405.7h0M646.2,404h0M646.3,402.3h0M646.4,401.1h0M646.5,404.5h0M646.6,404.1h0M646.7,407.5h0M646.9,402.3h0M647,402.2h0M647.1,401.9h0M647.2,403.6h0M647.3,402.5h0M647.4,405.2h0M647.5,403.6h0M647.6,400.3h0M647.7,396.6h0M647.8,399.6h0M648,399.6h0M648.1,399.6h0M648.2,402.2h0M648.3,401.8h0M648.4,401.2h0M648.5,398.2h0M648.6,397h0M648.7,397.2h0M648.8,397.7h0M648.9,396.4h0M649.1,398.8h0M649.2,392.8h0M649.3,400.4h0M649.4,396.4h0M649.5,397.9h0M649.6,398.9h0M649.7,404.8h0M649.8,396.4h0M649.9,396.8h0M650,396.3h0M650.2,398.8h0M650.3,400.4h0M650.4,404.1h0M650.5,396.8h0M650.6,396.8h0M650.7,397.4h0M650.8,397h0M650.9,399.2h0M651,396.9h0M651.1,397.2h0M651.3,402.1h0M651.4,402.5h0M651.5,405.5h0M651.6,400.1h0M651.7,399.1h0M651.8,397.6h0M651.9,393.1h0M652,392.5h0M652.1,400.9h0M652.2,403.6h0M652.4,402.3h0M652.5,403.7h0M652.6,403.8h0M652.7,403.6h0M652.8,401.7h0M652.9,401.7h0M653,401.6h0M653.1,402.2h0M653.2,397.3h0M653.3,395.8h0M653.5,394.2h0M653.6,398.1h0M653.7,399.7h0M653.8,401.7h0M653.9,403.3h0M654,403.1h0M654.1,401.4h0M654.2,402.3h0M654.3,399.3h0M654.4,400.9h0M654.6,396.9h0M654.7,392.4h0M654.8,405.4h0M654.9,400.3h0M655,404.4h0M655.1,406h0M655.2,402.2h0M655.3,403h0M655.4,404.3h0M655.5,401.2h0M655.7,403.5h0M655.8,404.3h0M655.9,404.7h0M656,401.9h0M656.1,404.4h0M656.2,404h0M656.3,401.7h0M656.4,400.2h0M656.5,391.5h0M656.6,395.8h0M656.8,393.2h0M656.9,395.7h0M657,396.7h0M657.1,403.3h0M657.2,399.7h0M657.3,400.2h0M657.4,401.9h0M657.5,401.7h0M657.6,389.7h0M657.7,403.2h0M657.9,402.2h0M658,402.2h0M658.1,399.1h0M658.2,396.7h0M658.3,395.2h0M658.4,390.9h0M658.5,389.2h0M658.6,392.6h0M658.7,396.5h0M658.8,393.6h0M659,391.7h0M659.1,394.2h0M659.2,393.8h0M659.3,384.2h0M659.4,396.2h0M659.5,396.1h0M659.6,397.3h0M659.7,397.5h0M659.8,388.2h0M659.9,386.6h0M660.1,395.1h0M660.2,395.8h0M660.3,397h0M660.4,397.5h0M660.5,397h0M660.6,393.8h0M660.7,392.2h0M660.8,392.6h0M660.9,393.2h0M661,390.9h0M661.2,388.3h0M661.3,390h0M661.4,391.7h0M661.5,387h0M661.6,388.6h0M661.7,395.9h0M661.8,388.9h0M661.9,389.1h0M662,393.2h0M662.1,391.5h0M662.3,396.5h0M662.4,392.9h0M662.5,387.6h0M662.6,385.9h0M662.7,389.1h0M662.8,389.1h0M662.9,390.9h0M663,388.7h0M663.1,386.7h0M663.2,387.7h0M663.4,387.4h0M663.5,389.2h0M663.6,388.4h0M663.7,393.4h0M663.8,393h0M663.9,396.6h0M664,394.9h0M664.1,388.4h0M664.2,395h0M664.3,392h0M664.5,387.4h0M664.6,390.9h0M664.7,393.6h0M664.8,395.7h0M664.9,395.2h0M665,394.2h0M665.1,391.6h0M665.2,390.7h0M665.3,394.1h0M665.4,392.8h0M665.6,392.3h0M665.7,388.3h0M665.8,390.4h0M665.9,384.5h0M666,385.5h0M666.1,390h0M666.2,390h0M666.3,390.5h0M666.4,389.7h0M666.5,391h0M666.7,388.5h0M666.8,390.4h0M666.9,392.5h0M667,389.6h0M667.1,387.4h0M667.2,387.9h0M667.3,388.1h0M667.4,387.6h0M667.5,383.6h0M667.6,384.4h0M667.8,393.4h0M667.9,389.4h0M668,393.2h0M668.1,390.4h0M668.2,392.5h0M668.3,392.7h0M668.4,394h0M668.5,390.4h0M668.6,386h0M668.7,383.8h0M668.9,384.7h0M669,386.1h0M669.1,384.3h0M669.2,384.7h0M669.3,386.2h0M669.4,386.2h0M669.5,388.7h0M669.6,390h0M669.7,391.4h0M669.8,393.8h0M670,390.9h0M670.1,390.8h0M670.2,393.5h0M670.3,386.4h0M670.4,386.7h0M670.5,387.2h0M670.6,389.6h0M670.7,391h0M670.8,390.7h0M670.9,391.6h0M671.1,390.1h0M671.2,391h0M671.3,391.4h0M671.4,390.4h0M671.5,390.2h0M671.6,387.9h0M671.7,391h0M671.8,390.6h0M671.9,383.7h0M672,389.5h0M672.2,387.6h0M672.3,386.4h0M672.4,385.5h0M672.5,388.3h0M672.6,386.7h0M672.7,383.6h0M672.8,384.3h0M672.9,386.4h0M673,388.9h0M673.1,386.3h0M673.3,383.8h0M673.4,386.3h0M673.5,383.2h0M673.6,387.5h0M673.7,387.3h0M673.8,381.5h0M673.9,385.9h0M674,384.7h0M674.1,384.3h0M674.2,382.9h0M674.4,382.1h0M674.5,383.7h0M674.6,382.9h0M674.7,385h0M674.8,382.1h0M674.9,378.6h0M675,378.1h0M675.1,378.9h0M675.2,377.4h0M675.3,376.2h0M675.5,377.3h0M675.6,377.1h0M675.7,377h0M675.8,375.2h0M675.9,374.5h0M676,380.2h0M676.1,374.8h0M676.2,373.8h0M676.3,373.3h0M676.4,380.2h0M676.6,374.5h0M676.7,379.1h0M676.8,373.3h0M676.9,374.2h0M677,373.9h0M677.1,382.6h0M677.2,379.4h0M677.3,374.5h0M677.4,372.6h0M677.5,373.9h0M677.7,373.9h0M677.8,374.6h0M677.9,373.5h0M678,375.1h0M678.1,376.9h0M678.2,372h0M678.3,373.1h0M678.4,372.5h0M678.5,373.6h0M678.6,373.9h0M678.8,374h0M678.9,372h0M679,374.2h0M679.1,376.6h0M679.2,372.5h0M679.3,373h0M679.4,373.4h0M679.5,372h0M679.6,372.2h0M679.7,379h0M679.9,377.4h0M680,378.4h0M680.1,379.2h0M680.2,376.9h0M680.3,374.9h0M680.4,376.1h0M680.5,372.8h0M680.6,378.4h0M680.7,374.7h0M680.8,379.5h0M681,379.2h0M681.1,380h0M681.2,378.6h0M681.3,371.9h0M681.4,375.5h0M681.5,374.2h0M681.6,375.3h0M681.7,376.6h0M681.8,377.5h0M681.9,376.5h0M682.1,380.6h0M682.2,370.6h0M682.3,373.5h0M682.4,370h0M682.5,369.9h0M682.6,369.4h0M682.7,371.5h0M682.8,374.6h0M682.9,373.8h0M683,380.1h0M683.2,372.7h0M683.3,373.8h0M683.4,373.8h0M683.5,378.8h0M683.6,372.6h0M683.7,374.9h0M683.8,373.7h0M683.9,375.4h0M684,376h0M684.1,378.4h0M684.3,378.3h0M684.4,375h0M684.5,372.4h0M684.6,371.8h0M684.7,374.9h0M684.8,373.9h0M684.9,374h0M685,374.7h0M685.1,375.5h0M685.2,374.2h0M685.4,382.6h0M685.5,385.5h0M685.6,375.9h0M685.7,378.3h0M685.8,380.6h0M685.9,379.9h0M686,386.5h0M686.1,387.3h0M686.2,386.6h0M686.3,372.2h0M686.5,382.6h0M686.6,384.4h0M686.7,377.9h0M686.8,384.2h0M686.9,374.2h0M687,381.9h0M687.1,380.8h0M687.2,370.6h0M687.3,381.5h0M687.4,371.1h0M687.6,369.8h0M687.7,369.8h0M687.8,379.5h0M687.9,378.2h0M688,373.6h0M688.1,375.6h0M688.2,376.8h0M688.3,378h0M688.4,381.5h0M688.5,378.3h0M688.7,385h0M688.8,375.1h0M688.9,374.2h0M689,372.5h0M689.1,375.8h0M689.2,375.1h0M689.3,378h0M689.4,377.8h0M689.5,371.9h0M689.6,375.9h0M693.3,419.4h0M693.4,420.5h0M693.5,426h0M693.6,420.8h0M693.7,413h0M693.8,408.4h0M693.9,411.4h0M694.1,416.4h0M694.2,414.4h0M694.3,407.6h0M694.4,407.7h0M694.5,422.7h0M694.6,407.9h0M694.7,409.7h0M694.8,406.5h0M694.9,410.4h0M695,412h0M695.2,412.7h0M695.3,413.2h0M695.4,415.8h0M695.5,417.9h0M695.6,419.2h0M695.7,417.4h0M695.8,418.3h0M695.9,417h0M696,417.7h0M696.1,415.1h0M696.3,420.5h0M696.4,415h0M696.5,415.6h0M696.6,417.8h0M696.7,420.3h0M696.8,420.5h0M696.9,420h0M697,414.6h0M697.1,416.4h0M697.2,416.2h0M697.4,413.5h0M697.5,412.5h0M697.6,417.3h0M697.7,414.2h0M697.8,410.5h0M697.9,411.2h0M698,414.2h0M698.1,413.3h0M698.2,411.2h0M698.3,410.7h0M698.5,410.2h0M698.6,412.9h0M698.7,411.3h0M698.8,406.7h0M698.9,415.1h0M699,406.8h0M699.1,407.7h0M699.2,407.6h0M699.3,409.3h0M699.4,406h0M699.6,405.3h0M699.7,404h0M699.8,407.3h0M699.9,405.3h0M700,406.1h0M700.1,406.3h0M700.2,407h0M700.3,407h0M700.4,413.8h0M700.5,403.9h0M700.7,408.7h0M700.8,413.6h0M700.9,411.1h0M701,404.2h0M701.1,404.9h0M701.2,406h0M701.3,405.5h0M701.4,404.6h0M701.5,407.5h0M701.6,409.1h0M701.8,405.1h0M701.9,408.6h0M702,406.2h0M702.1,405h0M702.2,408.4h0M702.3,406.4h0M702.4,412.4h0M702.5,405.6h0M702.6,415.9h0M702.7,409.7h0M702.9,409.1h0M703,410.8h0M703.1,412h0M703.2,409.5h0M703.3,409h0M703.4,408.3h0M703.5,415.8h0M703.6,415.2h0M703.7,415.8h0M703.8,410.9h0M704,417.7h0M704.1,417.7h0M704.2,408.2h0M704.3,413.5h0M704.4,416.4h0M704.5,413.2h0M704.6,413.5h0M704.7,410.5h0M704.8,411.5h0M704.9,418.5h0M705.1,412.5h0M705.2,417.2h0M705.3,412h0M705.4,410.4h0M705.5,412.5h0M705.6,415.4h0M705.7,419.5h0M705.8,413.1h0M705.9,412.8h0M706,415.5h0M706.2,413.9h0M706.3,413.4h0M706.4,419.6h0M706.5,416.6h0M706.6,418.7h0M706.7,416.1h0M706.8,418.2h0M706.9,416.9h0M707,416.2h0M707.1,414h0M707.3,413.3h0M707.4,413.8h0M707.5,415.2h0M707.6,415.2h0M707.7,412.9h0M707.8,417h0M707.9,414.3h0M708,415.5h0M708.1,416.5h0M708.2,413.5h0M708.4,413.8h0M708.5,414.7h0M708.6,415.6h0M708.7,417h0M708.8,419h0M708.9,418.9h0M709,418.4h0M709.1,418.1h0M709.2,415.1h0M709.3,414.9h0M709.5,417.7h0M709.6,419h0M709.7,418.9h0M709.8,419.4h0M709.9,416.4h0M710,418.9h0M710.1,419.2h0M710.2,419.3h0M710.3,417.4h0M710.4,414.3h0M710.6,415.8h0M710.7,415h0M710.8,415.6h0M710.9,416.9h0M711,417.9h0M711.1,417.6h0M711.2,419.9h0M711.3,414h0M711.4,420h0M711.5,414.7h0M711.7,419.2h0M711.8,421.7h0M711.9,418.5h0M712,421.1h0M712.1,420.8h0M712.2,419.8h0M712.3,416.1h0M712.4,420.9h0M712.5,422.6h0M712.6,421.3h0M712.8,423h0M712.9,421.9h0M713,422.8h0M713.1,421.1h0M713.2,415.9h0M713.3,422.2h0M713.4,422.1h0M713.5,418.2h0M713.6,418.8h0M713.7,423.1h0M713.9,416.9h0M714,424.2h0M714.1,418.6h0M714.2,417.1h0M714.3,417h0M714.4,425h0M714.5,423.9h0M714.6,425.3h0M714.7,426.1h0M714.8,426.3h0M715,419.2h0M715.1,422.7h0M715.2,422.3h0M715.3,424.6h0M715.4,423.9h0M715.5,425.2h0M715.6,426.4h0M715.7,429.4h0M715.8,423.6h0M715.9,426h0M716.1,429.6h0M716.2,426.6h0M716.3,426.1h0M716.4,430.2h0M716.5,429.6h0M716.6,433.5h0M716.7,432h0M716.8,433.6h0M716.9,431.7h0M717,432.1h0M717.2,431h0M717.3,431.9h0M717.4,427.6h0M717.5,427.8h0M717.6,430.5h0M717.7,428.4h0M717.8,431.5h0M717.9,430.7h0M718,424.7h0M718.1,429.6h0M718.3,429.1h0M718.4,430.6h0M718.5,423.1h0M718.6,423.5h0M718.7,421h0M718.8,421.3h0M718.9,429.9h0M719,428.1h0M719.1,426.3h0M719.2,430.7h0M719.4,429h0M719.5,430.8h0M719.6,428.2h0M719.7,430h0M719.8,427.5h0M719.9,427.4h0M720,423.8h0M720.1,425.9h0M720.2,429.2h0M720.3,430.1h0M720.5,426.5h0M720.6,425.6h0M720.7,425.9h0M720.8,424.5h0M720.9,425.8h0M721,424.4h0M721.1,424.8h0M721.2,423.6h0M721.3,423.4h0M721.4,426.2h0M721.6,423.8h0M721.7,426.1h0M721.8,427.4h0M721.9,425.9h0M722,425.6h0M722.1,426.7h0M722.2,424.8h0M722.3,419.6h0M722.4,420.3h0M722.5,423.5h0M722.7,425.8h0M722.8,423.1h0M722.9,422.4h0M723,420.5h0M723.1,424.3h0M723.2,416.4h0M723.3,417.9h0M723.4,417.7h0M723.5,416.8h0M723.6,424.4h0M723.8,420.3h0M723.9,419.7h0M724,419.6h0M724.1,421.4h0M724.2,417.2h0M724.3,414.6h0M724.4,418.1h0M724.5,415.9h0M724.6,414h0M724.7,410.4h0M724.9,412.9h0M725,423.5h0M725.1,411.3h0M725.2,413.6h0M725.3,420.2h0M725.4,414.4h0M725.5,410.7h0M725.6,421.3h0M725.7,406.9h0M725.8,407.1h0M726,411h0M726.1,406.5h0M726.2,405.5h0M726.3,405h0M726.4,404.7h0M726.5,407.3h0M726.6,409.1h0M726.7,404.6h0M726.8,410.7h0M726.9,409.9h0M727.1,411.7h0M727.2,405.2h0M727.3,412.6h0M727.4,410.2h0M727.5,412.5h0M727.6,413h0M727.7,411.5h0M727.8,412.2h0M727.9,403.2h0M728,405.8h0M728.2,411.9h0M728.3,402.9h0M728.4,402.4h0M728.5,402.9h0M728.6,403.1h0M728.7,402.2h0M728.8,402.2h0M728.9,407.7h0M729,408.6h0M729.1,407.7h0M729.3,405.7h0M729.4,405h0M729.5,405.7h0M729.6,408.2h0M729.7,406h0M729.8,407.6h0M729.9,408.1h0M730,405.2h0M730.1,407.5h0M730.2,405.9h0M730.4,406.1h0M730.5,403.8h0M730.6,400.9h0M730.7,405.4h0M730.8,403.9h0M730.9,404.8h0M731,404.6h0M731.1,402.1h0M731.2,404.7h0M731.3,401.6h0M731.5,395h0M731.6,401.3h0M731.7,401.1h0M731.8,402h0M731.9,402.7h0M732,403.5h0M732.1,403.3h0M732.2,398.6h0M732.3,398.8h0M732.4,401.1h0M732.6,400.8h0M732.7,398.3h0M732.8,395.2h0M732.9,402.9h0M733,393h0M733.1,398.6h0M733.2,396.9h0M733.3,395.4h0M733.4,396.8h0M733.5,395.3h0M733.7,394.7h0M733.8,392h0M733.9,391h0M734,400.9h0M734.1,398.2h0M734.2,399.2h0M734.3,397.2h0M734.4,394.2h0M734.5,396.6h0M734.6,396.5h0M734.8,397.9h0M734.9,398.6h0M735,402.4h0M735.1,392.8h0M735.2,394.9h0M735.3,399.1h0M735.4,400.4h0M735.5,398.7h0M735.6,391.2h0M735.7,401.6h0M735.9,395.8h0M736,393.1h0M736.1,393.1h0M736.2,395.6h0M736.3,393h0M736.4,392.4h0M736.5,392.4h0M736.6,396.6h0M736.7,394.1h0M736.8,395.5h0M737,399h0M737.1,396h0M737.2,397.8h0M737.3,394.9h0M737.4,398h0M737.5,388.6h0M737.6,397.8h0M737.7,395.1h0M737.8,391.6h0M737.9,395h0M738.1,397.4h0M738.2,390.2h0M738.3,396.3h0M738.4,388.7h0M738.5,387.8h0M738.6,386.9h0M738.7,394.9h0M738.8,386h0M738.9,386.4h0M739,392.6h0M739.2,392.3h0M739.3,387.5h0M739.4,394.3h0M739.5,384.8h0M739.6,384.9h0M739.7,386.2h0M739.8,386.8h0M739.9,386.5h0M740,385.3h0M740.1,386.3h0M740.3,389.2h0M740.4,391h0M740.5,391.6h0M740.6,389h0M740.7,390.1h0M740.8,390.7h0M740.9,389.3h0M741,389.3h0M741.1,387.9h0M741.2,387.5h0M741.4,389.8h0M741.5,386h0M741.6,390.4h0M741.7,390.2h0M741.8,389.1h0M741.9,382.9h0M742,387.6h0M742.1,386.5h0M742.2,388.3h0M742.3,389.3h0M742.5,387.7h0M742.6,387.5h0M742.7,387.7h0M742.8,381h0M742.9,385.9h0M743,386.6h0M743.1,387.2h0M743.2,382.2h0M743.3,387.6h0M743.4,385.7h0M743.6,381.9h0M743.7,381.5h0M743.8,383.5h0M743.9,382.7h0M744,384.7h0M744.1,379.1h0M744.2,386.2h0M744.3,382.2h0M744.4,385.8h0M744.5,386.5h0M744.7,381.6h0M744.8,381.6h0M744.9,383.5h0M745,384.4h0M745.1,385.1h0M745.2,383.4h0M745.3,383.5h0M745.4,385.4h0M745.5,384.5h0M745.6,384.6h0M745.8,384.2h0M745.9,381.8h0M746,378.8h0M746.1,382.1h0M746.2,382.7h0M746.3,382.1h0M746.4,378.7h0M746.5,381.1h0M746.6,375h0M746.7,382.6h0M746.9,381.2h0M747,377.2h0M747.1,377h0M747.2,375h0M747.3,376.2h0M747.4,372.9h0M747.5,374.7h0M747.6,373h0M747.7,377.4h0M747.8,376.9h0M748,372.7h0M748.1,375.9h0M748.2,375.4h0M748.3,374.5h0M748.4,377.7h0M748.5,371.2h0M748.6,378.7h0M748.7,378.3h0M748.8,379.2h0M748.9,380.9h0M749.1,380.7h0M749.2,380.9h0M749.3,380.4h0M749.4,380.6h0M749.5,378.2h0M749.6,379.4h0M749.7,380.6h0M749.8,380.9h0M749.9,380.2h0M750,381.2h0M750.2,376.5h0M750.3,380.1h0M750.4,378.6h0M750.5,380.4h0M750.6,379h0M750.7,377.6h0M750.8,377.4h0M750.9,378.6h0M751,378.7h0M751.1,381.2h0M751.3,373h0M751.4,378.3h0M751.5,375.2h0M751.6,375.6h0M751.7,378.4h0M751.8,372.2h0M751.9,370h0M752,372.7h0M752.1,372.8h0M752.2,372.7h0M752.4,371.5h0M752.5,372.5h0M752.6,375h0M752.7,377.2h0M752.8,377h0M752.9,378.6h0M753,378.9h0M753.1,369.6h0M753.2,379.5h0M753.3,378.6h0M753.5,380.8h0M753.6,379.2h0M753.7,372.9h0M753.8,377.5h0M753.9,378.4h0M754,368.2h0M754.1,379h0M754.2,377.6h0M754.3,379.9h0M754.4,370.9h0M754.6,371.8h0M754.7,367.9h0M754.8,368.5h0M754.9,371.2h0M755,371.5h0M755.1,371.8h0M755.2,374.4h0M755.3,374.4h0M755.4,364.3h0M755.5,379.2h0M755.7,378.5h0M755.8,378h0M755.9,367.4h0M756,379.2h0M756.1,379.1h0M756.2,376.2h0M756.3,373.4h0M756.4,375.4h0M756.5,367.7h0M756.6,378.2h0M756.8,364.5h0M756.9,363.8h0M757,374.3h0M757.1,371.5h0M757.2,370.6h0M757.3,370.1h0M757.4,365h0M757.5,370h0M757.6,379.7h0M757.7,370h0M757.9,371.8h0M758,374.7h0M758.1,375.9h0M758.2,380.9h0M758.3,380.9h0M758.4,380.2h0M758.5,377.5h0M758.6,372.1h0M758.7,374.1h0M758.8,375.3h0M759,375.5h0M759.1,374.8h0M759.2,378.7h0M759.3,366.8h0M759.4,365.4h0M759.5,376.3h0M759.6,372.5h0M759.7,367.9h0M759.8,370.9h0M759.9,367.4h0M760.1,381.1h0M760.2,374.2h0M760.3,373.5h0M760.4,375.9h0M760.5,378.1h0M760.6,372.5h0M760.7,379.1h0M760.8,377.1h0M760.9,377.8h0M761,376.4h0M761.2,373.6h0M761.3,376.4h0M761.4,372.2h0M761.5,378.3h0M761.6,360.7h0M761.7,373.9h0M761.8,368.2h0M761.9,377.8h0M762,379.1h0M762.1,375.6h0M762.3,375.8h0M762.4,379.2h0M762.5,371.8h0M762.6,373.7h0M762.7,379.9h0M762.8,378.5h0M762.9,380.1h0M763,380.6h0M763.1,379.6h0M763.2,368.9h0M763.4,378.7h0M763.5,379.3h0M763.6,378.4h0M763.7,377.3h0M763.8,378.6h0M763.9,373.1h0M764,380h0M764.1,379.4h0M764.2,378.5h0M764.3,369.2h0M764.5,375.6h0M764.6,377.6h0M764.7,378.9h0M764.8,377.7h0M764.9,376.9h0M765,379.1h0M765.1,377h0M765.2,376.9h0M765.3,378.8h0M765.4,377.8h0M765.6,371.1h0M765.7,373.8h0M765.8,363h0M765.9,374h0M766,373.6h0M766.1,360.1h0M766.2,370h0M766.3,372.7h0M766.4,359.8h0M766.5,376.7h0M766.7,375.7h0M766.8,364.2h0M766.9,371.2h0M767,375.7h0M767.1,376.3h0M767.2,370.2h0M767.3,367.5h0M767.4,367.2h0M767.5,369.3h0M767.6,372.8h0M767.8,360.8h0M767.9,372.8h0M768,373.1h0M768.1,372.2h0M768.2,370.9h0M768.3,370.6h0M768.4,371.4h0M768.5,370.4h0M768.6,371h0M768.7,371.2h0M768.9,369.4h0M769,373.4h0M769.1,362h0M769.2,377.5h0M769.3,376.3h0M769.4,378.4h0M769.5,381.3h0M769.6,379.5h0M769.7,379h0M769.8,380.4h0M770,378.2h0M770.1,382.3h0M770.2,382.9h0M770.3,383.5h0M770.4,381.1h0M770.5,384.5h0M770.6,381.7h0M770.7,380.4h0M770.8,379.4h0M770.9,379.5h0M771.1,376.4h0M771.2,375h0M771.3,376.9h0M771.4,377.2h0M771.5,377.9h0M771.6,386.8h0M771.7,382.3h0M771.8,385.2h0M771.9,385.8h0M772,374.6h0M772.2,376.5h0M772.3,385h0M772.4,382.1h0M772.5,379.9h0M772.6,386.1h0M772.7,386.8h0M772.8,389.9h0M772.9,386.6h0M773,384.4h0M773.1,385.5h0M773.3,380.4h0M773.4,385h0M773.5,387h0M773.6,387.6h0M773.7,388.1h0M773.8,389h0M773.9,388.8h0M774,389.7h0M774.1,383.1h0M774.2,390.8h0M774.4,391h0M774.5,382.5h0M774.6,392.9h0M774.7,392.8h0M774.8,392.4h0M774.9,385.1h0M775,381.8h0M775.1,392.6h0M775.2,393.6h0M775.3,392.1h0M775.5,391.4h0M775.6,390.7h0M775.7,385.7h0M775.8,386.1h0M775.9,387.8h0M776,389.7h0M776.1,387.6h0M776.2,390.2h0M776.3,386.4h0M776.4,388.9h0M776.6,388.4h0M776.7,389.7h0M776.8,390h0M776.9,394.5h0M777,393.6h0M777.1,394.6h0M777.2,394.5h0M777.3,392.7h0M777.4,393.9h0M777.5,392.8h0M777.7,393h0M777.8,388h0M777.9,386.3h0M778,391.2h0M778.1,390h0M778.2,390.7h0M778.3,386.3h0M778.4,385h0M778.5,385.9h0M778.6,387.9h0M778.8,390.8h0M778.9,385.3h0M779,393.5h0M779.1,390.8h0M779.2,393.2h0M779.3,384.3h0M779.4,394.9h0M779.5,390h0M779.6,388.8h0M779.7,389.9h0M779.9,389.7h0M780,390.2h0M780.1,391h0M780.2,389h0M780.3,390.9h0M780.4,393.8h0M780.5,389.5h0M780.6,387.7h0M780.7,389.6h0M780.8,394.3h0M781,384.9h0M781.1,389.5h0M781.2,383.9h0M781.3,384.2h0M781.4,382.6h0M781.5,383.7h0M781.6,383.7h0M781.7,385.9h0M781.8,387.5h0M781.9,388.2h0M782.1,384.1h0M782.2,382.3h0M782.3,391.5h0M782.4,384h0M782.5,382.2h0M782.6,382.6h0M782.7,383.6h0M782.8,383.6h0M782.9,386.2h0M783,386.9h0M783.2,384.4h0M783.3,385.9h0M783.4,383.2h0M783.5,382.1h0M783.6,380.8h0M783.7,388.5h0M783.8,383.5h0M783.9,380.1h0M784,379.8h0M784.1,380h0M784.3,389.9h0M784.4,379.7h0M784.5,383.4h0M784.6,381.1h0M784.7,383.4h0M784.8,379.3h0M784.9,382.4h0M785,382.7h0M785.1,383.7h0M785.2,383h0M785.4,380.1h0M785.5,386.8h0M785.6,379.9h0M785.7,390h0M785.8,384h0M785.9,384.9h0M786,383.4h0M786.1,387.4h0M786.2,386.6h0M786.3,386.4h0M786.5,385.1h0M786.6,376.5h0M786.7,380.8h0M786.8,377h0M786.9,374.6h0M787,379.8h0M787.1,376.5h0M787.2,375.2h0M787.3,373.8h0M787.4,377.1h0M787.6,383h0M787.7,373.1h0M787.8,374.2h0M787.9,383.3h0M788,372.7h0M788.1,377.2h0M788.2,378.9h0M788.3,376.8h0M788.4,377.2h0M788.5,376.7h0M788.7,375.8h0M788.8,380.2h0M788.9,382.9h0M789,370.4h0M789.1,380.9h0M789.2,374.4h0M789.3,373.7h0M789.4,371.5h0M789.5,366.5h0M789.6,371.7h0M789.8,372.5h0M789.9,377.3h0M790,369.8h0M790.1,366.3h0M790.2,363.8h0M790.3,360.9h0M790.4,358.6h0M790.5,358h0M790.6,358.8h0M790.7,371.6h0M790.9,360.8h0M791,358.3h0M791.1,359.4h0M791.2,361.2h0M791.3,358.8h0M791.4,355.3h0M791.5,369.4h0M791.6,358.6h0M791.7,357.5h0M791.8,356.6h0M792,357.9h0M792.1,354.6h0M792.2,351.6h0M792.3,350.9h0M792.4,352.5h0M792.5,351.4h0M792.6,349.4h0M792.7,348.2h0M792.8,351.7h0M792.9,348.2h0M793.1,351.2h0M793.2,349.4h0M793.3,352.1h0M793.4,356.1h0M793.5,353.8h0M793.6,355.1h0M793.7,356.8h0M793.8,359.5h0M793.9,358.5h0M794,361.2h0M794.2,361.2h0M794.3,358.6h0M794.4,360.7h0M794.5,360h0M794.6,359.7h0M794.7,359.2h0M794.8,360.8h0M794.9,356.8h0M795,353.6h0M795.1,345.9h0M795.3,359.3h0M795.4,356.9h0M795.5,358h0M795.6,357.9h0M795.7,358.6h0M795.8,355.9h0M795.9,351.8h0M796,350.5h0M796.1,347.2h0M796.2,346.6h0M796.4,343.8h0M796.5,348.9h0M796.6,347.9h0M796.7,353.6h0M796.8,347.7h0M796.9,347.1h0M797,343.6h0M797.1,349h0M797.2,343.6h0M797.3,346.7h0M797.5,347h0M797.6,350h0M797.7,350.5h0M797.8,349.5h0M797.9,349h0M798,350.9h0M798.1,348.9h0M798.2,350.4h0M798.3,347.4h0M798.4,350.2h0M798.6,345.6h0M798.7,347.5h0M798.8,350.4h0M798.9,351.9h0M799,345.7h0M799.1,345.9h0M799.2,348.1h0M799.3,345.5h0M799.4,354.9h0M799.5,349.8h0M799.7,354.5h0M799.8,345.3h0M799.9,349.1h0M800,351.5h0M800.1,345.9h0M800.2,347.6h0M800.3,352.8h0M800.4,341.8h0M800.5,341.2h0M800.6,344.9h0M800.8,344.3h0M800.9,343.8h0M801,345.1h0M801.1,343h0M801.2,339.8h0M801.3,344.9h0M801.4,340.2h0M801.5,339.9h0M801.6,351.9h0M801.7,339.4h0M801.9,354.9h0M802,340.2h0M802.1,344.6h0M802.2,341.4h0M802.3,349.7h0M802.4,350.7h0M802.5,343.7h0M802.6,341h0M802.7,342h0M802.8,340.9h0M803,339.9h0M803.1,338.5h0M803.2,334.3h0M803.3,338.7h0M803.4,340.3h0M803.5,335.9h0M803.6,344h0M803.7,349h0M803.8,348.9h0M803.9,332.5h0M804.1,351h0M804.2,349.2h0M804.3,349.2h0M804.4,339.9h0M804.5,348.8h0M804.6,349.9h0M804.7,352.4h0M804.8,349.6h0M804.9,349.2h0M805,332.4h0M805.2,348.3h0M805.3,350.7h0M805.4,353.7h0M805.5,352.3h0M805.6,342h0M805.7,351.3h0M805.8,351h0M805.9,351h0M806,343.7h0M806.1,352.1h0M806.3,351h0M806.4,347.1h0M806.5,352.2h0M806.6,350.7h0M806.7,352.1h0M806.8,349.5h0M806.9,353.3h0M807,351.8h0M807.1,349.4h0M807.2,349h0M807.4,351h0M807.5,345.8h0M807.6,349.2h0M807.7,330.6h0M807.8,352.9h0M807.9,353.5h0M808,328.2h0M808.1,353.1h0M808.2,352.5h0M808.3,349.9h0M808.5,351.7h0M808.6,332.3h0M808.7,339.5h0M808.8,349.9h0M808.9,347h0M809,347h0M809.1,345h0M809.2,344.2h0M809.3,341.2h0M809.4,338h0M809.6,337.1h0M809.7,332.4h0M809.8,340.3h0M809.9,341.9h0M810,334.6h0M810.1,345.8h0M810.2,346.6h0M810.3,346h0M810.4,336.9h0M810.5,348.9h0M810.7,345.6h0M810.8,347.3h0M810.9,346.9h0M811,343.1h0M811.1,350.7h0M811.2,343.1h0M811.3,350.1h0M811.4,345.2h0M811.5,348.7h0M811.6,350.8h0M811.8,347.2h0M811.9,344.8h0M812,345.9h0M812.1,343.9h0M812.2,342.6h0M812.3,343.5h0M812.4,344h0M812.5,341.5h0M812.6,338.3h0M812.7,343.4h0M812.9,352.7h0M813,339.4h0M813.1,342.2h0M813.2,349.1h0M813.3,349.1h0M813.4,337.5h0M813.5,342.2h0M813.6,342.3h0M813.7,337.6h0M813.8,336.5h0M814,338h0M814.1,347.3h0M814.2,340.7h0M814.3,343.1h0M814.4,347.7h0M814.5,341.3h0M814.6,340.4h0M814.7,339.4h0M814.8,339.9h0M814.9,341.7h0M815.1,337.4h0M815.2,341.5h0M815.3,340.6h0M815.4,349h0M815.5,347.7h0M815.6,344h0M815.7,341.1h0M815.8,341.3h0M815.9,345.1h0M816,345.7h0M816.2,351.5h0M816.3,346.9h0M816.4,350.2h0M816.5,345.4h0M816.6,345.7h0M816.7,343.5h0M816.8,344.8h0M816.9,347.7h0M817,346.8h0M817.1,345.7h0M817.3,344h0M817.4,345.9h0M817.5,345.6h0M817.6,346.7h0M817.7,349.4h0M817.8,348.7h0M817.9,348h0M818,347.4h0M818.1,351.1h0M818.2,350.8h0M818.4,351h0M818.5,350.3h0M818.6,351.2h0M818.7,351.5h0M818.8,348.7h0M818.9,351h0M819,351.6h0M819.1,349.1h0M819.2,336.3h0M819.3,351.2h0M819.5,347.9h0M819.6,348.6h0M819.7,350.2h0M819.8,348.1h0M819.9,347.9h0M820,349.1h0M820.1,351.5h0M820.2,349.9h0M820.3,349.4h0M820.4,347.5h0M820.6,350.5h0M820.7,346.4h0M820.8,348h0M820.9,346.2h0M821,346.7h0M821.1,343.9h0M821.2,337.9h0M821.3,343.3h0M821.4,344.3h0M821.5,340.9h0M821.7,338.3h0M821.8,337.9h0M821.9,339.5h0M822,338.9h0M822.1,349h0M822.2,341.2h0M822.3,343.1h0M822.4,344.4h0M822.5,337.4h0M822.6,337.5h0M822.8,350.4h0M822.9,349.8h0M823,338.5h0M823.1,337.1h0M823.2,344.4h0M823.3,340.8h0M823.4,345.2h0M823.5,337.1h0M823.6,340.7h0M823.7,344h0M823.9,341.6h0M824,338.6h0M824.1,336.6h0M824.2,338.1h0M824.3,335.5h0M824.4,336.1h0M824.5,335.6h0M824.6,335.7h0M824.7,337.2h0M824.8,334.3h0M825,336.5h0M825.1,336.4h0M825.2,333.8h0M825.3,334.6h0M825.4,344.3h0M825.5,339.9h0M825.6,340.9h0M825.7,329.3h0M825.8,338.9h0M825.9,344.2h0M826.1,325.3h0M826.2,344.2h0M826.3,341.9h0M826.4,325.2h0M826.5,336.8h0M826.6,331.8h0M826.7,343.1h0M826.8,325.4h0M826.9,324.2h0M827,322.3h0M827.2,319.1h0M827.3,318.3h0M827.4,319.5h0M827.5,316.8h0M827.6,324.5h0M827.7,323.2h0M827.8,319.1h0M827.9,320.3h0M828,322.6h0M828.1,334.3h0M828.3,320.1h0M828.4,311.5h0M828.5,326.1h0M828.6,322.5h0M828.7,322.2h0M828.8,309.7h0M828.9,323.3h0M829,319.7h0M829.1,316.5h0M829.2,318.4h0M829.4,322.1h0M829.5,324.3h0M829.6,311.8h0M829.7,317.5h0M829.8,312.9h0M829.9,308.4h0M830,305.4h0M830.1,319.7h0M830.2,320.4h0M830.3,318.3h0M830.5,308.2h0M830.6,318.2h0M830.7,314.4h0M830.8,315.6h0M830.9,313.6h0M831,302.2h0M831.1,314.1h0M831.2,299.5h0M831.3,308.3h0M831.4,311.6h0M831.6,308.7h0M831.7,299.3h0M831.8,304.3h0M831.9,303.6h0M832,304.3h0M832.1,305.5h0M832.2,302.3h0M832.3,299.2h0M832.4,293.3h0M832.5,291.7h0M832.7,296.6h0M832.8,306.5h0M832.9,296.2h0M833,290.1h0M833.1,287.7h0M833.2,287.7h0M833.3,292h0M833.4,290.8h0M833.5,291.8h0M833.6,289.1h0M835.3,277.4h0M835.4,262.6h0M835.4,276.2h0M835.5,266.3h0M835.6,280h0M835.6,278.1h0M835.7,278h0M835.8,277h0M835.8,285.2h0M835.9,284.8h0M836,284.2h0M836.1,262h0M836.1,286.2h0M836.2,284.4h0M836.3,278.8h0M836.3,280.1h0M836.4,282.3h0M836.5,279.3h0M836.5,284.5h0M836.6,281.4h0M836.7,274.6h0M836.8,276.9h0M836.8,270.2h0M836.9,268.9h0M837,268.1h0M837,260.9h0M837.1,269.6h0M837.2,268.5h0M837.2,258.6h0M837.3,280.1h0M837.4,279.6h0M837.5,282.7h0M837.5,271.9h0M837.6,285.2h0M837.7,281.6h0M837.7,281.8h0M837.8,281.4h0M837.9,283.8h0M837.9,261.1h0M838,261.7h0M838.1,258.7h0M838.2,270.8h0M838.2,266.2h0M838.3,275.8h0M838.4,270.3h0M838.4,270.4h0M838.5,261h0M838.6,260.7h0M838.6,260.1h0M838.7,257.2h0M838.8,264.6h0M838.9,274.6h0M838.9,268.6h0M839,266.6h0M839.1,262.1h0M839.1,276.2h0M839.2,281.9h0M839.3,282.3h0M839.3,275h0M839.4,267.9h0M839.5,272.5h0M839.6,279.8h0M839.6,269.4h0M839.7,271.4h0M839.8,273.6h0M839.8,258.7h0M839.9,276.4h0M840,276.7h0M840,264.3h0M840.1,278.4h0M840.2,275.3h0M840.3,276.7h0M840.3,271.8h0M840.4,271.1h0M840.5,274.7h0M840.5,273h0M840.6,279.9h0M840.7,262.6h0M840.7,268.3h0M840.8,280.4h0M840.9,272.9h0M841,276.8h0M841,280.2h0M841.1,281.2h0M841.2,278.8h0M841.2,279h0M841.3,282.2h0M841.4,264.6h0M841.4,281.1h0M841.5,276.5h0M841.6,277.3h0M841.7,280.5h0M841.7,283.5h0M841.8,269.8h0M841.9,266.7h0M841.9,281.1h0M842,284h0M842.1,283.2h0M842.1,273.6h0M842.2,285.2h0M842.3,272.6h0M842.4,265.4h0M842.4,279.6h0M842.5,280.7h0M842.6,281h0M842.6,275h0M842.7,279.5h0M842.8,280.9h0M842.8,275.9h0M842.9,274.1h0M843,278.8h0M843.1,274h0M843.1,269.2h0M843.2,275.5h0M843.3,276.1h0M843.3,288.9h0M843.4,279h0M843.5,279.6h0M843.5,266.3h0M843.6,286.3h0M843.7,284.7h0M843.8,287.7h0M843.8,282.7h0M843.9,275.9h0M844,280.7h0M844,292.7h0M844.1,278.5h0M844.2,273.3h0M844.2,295h0M844.3,273.2h0M844.4,267.6h0M844.5,270h0M844.5,268.3h0M844.6,273h0M844.7,273h0M844.7,285.1h0M844.8,295h0M844.9,284h0M844.9,286.4h0M845,273.9h0M845.1,279.3h0M845.2,281.1h0M845.2,290.1h0M845.3,289.9h0M845.4,278.1h0M845.4,279.4h0M845.5,273.8h0M845.6,286.4h0M845.6,298.7h0M845.7,278.2h0M845.8,292.6h0M845.9,294.4h0M845.9,275.7h0M846,274.6h0M846.1,297.2h0M846.1,283.2h0M846.2,277.2h0M846.3,297.6h0M846.3,284.5h0M846.4,271.2h0M846.5,279.7h0M846.6,293.3h0M846.6,283.6h0M846.7,281.1h0M846.8,293h0M846.8,286.2h0M846.9,285.5h0M847,287h0M847,286.8h0M847.1,282.3h0M847.2,280.7h0M847.3,293.4h0M847.3,276.4h0M847.4,295.9h0M847.5,287.6h0M847.5,278.4h0M847.6,283h0M847.7,272.3h0M847.7,277.7h0M847.8,276.6h0M847.9,277h0M848,275.6h0M848,274.1h0M848.1,273h0M848.2,272.6h0M848.2,274.1h0M848.3,274.9h0M848.4,272.9h0M848.4,273h0M848.5,272.7h0M848.6,273.8h0M848.7,282.7h0M848.7,277.3h0M848.8,274.1h0M848.9,276.2h0M848.9,273.6h0M849,284h0M849.1,279.4h0M849.1,274.4h0M849.2,282.9h0M849.3,277.8h0M849.4,277.4h0M849.4,278h0M849.5,275.1h0M849.6,277h0M849.6,275h0M849.7,274.7h0M849.8,292.6h0M849.8,286.2h0M849.9,274h0M850,278h0M850.1,278.3h0M850.1,277.6h0M850.2,285.9h0M874.8,278.4h0M874.9,281.9h0M874.9,277.9h0M875,277.4h0M875.1,276.5h0M875.1,286.4h0M875.2,287.8h0M875.3,288.7h0M875.3,276.4h0M875.4,276.3h0M875.5,292.3h0M875.6,275.8h0M875.6,280.5h0M875.7,278.1h0M875.8,284.2h0M875.8,283.8h0M875.9,292.2h0M876,287.2h0M876,280.2h0M876.1,290.5h0M876.2,283.7h0M876.3,276h0M876.3,288h0M876.4,278.2h0M876.5,281.9h0M876.5,277.4h0M876.6,282.4h0M876.7,275h0M876.7,286.8h0M876.8,292.2h0M876.9,275h0M877,276.1h0M877,274.4h0M877.1,274.7h0M877.2,277.5h0M877.2,279.5h0M877.3,280.3h0M877.4,279.7h0M877.4,279.4h0M877.5,279.8h0M877.6,290.3h0M877.7,274.6h0M877.7,284.8h0M877.8,274.7h0M877.9,278.6h0M877.9,280.1h0M878,276.8h0M878.1,283.3h0M878.1,276.1h0M878.2,280.8h0M878.3,281.8h0M878.4,285h0M878.4,288.6h0M878.5,284.5h0M878.6,282.5h0M878.6,287.6h0M878.7,287.3h0M878.8,285.2h0M878.8,283.3h0M878.9,282.9h0M879,274.1h0M879.1,283.2h0M879.1,281.1h0M879.2,286.1h0M879.3,281.6h0M879.3,281.7h0M879.4,290.8h0M879.5,278.2h0M879.5,286.8h0M879.6,282h0M879.7,279.2h0M879.8,275.5h0M879.8,281.2h0M879.9,278h0M880,283.6h0M880,284.5h0M880.1,278.3h0M880.2,287h0M880.2,291.8h0M880.3,281.5h0M880.4,289.6h0M880.5,282.6h0M880.5,283.6h0M880.6,276.8h0M880.7,273.6h0M880.7,274.8h0M880.8,282.7h0M880.9,277.5h0M880.9,279.4h0M881,280.1h0M881.1,282.3h0M881.2,288.3h0M881.2,279.5h0M881.3,274.7h0M881.4,279h0M881.4,274.9h0M881.5,279.4h0M881.6,288.3h0M881.6,273.9h0M881.7,281h0M881.8,281.9h0M881.9,287.5h0M881.9,283.7h0M882,281.8h0M882.1,284.9h0M882.1,287.8h0M882.2,286.6h0M882.3,285.1h0M882.3,288.7h0M882.4,275.7h0M882.5,273h0M882.6,282.7h0M882.6,283.5h0M882.7,286.4h0M882.8,286.3h0M882.8,273.2h0M882.9,282.6h0M883,277.3h0M883,273.4h0M883.1,278.5h0M883.2,284.8h0M883.3,285.1h0M883.3,273.3h0M883.4,287.1h0M883.5,286.6h0M883.5,275.7h0M883.6,282.1h0M883.7,285.7h0M883.7,283.2h0M883.8,284.2h0M883.9,273.4h0M884,280.7h0M884,282.9h0M884.1,272.4h0M884.2,272.9h0M884.2,275.2h0M884.3,277h0M884.4,282.8h0M884.4,277h0M884.5,274.4h0M884.6,273.9h0M884.7,277.6h0M884.7,283.4h0M884.8,277.1h0M884.9,275.8h0M884.9,276.5h0M885,275.8h0M885.1,282.4h0M885.1,281.3h0M885.2,282.2h0M885.3,278.6h0M885.4,278.5h0M885.4,277.5h0M885.5,282.4h0M885.6,281.7h0M885.6,281.3h0M885.7,276.1h0M885.8,276.2h0M885.8,274.8h0M885.9,281.1h0M886,278.9h0M886.1,276.7h0M886.1,284.1h0M886.2,277.5h0M886.3,280.3h0M886.3,282.3h0M886.4,279.8h0M886.5,280.2h0M886.5,278.6h0M886.6,284.3h0M886.7,278.9h0M886.8,281.7h0M886.8,282.6h0M886.9,274.1h0M887,284.8h0M887,277.5h0M887.1,283.7h0M887.2,278.3h0M887.2,285.9h0M887.3,287.2h0M887.4,273h0M887.5,286.1h0M887.5,285.6h0M887.6,275.5h0M887.7,285.5h0M887.7,277.3h0M887.8,277h0M887.9,274.2h0M887.9,289.3h0M888,280h0M888.1,283h0M888.2,272.5h0M888.2,276h0M888.3,280.6h0M888.4,292.2h0M888.4,274.9h0M888.5,290.1h0M888.6,281.6h0M888.6,278.1h0M888.7,272.7h0M888.8,280h0M888.9,288.6h0M888.9,283.1h0M889,277.9h0M889.1,282.1h0M889.1,286.8h0M889.2,285.4h0M889.3,276.3h0M889.3,279.7h0M889.4,282.6h0M889.5,282.5h0M889.6,293.2h0M889.6,282.1h0M889.7,278.2h0M889.8,286.8h0M889.8,285.7h0M889.9,273.7h0M890,273.5h0M890,285.8h0M890.1,287.4h0M890.2,274.2h0M890.3,287.9h0M890.3,278.3h0M890.4,284.5h0M890.5,282.7h0M890.5,281.1h0M890.6,282.1h0M890.7,280.3h0M890.7,280.5h0M890.8,283.5h0M890.9,280.3h0M891,288.8h0M891,292h0M891.1,289.4h0M891.2,289.3h0M891.2,289.1h0M891.3,277h0M891.4,287.6h0M891.4,283.7h0M891.5,272.5h0M891.6,284.1h0M891.7,277.3h0M891.7,277h0M891.8,285.9h0M891.9,290.4h0M891.9,279.9h0M892,274.2h0M892.1,284.5h0M892.1,292.5h0M892.2,288h0M892.3,286.6h0M892.4,285.7h0M892.4,284.4h0M892.5,271.5h0M892.6,271.9h0M892.6,294.7h0M892.7,280h0M892.8,277.9h0M892.8,275.8h0M892.9,280.3h0M893,281h0M893.1,281.6h0M893.1,274.1h0M893.2,277.5h0M893.3,282.9h0M893.3,282.8h0M893.4,283h0M893.5,282.6h0M893.5,278.7h0M893.6,281.5h0M893.7,283.4h0M893.8,275.7h0M893.8,288.9h0M893.9,291.8h0M894,281.3h0M894,279.3h0M894.1,272.8h0M894.2,277.9h0M894.2,278.3h0M894.3,278.5h0M894.4,278.7h0M894.5,287.3h0M894.5,277.5h0M894.6,277.6h0M894.7,290.7h0M894.7,279.7h0M894.8,273h0M894.9,283.5h0M894.9,286.3h0M895,282.1h0M895.1,274h0M895.2,292.9h0M895.2,275.5h0M895.3,282.5h0M895.4,277.1h0M895.4,284.7h0M895.5,278.7h0M895.6,292.1h0M895.6,279h0M895.7,279.4h0M895.8,281.7h0M895.9,278.6h0M895.9,276.6h0M896,283.3h0M896.1,284.8h0M896.1,293.2h0M896.2,282.8h0M896.3,291.1h0M896.3,292.9h0M896.4,273.3h0M896.5,284.2h0M896.6,284.2h0M896.6,286.5h0M896.7,281.2h0M896.8,279.5h0M896.8,291.4h0M896.9,280.4h0M897,286.2h0M897,277.9h0M897.1,287.9h0M897.2,289.4h0M897.3,276.6h0M897.3,273.4h0M897.4,276.4h0M897.5,279.6h0M897.5,278.7h0M897.6,280.3h0M897.7,271h0M897.7,289.6h0M897.8,275.9h0M897.9,279.2h0M898,276.2h0M898,274.2h0M898.1,287.8h0M898.2,284.1h0M898.2,285h0M898.3,274.6h0M898.4,282.1h0M898.4,273.7h0M898.5,274h0M898.6,275h0M898.7,278.7h0M898.7,277.5h0M898.8,277.1h0M898.9,277.2h0M898.9,280.4h0M899,282.8h0M899.1,280.2h0M899.1,277.3h0M899.2,283.6h0M899.3,289.1h0M899.4,272h0M899.4,286.7h0M899.5,287.3h0M899.6,287.2h0M899.6,286.6h0M899.7,285.6h0M899.8,284.1h0M899.8,282.6h0M899.9,278.9h0M900,280.2h0M900.1,270.9h0M900.1,287.7h0M900.2,280.1h0M900.3,292.1h0M900.3,293.4h0M900.4,271.1h0M900.5,277.4h0M900.5,273.6h0M900.6,289.3h0M900.7,281.7h0M900.8,273.3h0M900.8,288.6h0M900.9,269.5h0M901,296.3h0M901,293.7h0M901.1,294h0M901.2,267.9h0M901.2,268.1h0M901.3,271.5h0M901.4,273.8h0M901.5,282.2h0M901.5,296.8h0M901.6,292h0M901.7,289.3h0M901.7,276.2h0M145.8,315h0M145.8,324.2h0M145.9,310.3h0M146,320.6h0M146.1,321.9h0M146.1,313.6h0M146.2,322.2h0M146.3,309.6h0M146.3,314.8h0M146.4,320.9h0M146.5,310.7h0M146.5,318.2h0M146.6,314.9h0M146.7,316.8h0M146.8,319.1h0M146.8,319.2h0M146.9,313.3h0M147,316.9h0M147,319.1h0M147.1,319.6h0M147.2,322.1h0M147.2,308.5h0M147.3,319.3h0M147.4,320.9h0M147.5,315h0M147.5,308.1h0M147.6,313.5h0M147.7,316.2h0M147.7,310.2h0M147.8,315.1h0M147.9,315.6h0M147.9,313.5h0M148,311.4h0M148.1,315.6h0M148.2,312.4h0M148.2,309.6h0M148.3,309.6h0M148.4,310h0M148.4,309.4h0M148.5,307.7h0M148.6,312.5h0M148.6,313.9h0M148.7,314.8h0M148.8,306.1h0M148.9,312.5h0M148.9,318.3h0M149,304.8h0M149.1,318.4h0M149.1,312.8h0M149.2,311.5h0M149.3,312.2h0M149.3,312.3h0M149.4,318.1h0M149.5,316.8h0M149.6,318.3h0M149.6,315.9h0M149.7,315.1h0M149.8,312.8h0M149.8,319h0M149.9,312.8h0M150,316.6h0M150,320.3h0M150.1,317.9h0M150.2,317.1h0M150.3,321.1h0M150.3,306.1h0M150.4,308.2h0M150.5,320h0M150.5,311.7h0M150.6,307.4h0M150.7,308.4h0M150.7,305.9h0M150.8,305.5h0M150.9,305.4h0M151,305.9h0M151,307.8h0M151.1,310.6h0M151.2,318.5h0M151.2,309.2h0M151.3,310.2h0M151.4,312.6h0M151.4,311.8h0M151.5,306.9h0M151.6,308.6h0M151.7,314.9h0M151.7,311.3h0M151.8,313.4h0M151.9,316h0M151.9,305.1h0M152,316.3h0M152.1,320.2h0M152.1,322.1h0M152.2,315.1h0M152.3,319.6h0M152.4,310.5h0M152.4,318.8h0M152.5,317.1h0M152.6,314.7h0M152.6,316.2h0M152.7,305.5h0M152.8,309.8h0M152.8,308.9h0M152.9,312.1h0M153,309.4h0M153.1,311.1h0M153.1,306.1h0M153.2,305.1h0M153.3,318.6h0M153.3,304.6h0M153.4,319h0M153.5,308.1h0M153.5,319.1h0M153.6,320.3h0M153.7,312h0M153.8,309.4h0M153.8,314.8h0M153.9,317.7h0M154,307.7h0M154,318.4h0M154.1,320.8h0M154.2,321.6h0M154.2,320.7h0M154.3,321.5h0M154.4,321.4h0M154.5,316.4h0M154.5,316.5h0M154.6,321.3h0M154.7,315.6h0M154.7,311.2h0M154.8,317h0M154.9,305.6h0M154.9,315.6h0M155,321h0M155.1,318.7h0M155.2,318.5h0M155.2,310.9h0M155.3,313.2h0M155.4,317.6h0M155.4,311.9h0M155.5,317.5h0M155.6,308.2h0M155.6,306.1h0M155.7,306.4h0M155.8,305.4h0M155.9,317h0M155.9,312.4h0M156,312.1h0M156.1,313.4h0M156.1,312.9h0M156.2,309.4h0M158.3,272.5h0M158.3,276.3h0M158.4,286h0M158.5,287.1h0M158.6,273.2h0M158.6,274.5h0M158.7,273.8h0M158.8,290.7h0M158.8,288.9h0M158.9,283.5h0M159,279.4h0M159,275.8h0M159.1,290.3h0M159.2,282.6h0M159.3,276.6h0M159.3,291.3h0M159.4,288.8h0M159.5,283.2h0M159.5,281h0M159.6,286.3h0M159.7,280.5h0M159.7,289.5h0M159.8,276.8h0M159.9,278.6h0M160,281.1h0M160,283.2h0M160.1,279.9h0M160.2,286.2h0M160.2,282.9h0M160.3,280.6h0M160.4,273.9h0M160.4,274h0M160.5,273.7h0M160.6,277.7h0M160.7,288h0M160.7,291.8h0M160.8,273.5h0M160.9,282.4h0M160.9,280.5h0M161,281.6h0M161.1,274.7h0M161.1,291.4h0M161.2,281.5h0M161.3,288.9h0M161.4,274.2h0M161.4,290.8h0M161.5,283.6h0M161.6,275h0M161.6,279.1h0M161.7,278.2h0M161.8,272.6h0M161.8,287.4h0M161.9,274.3h0M162,283.4h0M162.1,288.5h0M162.1,278.4h0M162.2,291.7h0M162.3,285h0M162.3,286.9h0M162.4,281.7h0M162.5,283.1h0M162.5,280.9h0M162.6,281.7h0M162.7,285.5h0M691.1,393.1h0M690.7,393.6h0M690.7,395.3h0M690.8,395.5h0M691.3,396.4h0M691.3,397.7h0M690.9,398.9h0M691.6,399.9h0M691.7,400.6h0M691.8,400.7h0M691.1,402h0M691.7,403.2h0M691.3,403.8h0M691.3,405h0M691.8,405.9h0M692,406.3h0M691.5,408.1h0M691.9,408.6h0M691.6,409.3h0M691.8,409.9h0M692.1,411.3h0M692.4,411.8h0M692.1,413.3h0M691.9,414.1h0M691.9,414.9h0M692.3,415.6h0M692.2,416.9h0M691.8,418.1h0M691.9,419h0M692.5,419h0M692.4,420.5h0M692.4,421.4h0M692.7,422.7h0M692.6,422.7h0M692.5,423.8h0M692.3,424.7h0M692.1,426.4h0M692.1,427.2h0M692.2,428.1h0M692.4,428.9h0M692.9,429.5h0M692.5,430.2h0M140.1,370.9h0M140.3,369.8h0M141.2,369.4h0M140.2,367.8h0M140.3,366.9h0M141,366.3h0M140.5,365.9h0M141.1,365.1h0M141,364h0M141.5,362.4h0M141.9,362.3h0M141,361.2h0M141.6,360.2h0M141.3,359h0M141.5,358.3h0M141.6,358h0M140.7,356.5h0M140.8,355.4h0M141.5,354.7h0M141.4,354.3h0M141.9,353.4h0M141.9,352.1h0M141.9,351.4h0M141.5,350.8h0M143,349.3h0M142.7,348.3h0M143,347.1h0M141.9,346.8h0M143.1,346.1h0M143.2,344.8h0M143.5,344h0M142.1,343.6h0M142.2,342.4h0M142.2,341.4h0M142.8,340.5h0M142.3,339.9h0M143.8,338.8h0M143.4,337.3h0M144.1,336.5h0M143.1,336.1h0M143.8,334.7h0M144.7,334.4h0M144.4,333.6h0M143.8,332.6h0M144.6,331.9h0M145.1,330.6h0M144.7,329.3h0M145.2,329.2h0M145.3,328.1h0M144.1,327h0M144.5,326.4h0M144.2,325.5h0M145.2,324.5h0M145.9,323.9h0M146,322.3h0M145,321.4h0M146,320.9h0M145.7,319.7h0M151.7,287.4h0M152.1,288.8h0M151.9,289.7h0M151.5,290.2h0M151.9,291.2h0M151.7,292.3h0M151.9,293.4h0M151.4,294.6h0M151.6,294.9h0M151.4,295.7h0M151.6,297.6h0M151.8,298.4h0M151.7,299.3h0M151.4,299.9h0M162.4,323.2h0M164.5,324.8h0M161.9,325.4h0M163.9,326.7h0M163.3,326.8h0M163.2,327.8h0M163.6,328.9h0M164.5,330.3h0M164.4,330.4h0M166,331.5h0M164.3,333.1h0M164.6,333.4h0M165,334.7h0M165.6,335.9h0M166.9,336.8h0M166.2,337.3h0M165.3,337.8h0M166.2,339.4h0M165.7,340.1h0M165.9,340.7h0M166.4,341.5h0M166.6,343.1h0M166.9,343.8h0M167.4,344.4h0M166.1,345.3h0M168.2,355.1h0M167.9,355.6h0M168.5,356.5h0M168.7,357.7h0M168.5,359h0M168.8,359.9h0M169.1,360.4h0M168.9,361.4h0M169.1,362.6h0M169.1,363.6h0M169.3,363.9h0M169.6,365.4h0M169.5,366.4h0M169.5,366.7h0M169.4,367.5h0M169.2,368.5h0M168.8,370.2h0M168.9,370.6h0M168.5,371.9h0M168.6,372.9h0M168.8,373.5h0M169.6,374.3h0M169.9,374.7h0M170.1,376.4h0M857,216.1h0M854.9,215.4h0M855.6,214.5h0M857.3,214.2h0M856.4,212.5h0M857.1,211.7h0M855.8,211.2h0M858,209.7h0M857.1,208.9h0M857.2,207.9h0M856.5,207.4h0M856.6,206.9h0M855.8,206.1h0M856.1,204.9h0M856.6,203.8h0M857,203h0M859.2,178.8h0M858.9,177.7h0M858,177.2h0M860,175.8h0M857.7,175.6h0M861,174.7h0M858.3,173.4h0M859,172.8h0M861.4,172.2h0M860.2,171.2h0M860.9,169.8h0M859.3,169.5h0M861,168.1h0M860.3,167.2h0M862.3,166.3h0M861.6,165.7h0M859.3,164.7h0M861.4,164.3h0M862.2,163.1h0M861,162.5h0M862.5,160.7h0M861.7,160h0M860.7,159.5h0M863.9,158.6h0M863,157.7h0M863.3,156.3h0M862.6,155.7h0M863.8,155h0M862.4,154.2h0M861.3,153.5h0M862.7,152h0M864.3,151.8h0M862.9,150.9h0M864.7,149.7h0M863.6,148.5h0M864.9,148.2h0M862.7,146.7h0M866.1,145.8h0M864.1,145.5h0M864.9,143.9h0M863.5,143.2h0M865.1,142.9h0M864.8,141.2h0M865.7,140.6h0M865.8,139.7h0M867,161h0M867.1,161.7h0M866.6,162.8h0M867.2,171.6h0M866.9,173.4h0M866.8,174h0M866.9,174.6h0M867.2,176.1h0M867,177.4h0M866.8,178.3h0M868.7,98.3h0M869.1,97h0M868.6,96.6h0M869.5,94.9h0M868.2,94.9h0M869.7,93h0M869.1,92.4h0M869,92.2h0M869.1,90.9h0M868.9,89.8h0M869.7,89.1h0M870.1,88.1h0M869.3,87.7h0M869.6,86h0M869.2,85.8h0M868.9,84.6h0M868.9,84h0M870.1,82.3h0M870.3,81.8h0M868.8,80.6h0M870.5,79.5h0M871.9,39.6h0M871,40.5h0M871,41.5h0M872.3,42.3h0M873.1,43.3h0M871.8,43.6h0M871.3,45.1h0M871.8,45.5h0M873.1,46.7h0M873,47.6h0M873.6,48.4h0M873.7,49.5h0M872.3,50.6h0M873.1,50.8h0M872.2,52.4h0M873.6,53.2h0M873.9,53.7h0M873.3,54.7h0M874.4,55.9h0M874.4,57h0M872.7,57.8h0M872.6,58.3h0M872.6,59.3h0M872.8,60.5h0M873.2,61.6h0M872.7,62.5h0M873,63.4h0M874.8,64.1h0M885.6,253.8h0M885.2,254.8h0M884.2,255.3h0M883.5,255.9h0M882.4,256.5h0M882.2,257.2h0M881.5,258h0M881.6,259.1h0M882.1,259.3h0M881.5,260.2h0M882,261h0M881.5,262.6h0M881.3,263.7h0M882.2,264.1h0M881.9,265.6h0M881.5,266.4h0M881.5,266.7h0M882.2,268h0M880,292.7h0M880,294h0M880.2,294.7h0M879.9,296.1h0M880.1,296.5h0M879.7,297.9h0M880.5,298.4h0M880.2,299.1h0M880,300.1h0M880.1,301h0M879.8,301.5h0M880.4,303.2h0M880.4,304.2h0M880.4,304.5h0M880.3,305.2h0M880.3,306.9h0M879.6,307.3h0M879.7,308.4h0M879.8,309.7h0M880.3,309.8h0M879.6,310.9h0M902.6,299.5h0M902.3,301h0M902.8,302.1h0M902.6,303.2h0M903,303.5h0M903.1,304.4h0M902.7,305.5h0M903.3,306.8h0M902.6,307.3h0M903.4,308.2h0M902.5,309h0M902.7,309.9h0M903.2,310.6h0M903.5,312.2h0M904.2,312.4h0M904.3,313.5h0M904.3,314.8h0M905.1,316h0M905.2,316.4h0M904.4,317.2h0M905.3,318.6h0M905.1,318.9h0M905.8,320.1h0M905.4,321.3h0M906.3,321.6h0M906.4,323.1h0M905.5,323.2h0M906.4,324.6h0M906.4,325.4h0M907,326.1h0M906.9,327.1h0M907.2,327.8h0M907.2,329.1h0M907.9,330.2h0M916.1,330.7h0M915.8,329.5h0M915,328.4h0M916.5,327.4h0M918,326.9h0M915.5,326.6h0M914.6,328.1h0M916.3,328.9h0M916.7,329.6h0M916.7,330.5h0M915.7,331.2h0M915.8,326.3h0M916.2,325.8h0M916.9,466.6h0M918.1,465.4h0M919.8,465h0M919,463.9h0M919.9,463.6h0M921.4,463h0M921.2,462.2h0M920.7,461.5h0M922.6,460.7h0M923.5,460.2h0M922.9,459.6h0M923.3,458.5h0M925.6,457.9h0M924.2,457.6h0M925,457.2h0M927,456.7h0M927.7,455.5h0M928.6,455.6h0M928.2,455h0M929.7,454h0M929.5,453.9h0M930.4,453.3h0M932.5,453.1h0M933.9,452.7h0M934.1,454.1h0M933.8,454.5h0M933.8,455.6h0M933.8,455.7h0M933.9,456.7h0M920.8,462.9h0M921.5,462h0M922.9,462.1h0M923.2,461.3h0M924.2,460.6h0M924.3,460.3h0M926,459.4h0M926,459.5h0M927.6,458.5h0M928.6,458.7h0M929.3,458.8h0M930.1,458.6h0M931.4,458.6h0M932,458.6h0M932.9,458.1h0M934,457.6h0M935.2,457.7h0M929.6,452.5h0M930,453h0M931.1,452.4h0M931.8,452.8h0M907.2,334.5h0M907.2,338.5h0M908.8,345.5h0M908.4,351h0M908.5,357.8h0M909.4,348.2h0M910.8,342.5h0M912.2,338.2h0M913.6,334.6h0M121.5,410.2h0M121.6,402.5h0M122.2,399h0M121.8,395.5h0M123.2,401.5h0M122,392.5h0M157.5,298.5h0M162.5,301.5h0M153,327h0M153,331h0M153.5,353.3h0M172.2,414.2h0M306.4,431h0M428,356h0M428,364h0M611,378h0M868.5,118.3h0M850.6,262.5h0M851.5,254.5h0M851.8,246.8h0M852.2,239h0M852.5,230h0M853.2,221.8h0M879.5,347h0M879.5,320h0M879.5,326h0M880,309h0" stroke="#000" stroke-width="5.56" stroke-linecap="round" fill="none"/>
<path d="M120,349.7 120.4,350.3 120.8,350.5 121.2,350.5 121.6,350.5 122,348.6 122.5,347.9 122.9,344.4 123.3,343.1 123.7,340.4 124.1,341.1 124.5,340.2 124.9,340.4 125.3,339.3 125.7,340.7 126.1,340.6 126.6,342.1 127,341.8 127.4,343.1 127.8,343 128.2,344.1 128.6,343.6 129,344.7 129.4,344.3 129.8,344.9 130.2,344.5 130.7,344.1 131.1,342.2 131.5,342.2 131.9,341.9 132.3,343.2 132.7,342.7 133.1,343.9 133.5,343 133.9,344.1 134.3,342.6 134.8,343.1 135.2,343.1 135.6,343.1 136,343.3 136.4,345.2 136.8,344.7 137.2,346.3 137.6,345.2 138,347 138.4,347.3 138.9,348.6 139.3,347.8 139.7,346.9 140.1,344.6 140.5,344.3 140.9,341.8 141.3,342.2 141.7,340.6 142.1,341.3 142.5,339.8 143,340.6 143.4,338.8 143.8,339.4 144.2,338.8 144.6,339.4 145,337.8 145.4,340 145.8,339.8 146.2,345.1 146.6,347.8 147.1,354.9 147.5,358.4 147.9,365.1 148.3,365.6 148.7,366.6 149.1,366.3 149.5,367 149.9,364.6 150.3,364.3 150.7,363.4 151.2,363.8 151.6,363.1 152,364.6 152.4,364.6 152.8,366.2 153.2,366 153.6,366.3 154,365.9 154.4,366.6 154.8,366.6 155.3,367.8 155.7,366.3 156.1,367.6 156.5,367.1 156.9,368.1 157.3,367.7 157.7,370.1 158.1,369.7 158.5,371.1 158.9,371.5 159.4,373.1 159.8,372.6 160.2,375.5 160.6,375.6 161,378.3 161.4,377.9 161.8,379.9 162.2,380.6 162.6,383.1 163,383.3 163.5,386.4 163.9,386.9 164.3,388.1 164.7,386.1 165.1,384.4 165.5,382.2 165.9,381.8 166.3,379.6 166.7,379.1 167.1,377.7 167.6,379.4 168,378.1 168.4,379.3 168.8,378.7 169.2,381.1 169.6,380.6 170,381 170.4,380.6 170.8,382.7 171.2,382.6 171.7,384.1 172.1,383.4 172.5,385 172.9,384.5 173.3,385.5 173.7,385.7 174.1,386.2 174.5,385.2 174.9,386.6 175.3,385.6 175.8,387.3 176.2,387.1 176.6,387.6 177,388 177.4,389.6 177.8,388.5 178.2,389.3 178.6,388.9 179,390.4 179.4,389.8 179.9,391.4 180.3,391.4 180.7,393 181.1,393 181.5,393.9 181.9,393.6 182.3,393.4 182.7,391.5 183.1,391.1 183.5,390.1 184,389.5 184.4,389.1 184.8,389.6 185.2,387.9 185.6,388.8 186,388.6 186.4,389 186.8,387.6 187.2,390 187.6,391.5 188.1,394.6 188.5,396.3 188.9,399.5 189.3,401.9 189.7,406.6 190.1,408.7 190.5,413.7 190.9,416 191.3,417.3 191.7,415.8 192.2,416.2 192.6,414.4 193,414.8 193.4,413.9 193.8,415.5 194.2,414.5 194.6,416 195,415.9 195.4,416.9 195.8,416.6 196.3,417.2 196.7,417.3 197.1,417.7 197.5,417.2 197.9,418.1 198.3,417.7 198.7,418.3 199.1,417.5 199.5,418.9 199.9,419.4 200.4,420.8 200.8,421.3 201.2,423.4 201.6,422 202,424 202.4,424.8 202.8,427.1 203.2,427 203.6,429 204,429.2 204.5,431.3 204.9,431.8 205.3,433.5 205.7,433.2 206.1,435.6 206.5,436.2 206.9,438 207.3,436.5 207.7,436.1 208.1,433.9 208.6,434.1 209,431.5 209.4,431 209.8,429 210.2,429.8 210.6,430.1 211,430.9 211.4,431 211.8,432.1 212.2,430.8 212.7,433.2 213.1,432.4 213.5,433.8 213.9,433.7 214.3,436.3 214.7,434.9 215.1,436.8 215.5,437.2 215.9,438.6 216.3,436.9 216.8,438.2 217.2,437 217.6,437.9 218,437.2 218.4,437.5 218.8,436.5 219.2,438.4 219.6,437 220,439.1 220.4,439.2 220.9,440.2 221.3,440.1 221.7,441.5 222.1,441.7 222.5,442.8 222.9,442.8 223.3,444.2 223.7,443.3 224.1,444.5 224.5,444.2 225,445.5 225.4,443.3 225.8,444.1 226.2,441.9 226.6,442 227,439.4 227.4,440.2 227.8,438.7 228.2,438.3 228.6,436 229.1,436.7 229.5,435.1 229.9,435.4 230.3,433.7 230.7,434.2 231.1,433.3 231.5,437.7 231.9,439.6 232.3,444.1 232.7,446.5 233.2,450 233.6,452.6 234,456 234.4,454.8 234.8,455.1 235.2,454 235.6,453.5 236,452.6 236.4,451.9 236.8,450.8 237.3,451.7 237.7,450.4 238.1,450.5 238.5,449.2 238.9,450.7 239.3,448.7 239.7,450.1 240.1,448.5 240.5,449.4 240.9,449 241.4,449.4 241.8,448 242.2,448.2 242.6,448.3 243,449.5 243.4,448.9 243.8,450.8 244.2,449.2 244.6,451.2 245,450.7 245.5,451.7 245.9,452 246.3,452.6 246.7,453 247.1,454.7 247.5,453.8 247.9,455.8 248.3,455.9 248.7,458.2 249.1,457.3 249.6,456.5 250,453.8 250.4,452.2 250.8,450.5 251.2,449.5 251.6,447.5 252,446.9 252.4,445.9 252.8,445.9 253.2,444.6 253.7,444.5 254.1,443.5 254.5,443.6 254.9,443 255.3,442.9 255.7,442.1 256.1,442.5 256.5,441.5 256.9,442.5 257.3,441 257.8,441.9 258.2,440.3 258.6,441.8 259,439.9 259.4,441.2 259.8,440.4 260.2,439.5 260.6,438.7 261,439.6 261.4,438.9 261.9,438.9 262.3,438 262.7,438.2 263.1,437.4 263.5,437.4 263.9,436.9 264.3,436.2 264.7,435.3 265.1,437.3 265.5,435.5 266,435.7 266.4,435.6 266.8,435.8 267.2,434.6 267.6,434.6 268,433.8 268.4,433.3 268.8,430.2 269.2,430.6 269.6,428 270.1,428.1 270.5,425.8 270.9,424.7 271.3,422.9 271.7,423.5 272.1,422.1 272.5,422 272.9,420.6 273.3,421.1 273.7,421 274.2,425.6 274.6,427.7 275,431.7 275.4,433.8 275.8,439.1 276.2,439.2 276.6,439.7 277,438.4 277.4,438.5 277.8,437.6 278.3,437.1 278.7,436.3 279.1,436.4 279.5,435.7 279.9,435.5 280.3,433.6 280.7,434 281.1,432.7 281.5,432.8 281.9,431.8 282.4,432.3 282.8,432.1 283.2,431.9 283.6,429.9 284,431.5 284.4,430.9 284.8,430.3 285.2,430.8 285.6,430.3 286,429.7 286.5,429.9 286.9,429 287.3,429.5 287.7,428.5 288.1,428.9 288.5,429.1 288.9,429.1 289.3,429.6 289.7,431.6 290.1,431.4 290.6,433.7 291,433.8 291.4,435.7 291.8,436 292.2,436.5 292.6,433.1 293,431.9 293.4,429.1 293.8,428.3 294.2,425.8 294.7,424.7 295.1,421.6 295.5,422.5 295.9,421.1 296.3,422.1 296.7,420.6 297.1,421.4 297.5,419.9 297.9,420.7 298.3,420.2 298.8,419.8 299.2,419.1 299.6,419.5 300,418.9 300.4,419.7 300.8,417.6 301.2,417.3 301.6,417.2 302,417.7 302.4,415.5 302.9,416.5 303.3,415.3 303.7,415 304.1,414.8 304.5,415.5 304.9,414.4 305.3,414.8 305.7,413.9 306.1,414.7 306.5,414.1 307,414.4 307.4,414.2 307.8,414.7 308.2,412.3 308.6,413.6 309,411.1 309.4,410.7 309.8,409 310.2,408.2 310.6,407 311.1,405.9 311.5,404.5 311.9,405.3 312.3,403.5 312.7,403.1 313.1,401.3 313.5,402.2 313.9,400.2 314.3,400.5 314.7,399 315.2,398.6 315.6,397.6 316,396.7 316.4,399.6 316.8,402 317.2,404.1 317.6,407.3 318,409 318.4,411.9 318.8,412.9 319.3,416 319.7,417.1 320.1,419.3 320.5,416.7 320.9,416.5 321.3,414.7 321.7,415.4 322.1,413.5 322.5,413.5 322.9,411.8 323.4,412.1 323.8,410.7 324.2,411.1 324.6,409.8 325,411.6 325.4,410.3 325.8,410.1 326.2,409.2 326.6,410 327,409.1 327.5,408.8 327.9,407.7 328.3,408.6 328.7,406.2 329.1,407.1 329.5,406 329.9,406.3 330.3,406.7 330.7,407.5 331.1,406.8 331.6,407.7 332,407.8 332.4,409.1 332.8,408.2 333.2,409.7 333.6,409.2 334,411.4 334.4,411.6 334.8,413.4 335.2,413.1 335.7,414.4 336.1,410.4 336.5,408.8 336.9,405.9 337.3,404 337.7,400.1 338.1,399.6 338.5,398.7 338.9,399.5 339.3,398.3 339.8,398.8 340.2,398.2 340.6,399.4 341,397.9 341.4,398.4 341.8,397.7 342.2,397.7 342.6,396.6 343,396.6 343.4,395.5 343.9,395.4 344.3,394.1 344.7,394.8 345.1,392.4 345.5,392.8 345.9,392.1 346.3,392.6 346.7,391.4 347.1,391.8 347.5,391 348,391.5 348.4,389.7 348.8,391.2 349.2,390.4 349.6,391.5 350,389.8 350.4,390.6 350.8,390.3 351.2,390.4 351.6,389.7 352.1,390.5 352.5,388.6 352.9,388.1 353.3,385.7 353.7,386.3 354.1,383.8 354.5,383.6 354.9,382.5 355.3,382.7 355.7,380.9 356.2,381.9 356.6,380.9 357,381.5 357.4,380.1 357.8,381.8 358.2,380.2 358.6,379.6 359,377.2 359.4,377 359.8,378.3 360.3,382.7 360.7,386.1 361.1,390.7 361.5,392.2 361.9,395.1 362.3,395.6 362.7,398.8 363.1,399.8 363.5,398.5 363.9,396.7 364.4,396.2 364.8,394.7 365.2,394.4 365.6,393.2 366,393.7 366.4,393 366.8,394.2 367.2,393 367.6,393.1 368,393.1 368.5,392.9 368.9,391.3 369.3,392.2 369.7,390.6 370.1,391.2 370.5,389.8 370.9,390.5 371.3,389.6 371.7,390.3 372.1,390.5 372.6,391.3 373,391.3 373.4,392.2 373.8,391.6 374.2,393.1 374.6,393.6 375,395.1 375.4,395 375.8,397.5 376.2,396.6 376.7,399.4 377.1,399.6 377.5,400.1 377.9,399.6 378.3,400.1 378.7,398.7 379.1,398.7 379.5,396.3 379.9,394.5 380.3,391.6 380.8,390.9 381.2,388.7 381.6,390 382,388.1 382.4,388.3 382.8,388.2 383.2,389.2 383.6,387.6 384,389 384.4,388.3 384.9,388.5 385.3,387.8 385.7,388.6 386.1,388.4 386.5,389.6 386.9,388.7 387.3,388.7 387.7,387.5 388.1,387.8 388.5,386.4 389,387 389.4,385.6 389.8,386.6 390.2,385.7 390.6,386.8 391,385.8 391.4,386.6 391.8,386 392.2,387.2 392.6,386.1 393.1,387.2 393.5,386.3 393.9,387.2 394.3,385.9 394.7,385.4 395.1,384.3 395.5,383.4 395.9,382.2 396.3,381.5 396.7,380.7 397.2,380.7 397.6,378.9 398,379.6 398.4,378.2 398.8,379.2 399.2,378.2 399.6,379.6 400,377 400.4,378 400.8,375.6 401.3,376 401.7,374.5 402.1,375 402.5,375.8 402.9,378.2 403.3,379.1 403.7,383.9 404.1,387.7 404.5,392 404.9,395.8 405.4,396.5 405.8,395.2 406.2,395.6 406.6,394.8 407,395.6 407.4,393.8 407.8,393.3 408.2,392.5 408.6,392.7 409,392.2 409.5,393.2 409.9,391.8 410.3,392.6 410.7,391.1 411.1,391.2 411.5,390.1 411.9,391.5 412.3,390.6 412.7,391.7 413.1,390 413.6,391 414,390 414.4,391.1 414.8,389.6 415.2,390.3 415.6,390.7 416,392 416.4,391.6 416.8,392.5 417.2,392.5 417.7,393.4 418.1,393 418.5,395.5 418.9,395.5 419.3,397.7 419.7,398 420.1,399.4 420.5,400.1 420.9,401.1 421.3,399.2 421.8,397.6 422.2,395.3 422.6,394.2 423,391.5 423.4,392 423.8,389.5 424.2,390.5 424.6,388.5 425,389.1 425.4,387.6 425.9,387.6 426.3,386.5 426.7,387.4 427.1,387.3 427.5,388 427.9,387.7 428.3,388.1 428.7,388.4 429.1,388.7 429.5,388.7 430,389.3 430.4,388.5 430.8,388.8 431.2,387.9 431.6,388.3 432,387.5 432.4,387.9 432.8,386.7 433.2,387.6 433.6,385.6 434.1,386.9 434.5,385.7 434.9,386.2 435.3,386 435.7,386.8 436.1,386.7 436.5,386.9 436.9,386.3 437.3,387.4 437.7,385.8 438.2,387.2 438.6,384.7 439,385.4 439.4,383.4 439.8,382.7 440.2,380.1 440.6,380.5 441,378.6 441.4,379.3 441.8,377.6 442.3,377.8 442.7,376.8 443.1,377 443.5,376.7 443.9,376.3 444.3,376.1 444.7,378.2 445.1,377.9 445.5,380.2 445.9,382.1 446.4,386 446.8,388.2 447.2,392.8 447.6,394.6 448,398 448.4,396.7 448.8,397.4 449.2,395.3 449.6,395.8 450,394.1 450.5,394.6 450.9,392.7 451.3,393.3 451.7,392.1 452.1,393.3 452.5,391.8 452.9,393.6 453.3,391.9 453.7,392.7 454.1,392 454.6,392.5 455,391.6 455.4,392.6 455.8,391.7 456.2,392.7 456.6,392.1 457,393.9 457.4,392.5 457.8,393.7 458.2,393 458.7,394.5 459.1,394.4 459.5,395.3 459.9,396 460.3,397.8 460.7,397.7 461.1,399.9 461.5,399.4 461.9,402.1 462.3,402 462.8,403.5 463.2,403.5 463.6,402.6 464,400.3 464.4,398.8 464.8,396.8 465.2,396.1 465.6,394.1 466,393.9 466.4,391.5 466.9,392.8 467.3,391.5 467.7,392.6 468.1,391 468.5,391.1 468.9,390.3 469.3,390.6 469.7,389.5 470.1,390.5 470.5,389.6 471,391 471.4,389.7 471.8,392.2 472.2,391.1 472.6,392 473,390.6 473.4,391.4 473.8,391.1 474.2,392.2 474.6,391.8 475.1,392.1 475.5,390.2 475.9,391.5 476.3,390.3 476.7,390.4 477.1,389.6 477.5,389.9 477.9,388.4 478.3,389.3 478.7,389 479.2,390.6 479.6,389.1 480,390.2 480.4,390.3 480.8,390.4 481.2,390.6 481.6,389.7 482,388.1 482.4,388.3 482.8,385.1 483.3,385.1 483.7,384.2 484.1,383.3 484.5,382.1 484.9,382.9 485.3,381.9 485.7,382.6 486.1,381 486.5,381.4 486.9,380.3 487.4,381.1 487.8,380.2 488.2,382 488.6,385 489,388.3 489.4,391.2 489.8,396 490.2,398.4 490.6,402.5 491,404.1 491.5,404.4 491.9,403 492.3,403.4 492.7,401.6 493.1,401.4 493.5,400.1 493.9,400.8 494.3,399.7 494.7,399.6 495.1,398.8 495.6,399.1 496,398.4 496.4,400.5 496.8,398.2 497.2,398.7 497.6,397.5 498,398 498.4,397.2 498.8,399.1 499.2,398.4 499.7,400.2 500.1,398.5 500.5,400.5 500.9,400.2 501.3,400.2 501.7,400.6 502.1,401.1 502.5,401.8 502.9,403.9 503.3,403.2 503.8,405.1 504.2,404.6 504.6,406.7 505,406.9 505.4,408.2 505.8,408.1 506.2,408.9 506.6,406.7 507,405.4 507.4,403.7 507.9,403 508.3,401.1 508.7,400.9 509.1,398.6 509.5,399.6 509.9,397.6 510.3,398.4 510.7,397 511.1,398.1 511.5,396.9 512,397.4 512.4,396.4 512.8,398 513.2,397.3 513.6,398.9 514,397.9 514.4,399.7 514.8,398.7 515.2,399.2 515.6,399.2 516.1,399.9 516.5,399.4 516.9,400.1 517.3,398.2 517.7,398.9 518.1,396.9 518.5,397.1 518.9,396.4 519.3,397 519.7,395.2 520.2,396.7 520.6,396.2 521,397.7 521.4,397.5 521.8,398.6 522.2,397.6 522.6,399.1 523,398.7 523.4,398.1 523.8,397.1 524.3,397 524.7,394.7 525.1,394.6 525.5,394.3 525.9,393.2 526.3,391.4 526.7,391.7 527.1,389.8 527.5,390 527.9,388.8 528.4,388.8 528.8,388 529.2,387.7 529.6,387.1 530,387.7 530.4,388 530.8,392.3 531.2,392.3 531.6,396.1 532,397.5 532.5,401.7 532.9,403.3 533.3,408.3 533.7,409.7 534.1,412.9 534.5,410.6 534.9,410.6 535.3,408.5 535.7,408.3 536.1,406.7 536.6,406.6 537,404.6 537.4,405.1 537.8,404.7 538.2,406.1 538.6,404.9 539,406.3 539.4,405.3 539.8,406 540.2,405.1 540.7,405.8 541.1,404.7 541.5,405.4 541.9,404.7 542.3,404.5 542.7,403 543.1,404.9 543.5,404.1 543.9,405.7 544.3,406.3 544.8,407.3 545.2,406.7 545.6,408.3 546,407.6 546.4,409.6 546.8,408.9 547.2,410.7 547.6,410.6 548,413.1 548.4,413 548.9,414 549.3,412.6 549.7,411 550.1,408.5 550.5,406.9 550.9,404.3 551.3,404 551.7,402.5 552.1,402.9 552.5,401.5 553,401.7 553.4,399.9 553.8,401.4 554.2,399.5 554.6,400.2 555,399.4 555.4,400.4 555.8,400.6 556.2,402.5 556.6,400.7 557.1,402.3 557.5,400.4 557.9,402 558.3,400.4 558.7,400.9 559.1,399.9 559.5,400.5 559.9,399 560.3,399.4 560.7,398.3 561.2,399.4 561.6,398.3 562,400.6 562.4,399.1 562.8,400.2 563.2,399.4 563.6,401.1 564,399.3 564.4,400.1 564.8,398.2 565.3,398.2 565.7,395.9 566.1,397.2 566.5,394.9 566.9,395.2 567.3,393.8 567.7,394 568.1,392.9 568.5,392.9 568.9,392 569.4,392.7 569.8,391.4 570.2,392.3 570.6,390.7 571,391.9 571.4,389.5 571.8,389.3 572.2,388.1 572.6,388.6 573,386.7 573.5,389.9 573.9,391.4 574.3,394.9 574.7,397.4 575.1,402.6 575.5,405 575.9,411.2 576.3,410.1 576.7,409.7 577.1,408.7 577.6,408.5 578,407.1 578.4,406.3 578.8,405.6 579.2,405.5 579.6,403.8 580,405.7 580.4,404.4 580.8,405.1 581.2,404.5 581.7,404.8 582.1,404.7 582.5,405.1 582.9,403.9 583.3,405.1 583.7,403.4 584.1,403.8 584.5,402.5 584.9,403.5 585.3,403.3 585.8,404 586.2,403.3 586.6,405.4 587,404.6 587.4,405.9 587.8,406.1 588.2,406.3 588.6,406.3 589,406.9 589.4,407.3 589.9,409.4 590.3,409.5 590.7,410.4 591.1,411 591.5,412.8 591.9,412.3 592.3,412.9 592.7,409.3 593.1,408 593.5,405.7 594,404 594.4,403.5 594.8,403.5 595.2,401.4 595.6,402 596,400.4 596.4,401.1 596.8,398.6 597.2,399.2 597.6,398.3 598.1,400.1 598.5,399 598.9,400.7 599.3,400.2 599.7,401.1 600.1,400.1 600.5,401.4 600.9,399.6 601.3,400.2 601.7,399.1 602.2,398.8 602.6,397.7 603,399.4 603.4,397.6 603.8,398.3 604.2,397.8 604.6,398.7 605,397.6 605.4,398.9 605.8,398.3 606.3,399.3 606.7,398.7 607.1,398.7 607.5,397.3 607.9,398.4 608.3,396.4 608.7,397.3 609.1,395.5 609.5,395.2 609.9,394.3 610.4,394.1 610.8,393 611.2,393.7 611.6,392.7 612,392.5 612.4,391.4 612.8,391.8 613.2,390.6 613.6,389.9 614,389.3 614.5,389.7 614.9,388 615.3,387.6 615.7,386.5 616.1,387.5 616.5,388.9 616.9,392.3 617.3,394 617.7,398.9 618.1,402.5 618.6,407.6 619,410.1 619.4,410.3 619.8,408.4 620.2,409 620.6,406.9 621,406.9 621.4,405.1 621.8,405 622.2,403.5 622.7,404.1 623.1,403.3 623.5,404.5 623.9,403.7 624.3,404.3 624.7,403.4 625.1,404.9 625.5,403 625.9,403.9 626.3,402.5 626.8,403 627.2,401.6 627.6,402.6 628,401.3 628.4,403.2 628.8,402 629.2,403.5 629.6,403.4 630,404.5 630.4,404.2 630.9,405.6 631.3,404.2 631.7,406 632.1,405.4 632.5,408.1 632.9,407.6 633.3,409.7 633.7,410.2 634.1,411.3 634.5,411.5 635,413.5 635.4,410.6 635.8,410 636.2,406.9 636.6,405.8 637,402.6 637.4,402.8 637.8,401.3 638.2,401.7 638.6,399.8 639.1,400.9 639.5,399.5 639.9,399.6 640.3,398.5 640.7,399.7 641.1,399 641.5,400.1 641.9,399.8 642.3,400 642.7,399.6 643.2,400.6 643.6,399 644,399.4 644.4,397.8 644.8,398.5 645.2,397.6 645.6,398.4 646,396.3 646.4,397.8 646.8,396.9 647.3,398.1 647.7,397.1 648.1,398.2 648.5,397.5 648.9,397.8 649.3,397.4 649.7,397.8 650.1,396.6 650.5,397.2 650.9,395.3 651.4,396.3 651.8,394.8 652.2,394.6 652.6,393 653,393.1 653.4,391.5 653.8,391.8 654.2,390.4 654.6,390.7 655,389.2 655.5,389.8 655.9,389 656.3,389 656.7,388.4 657.1,388.2 657.5,387.3 657.9,386.7 658.3,385.3 658.7,386 659.1,385.8 659.6,389.4 660,392.2 660.4,395.4 660.8,398.1 661.2,402.3 661.6,405.7 662,409.7 662.4,407.8 662.8,407.2 663.2,406.2 663.7,406 664.1,404.5 664.5,404.8 664.9,402.5 665.3,403.6 665.7,402.9 666.1,403.5 666.5,402.4 666.9,403.1 667.3,402.3 667.8,403 668.2,402.7 668.6,402.9 669,401.1 669.4,402.1 669.8,400.3 670.2,400.1 670.6,400.3 671,401 671.4,399.8 671.9,401.7 672.3,401.7 672.7,403.1 673.1,402.7 673.5,404.5 673.9,404.3 674.3,405.9 674.7,406 675.1,407.6 675.5,407.3 676,409.3 676.4,408.6 676.8,411.4 677.2,410.1 677.6,412.4 678,409.6 678.4,408.5 678.8,405.5 679.2,404.7 679.6,400.9 680.1,400.4 680.5,399.4 680.9,399.9 681.3,398.7 681.7,400.1 682.1,398.2 682.5,399 682.9,398 683.3,398.7 683.7,397.7 684.2,398.5 684.6,398 685,399 685.4,398.4 685.8,399.9 686.2,398.4 686.6,400.4 687,398.9 687.4,400.4 687.8,399.5 688.3,400 688.7,398 689.1,399.7 689.5,397.4 689.9,397.8 690.3,397 690.7,397.1 691.1,396.3 691.5,396.6 691.9,394.9 692.4,395.6 692.8,395 693.2,395.3 693.6,395 694,396 694.4,395 694.8,396.3 695.2,394.8 695.6,396.7 696,395.8 696.5,394.6 696.9,393 697.3,393.2 697.7,390.6 698.1,389.8 698.5,387.7 698.9,388 699.3,386.8 699.7,386.2 700.1,385.2 700.6,385.4 701,384.2 701.4,384.8 701.8,384.6 702.2,387.7 702.6,390 703,392.6 703.4,395.1 703.8,400 704.2,402.2 704.7,406.5 705.1,408.7 705.5,408 705.9,406.7 706.3,406.8 706.7,404.8 707.1,404.5 707.5,402.6 707.9,402 708.3,401.3 708.8,402.2 709.2,401.3 709.6,401.7 710,400.4 710.4,401 710.8,400.1 711.2,400.9 711.6,400.1 712,400.5 712.4,399.8 712.9,401.3 713.3,400.6 713.7,402.1 714.1,400.9 714.5,402.4 714.9,402 715.3,403.9 715.7,403.2 716.1,404.8 716.5,405 717,406 717.4,406.7 717.8,408.2 718.2,407.7 718.6,410.2 719,409.1 719.4,410.9 719.8,411.1 720.2,411.2 720.6,407.7 721.1,405.5 721.5,402.9 721.9,401.5 722.3,399.1 722.7,398.4 723.1,396.2 723.5,395.9 723.9,394.7 724.3,394.3 724.7,393.1 725.2,393.4 725.6,391.7 726,392.3 726.4,390.7 726.8,391 727.2,390.3 727.6,390.4 728,388.7 728.4,388.9 728.8,387.8 729.3,388.1 729.7,386.5 730.1,386.8 730.5,384.7 730.9,384.3 731.3,383.6 731.7,383.4 732.1,381.7 732.5,382.4 732.9,380.1 733.4,381 733.8,379.6 734.2,380.7 734.6,378.5 735,379.4 735.4,378.7 735.8,378.9 736.2,376.7 736.6,377.2 737,373.9 737.5,374.2 737.9,371.9 738.3,371.8 738.7,369.4 739.1,368.9 739.5,367.4 739.9,366.9 740.3,365.6 740.7,365.3 741.1,363.8 741.6,363.3 742,361.4 742.4,361.7 742.8,360 743.2,358.8 743.6,357.6 744,357.6 744.4,355.2 744.8,358.4 745.2,360 745.7,362.5 746.1,363.9 746.5,369.3 746.9,371 747.3,375.5 747.7,376.3 748.1,376.1 748.5,373.6 748.9,374 749.3,371.4 749.8,369.9 750.2,368.9 750.6,368.6 751,366.5 751.4,366.9 751.8,365.1 752.2,364.8 752.6,362.7 753,363.1 753.4,361.9 753.9,362.2 754.3,360.6 754.7,361.6 755.1,359.4 755.5,360.4 755.9,358.5 756.3,359.3 756.7,357.7 757.1,358.7 757.5,357.2 758,357.6 758.4,357 758.8,357.6 759.2,357.1 759.6,358.4 760,357.7 760.4,359.3 760.8,358.4 761.2,360.4 761.6,360.9 762.1,362.5 762.5,361.5 762.9,360.4 763.3,357.6 763.7,356.6 764.1,353 764.5,352.4 764.9,350.3 765.3,349.9 765.7,347.4 766.2,346.9 766.6,344.7 767,344.3 767.4,342.8 767.8,343 768.2,342.4 768.6,342.7 769,341.4 769.4,342.6 769.8,340.9 770.3,340.8 770.7,339.7 771.1,339.3 771.5,338.7 771.9,338.7 772.3,337 772.7,337.6 773.1,336.3 773.5,336 773.9,334.3 774.4,336.1 774.8,334.4 775.2,335.7 775.6,333.9 776,335.1 776.4,333.7 776.8,335 777.2,333.6 777.6,334.3 778,334.1 778.5,334.4 778.9,332.5 779.3,334 779.7,332.7 780.1,333.3 780.5,332.5 780.9,333.3 781.3,331.2 781.7,330.2 782.1,327.3 782.6,327 783,325 783.4,324.5 783.8,323.8 784.2,324.1 784.6,322.4 785,323 785.4,321.2 785.8,321.8 786.2,320.1 786.7,321 787.1,320.4 787.5,322.9 787.9,325 788.3,327 788.7,328.9 789.1,332.1 789.5,334.6 789.9,337.1 790.3,339 790.8,341.3 791.2,342.2 791.6,342.3 792,340.2 792.4,339.2 792.8,338.4 793.2,338.6 793.6,336.9 794,336.6 794.4,334.6 794.9,335.7 795.3,334.9 795.7,334.9 796.1,334.2 796.5,334.4 796.9,333.4 797.3,334.2 797.7,332.5 798.1,334.6 798.5,333 799,334.3 799.4,333.3 799.8,334.8 800.2,334.1 800.6,334.9 801,334.3 801.4,336.1 801.8,335.4 802.2,336 802.6,336.1 803.1,338.4 803.5,338.4 803.9,340.3 804.3,339.6 804.7,341.9 805.1,341.5 805.5,343.1 805.9,341.2 806.3,341 806.7,338.3 807.2,337.8 807.6,334.8 808,334.3 808.4,331.5 808.8,331 809.2,329.3 809.6,330 810,329.3 810.4,329.9 810.8,328.9 811.3,329.4 811.7,328.6 812.1,329 812.5,328.1 812.9,328.7 813.3,327.5 813.7,327.7 814.1,326 814.5,326.4 814.9,326.3 815.4,326.2 815.8,324.9 816.2,325.4 816.6,324.2 817,326.2 817.4,323.8 817.8,325 818.2,324 818.6,324.4 819,323.3 819.5,324.4 819.9,323.5 820.3,324.2 820.7,323.6 821.1,323.7 821.5,323.2 821.9,324.3 822.3,323.1 822.7,323.1 823.1,321.2 823.6,322.5 824,320.4 824.4,320 824.8,318.8 825.2,318.2 825.6,316.5 826,316.1 826.4,315.1 826.8,315.1 827.2,313.6 827.7,314.5 828.1,312.7 828.5,312.5 828.9,311.8 829.3,312.2 829.7,310.7 830.1,313.6 830.5,314.5 830.9,317.1 831.3,319.6 831.8,324.1 832.2,326.3 832.6,331.6 833,333.2 833.4,333.1 833.8,331.8 834.2,331.6 834.6,328.7 835,328.4 835.4,326.9 835.9,328.3 836.3,326.8 836.7,327 837.1,326.3 837.5,327.3 837.9,325.8 838.3,327 838.7,325.5 839.1,325.9 839.5,324.5 840,325.3 840.4,324.4 840.8,324.9 841.2,324 841.6,324.8 842,324.3 842.4,325.6 842.8,324.4 843.2,325.1 843.6,325.5 844.1,326.2 844.5,325.1 844.9,326.5 845.3,326 845.7,327.3 846.1,327.7 846.5,329 846.9,329.5 847.3,331.1 847.7,331.4 848.2,332.7 848.6,332.8 849,334.3 849.4,331.7 849.8,330.5 850.2,328.6 850.6,327.5 851,324.5 851.4,324 851.8,321 852.3,321.1 852.7,320.3 853.1,321.3 853.5,319.7 853.9,320 854.3,319.2 854.7,320.7 855.1,318.7 855.5,320.1 855.9,318.5 856.4,319.5 856.8,317.9 857.2,318 857.6,317.2 858,318.7 858.4,316.7 858.8,317.5 859.2,316 859.6,316.7 860,315.7 860.5,316.6 860.9,316.3 861.3,316.5 861.7,315.5 862.1,316.2 862.5,315.1 862.9,315.9 863.3,315.8 863.7,315.8 864.1,315.7 864.6,315.5 865,313.3 865.4,313 865.8,311.5 866.2,311.5 866.6,310.1 867,309.4 867.4,307.7 867.8,307.8 868.2,306.1 868.7,306.4 869.1,304.5 869.5,304.9 869.9,303.8 870.3,304.3 870.7,303.3 871.1,304.1 871.5,302.4 871.9,302.3 872.3,301.4 872.8,303 873.2,304.4 873.6,308.8 874,309.1 874.4,312.9 874.8,314.6 875.2,318.8 875.6,319.8 876,323.8 876.4,325.1 876.9,324.6 877.3,322.5 877.7,321.8 878.1,318.8 878.5,318.2 878.9,316.9 879.3,318.1 879.7,316.7 880.1,317.2 880.5,316.1 881,316.3 881.4,315.6 881.8,316.1 882.2,314.8 882.6,315.8 883,315.1 883.4,315.9 883.8,315.2 884.2,315.1 884.6,314.6 885.1,315.6 885.5,314.5 885.9,316.1 886.3,315.3 886.7,316.2 887.1,316.3 887.5,316.7 887.9,316.8 888.3,318 888.7,317.8 889.2,319.6 889.6,319.6 890,321.4 890.4,321.8 890.8,322.8 891.2,323.9 891.6,324.6 892,321.7 892.4,319.5 892.8,315.9 893.3,315.2 893.7,312.3 894.1,311.5 894.5,310.2 894.9,311.1 895.3,310.2 895.7,310.3 896.1,310.5 896.5,310.2 896.9,309.7 897.4,310.8 897.8,309.1 898.2,310.3 898.6,309.8 899,310 899.4,309.5 899.8,310.1 900.2,308.9 900.6,309.6 901,307.9 901.5,308.4 901.9,307.5 902.3,307.8 902.7,306.5 903.1,306.5 903.5,305.9 903.9,307.1 904.3,306 904.7,306.6 905.1,305.2 905.6,306 906,305.3 906.4,306.4 906.8,304.9 907.2,306.2 907.6,304.6 908,305.9 908.4,303.4 908.8,304.1 909.2,302 909.7,302.8 910.1,301.1 910.5,300.8 910.9,299.2 911.3,299.5 911.7,297.5 912.1,297.9 912.5,296.3 912.9,297 913.3,295.5 913.8,295 914.2,293.4 914.6,293.8 915,291.8 915.4,292.1 915.8,293.9 916.2,298 916.6,300.4 917,304.5 917.4,306.9 917.9,309.6 918.3,311.5 918.7,314.6 919.1,315.5 919.5,315.2 919.9,312.7 920.3,312.5 920.7,310 921.1,309.4 921.5,307.8 922,309.6 922.4,307.8 922.8,309.1 923.2,307.4 923.6,307.7 924,307 924.4,307.3 924.8,306.2 925.2,306.6 925.6,306.1 926.1,307 926.5,305.4 926.9,307.1 927.3,305.2 927.7,306.3 928.1,304.6 928.5,305.3 928.9,306.2 929.3,307.3 929.7,306.7 930.2,307 930.6,307.2 931,308.6 931.4,308 931.8,309.6 932.2,309.1 932.6,311 933,310.5 933.4,312.5 933.8,312.6 934.3,313.9 934.7,313.9 935.1,312.4 935.5,309 935.9,307.7 936.3,301.6 936.4,301.7 936.5,333.5 936.7,333.5 936.8,302 936.9,302.1 937,302.2 937.1,302.2 937.2,302.3 937.4,333.5 937.5,333.5 937.6,302.4 937.7,302.5 937.8,302.5 937.9,302.5 938.1,302.5 938.2,333.5 938.3,333.5 938.4,302.4 938.5,302.4 938.6,302.3 938.8,302.3 938.9,302.2 939,333.5 939.1,333.5 939.2,301.9 939.3,301.8 939.5,301.7 939.6,301.6 939.7,301.5 939.8,333.5 939.9,333.5 940,301.2 940.2,301.1 940.3,301.1 940.4,301 940.5,300.9 940.6,333.5 940.8,333.5 940.9,300.8 941,300.7 941.1,300.7 941.2,300.7 941.3,300.7 941.5,333.5 941.6,333.5 941.7,300.8 941.8,300.8 941.9,300.9 942,300.9 942.2,301 942.3,333.5 942.4,333.5 942.5,301.3 942.6,301.3 942.7,301.4 942.9,301.5 943,301.6 943.1,333.5 943.2,333.5 943.3,301.9 943.4,302 943.6,302.1 943.7,302.2 943.8,302.3 943.9,333.5 944,333.5 944.1,302.4 944.3,302.5 944.4,302.5 944.5,302.5 944.6,302.5 944.7,333.5 944.9,333.5" stroke="#0072B2" stroke-width="2.2" stroke-linejoin="round" stroke-linecap="square" fill="none"/>
<path d="M937.4,457.6h0M938.2,456.3h0M939,457.5h0M939.8,456.4h0M940.8,457.3h0M940.2,457.8h0" stroke="#f00" stroke-width="5.56" stroke-linecap="round" fill="none"/>
<path d="M169.5,542.5v5.3M340.5,542.5v5.3M511.5,542.5v5.3M682.5,542.5v5.3M854.5,542.5v5.3M79.5,513.5h-5.2M79.5,405.5h-5.2M79.5,298.5h-5.2M79.5,191.5h-5.2M79.5,84.5h-5.2" stroke="#000" stroke-width="1.11" fill="none"/>
<rect x="79.5" y="15.5" width="906.0" height="527.0" fill="none" stroke="#000" stroke-width="1.11"/>
<text x="169.5" y="561.8" text-anchor="middle">2008</text>
<text x="340.5" y="561.8" text-anchor="middle">2012</text>
<text x="511.5" y="561.8" text-anchor="middle">2016</text>
<text x="682.5" y="561.8" text-anchor="middle">2020</text>
<text x="854.5" y="561.8" text-anchor="middle">2024</text>
<text x="70.3" y="517.7" text-anchor="end">0</text>
<text x="70.3" y="411.3" text-anchor="end">2000</text>
<text x="70.3" y="304.1" text-anchor="end">4000</text>
<text x="70.3" y="196.8" text-anchor="end">6000</text>
<text x="70.3" y="88.6" text-anchor="end">8000</text>
<text x="532.5" y="581.5" text-anchor="middle">ds</text>
<text transform="translate(25.2,279) rotate(-90)" text-anchor="middle">y</text>
</svg></body></html>
